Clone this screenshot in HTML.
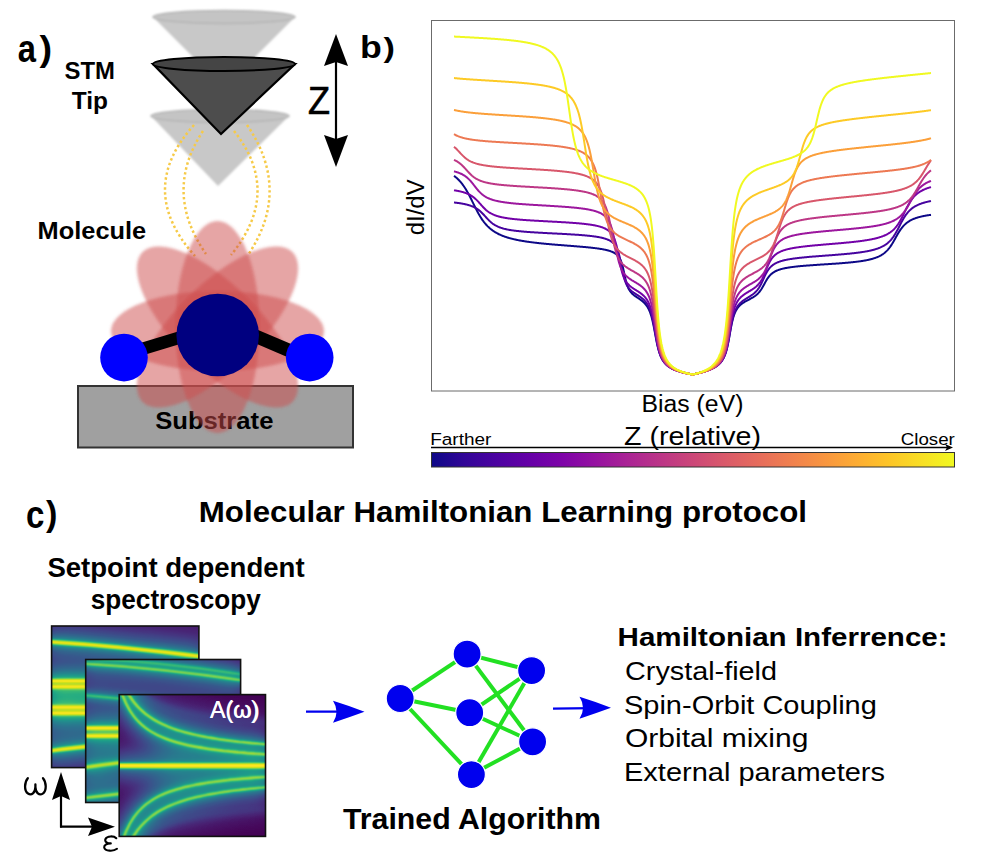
<!DOCTYPE html>
<html><head><meta charset="utf-8">
<style>
html,body{margin:0;padding:0;background:#fff;}
body{width:997px;height:856px;overflow:hidden;}
svg{display:block;}
text{font-family:"Liberation Sans",sans-serif;}
.b{font-weight:bold;}
</style></head><body>
<svg width="997" height="856" viewBox="0 0 997 856">
<defs>
<filter id="blur1" x="-20%" y="-20%" width="140%" height="140%"><feGaussianBlur stdDeviation="1.2"/></filter>
<filter id="blurOrb" x="-20%" y="-20%" width="140%" height="140%"><feGaussianBlur stdDeviation="1.5"/></filter>
<linearGradient id="plasmaG" x1="0" y1="0" x2="1" y2="0"><stop offset="0.000" stop-color="#0d0887"/><stop offset="0.062" stop-color="#310597"/><stop offset="0.125" stop-color="#4c02a1"/><stop offset="0.188" stop-color="#6600a7"/><stop offset="0.250" stop-color="#7e03a8"/><stop offset="0.312" stop-color="#9511a1"/><stop offset="0.375" stop-color="#aa2395"/><stop offset="0.438" stop-color="#bc3587"/><stop offset="0.500" stop-color="#cc4778"/><stop offset="0.562" stop-color="#da5a6a"/><stop offset="0.625" stop-color="#e66c5c"/><stop offset="0.688" stop-color="#f0804e"/><stop offset="0.750" stop-color="#f89540"/><stop offset="0.812" stop-color="#fdac33"/><stop offset="0.875" stop-color="#fdc527"/><stop offset="0.938" stop-color="#f8df25"/><stop offset="1.000" stop-color="#f0f921"/></linearGradient>
</defs>
<rect width="997" height="856" fill="#fff"/>
<g filter="url(#blur1)" opacity="1">
<path d="M153 17 L295 17 L224 88 Z" fill="#c8c8c8"/>
<ellipse cx="224" cy="17" rx="71" ry="6.5" fill="#c4c4c4" stroke="#b4b4b4" stroke-width="1.5"/>
<path d="M151 116 L289 116 L218 186 Z" fill="#c8c8c8"/>
<ellipse cx="220" cy="116" rx="69" ry="6.5" fill="#c4c4c4" stroke="#b4b4b4" stroke-width="1.5"/>
</g>
<path d="M153 64 L295 64 L221 134 Z" fill="#4d4d4d" stroke="#000" stroke-width="2.2" stroke-linejoin="miter"/>
<ellipse cx="224" cy="64" rx="71" ry="7" fill="#454545" stroke="#000" stroke-width="2"/>
<g fill="none" stroke="#f6ca48" stroke-width="2.5" stroke-dasharray="2.4 2.6">
<path d="M194 125 Q135.5 190 195 256"/>
<path d="M203 131 Q162.7 192 206 254"/>
<path d="M234 131 Q282.5 192 231 255"/>
<path d="M247 125 Q291.7 190 248 255"/>
</g>
<line x1="336" y1="58" x2="336" y2="143" stroke="#000" stroke-width="2.2"/>
<path d="M336 34 L348 66 L336 62 L324 66 Z" fill="#000"/>
<path d="M336 167 L348 135 L336 139 L324 135 Z" fill="#000"/>
<rect x="78" y="386" width="275" height="61.5" fill="#a0a0a0" stroke="#333" stroke-width="2"/>
<text x="155.20" y="429.30" font-size="24.60" font-weight="bold" fill="#000" textLength="118.20" lengthAdjust="spacingAndGlyphs">Substrate</text>
<g filter="url(#blurOrb)">
<ellipse cx="217.5" cy="331" rx="106.5" ry="40" fill="rgb(205,75,75)" fill-opacity="0.5"/>
<ellipse cx="217.5" cy="327" rx="106" ry="42" fill="rgb(205,75,75)" fill-opacity="0.5" transform="rotate(45 217.5 327)"/>
<ellipse cx="217.5" cy="327" rx="106" ry="42" fill="rgb(205,75,75)" fill-opacity="0.5" transform="rotate(90 217.5 327)"/>
<ellipse cx="217.5" cy="327" rx="106" ry="42" fill="rgb(205,75,75)" fill-opacity="0.5" transform="rotate(135 217.5 327)"/>
</g>
<line x1="124" y1="354.4" x2="217.7" y2="326" stroke="#000" stroke-width="12.5"/>
<line x1="309.7" y1="359.3" x2="217.7" y2="320" stroke="#000" stroke-width="13.5"/>
<circle cx="217.7" cy="335" r="41.3" fill="#000080"/>
<circle cx="124" cy="357.6" r="23.8" fill="#0000ff"/>
<circle cx="309.7" cy="357.6" r="23.8" fill="#0000ff"/>
<rect x="431.5" y="20.5" width="523" height="370.5" fill="none" stroke="#6b6b6b" stroke-width="1"/>
<g fill="none" stroke-width="2" stroke-linejoin="round" stroke-linecap="butt">
<path d="M454.0 175.83 L454.5 176.20 L455.0 176.59 L455.5 176.99 L456.0 177.41 L456.5 177.84 L457.0 178.29 L457.5 178.75 L458.0 179.23 L458.5 179.72 L459.0 180.23 L459.5 180.76 L460.0 181.31 L460.5 181.88 L461.0 182.47 L461.5 183.08 L462.0 183.71 L462.5 184.36 L463.0 185.04 L463.5 185.73 L464.0 186.45 L464.5 187.20 L465.0 187.96 L465.5 188.75 L466.0 189.56 L466.5 190.40 L467.0 191.25 L467.5 192.13 L468.0 193.03 L468.5 193.95 L469.0 194.89 L469.5 195.85 L470.0 196.82 L470.5 197.81 L471.0 198.80 L471.5 199.81 L472.0 200.83 L472.5 201.85 L473.0 202.87 L473.5 203.89 L474.0 204.91 L474.5 205.93 L475.0 206.94 L475.5 207.94 L476.0 208.92 L476.5 209.90 L477.0 210.86 L477.5 211.80 L478.0 212.72 L478.5 213.62 L479.0 214.51 L479.5 215.37 L480.0 216.21 L480.5 217.02 L481.0 217.82 L481.5 218.59 L482.0 219.33 L482.5 220.06 L483.0 220.76 L483.5 221.43 L484.0 222.09 L484.5 222.72 L485.0 223.34 L485.5 223.93 L486.0 224.50 L486.5 225.06 L487.0 225.59 L487.5 226.11 L488.0 226.60 L488.5 227.08 L489.0 227.55 L489.5 228.00 L490.0 228.43 L490.5 228.85 L491.0 229.26 L491.5 229.65 L492.0 230.03 L492.5 230.40 L493.0 230.75 L493.5 231.09 L494.0 231.43 L494.5 231.75 L495.0 232.06 L495.5 232.36 L496.0 232.65 L496.5 232.94 L497.0 233.21 L497.5 233.48 L498.0 233.74 L498.5 233.99 L499.0 234.24 L499.5 234.47 L500.0 234.70 L500.5 234.93 L501.0 235.15 L501.5 235.36 L502.0 235.57 L502.5 235.77 L503.0 235.96 L503.5 236.15 L504.0 236.34 L504.5 236.52 L505.0 236.70 L505.5 236.87 L506.0 237.04 L506.5 237.20 L507.0 237.36 L507.5 237.52 L508.0 237.67 L508.5 237.82 L509.0 237.96 L509.5 238.10 L510.0 238.24 L510.5 238.38 L511.0 238.51 L511.5 238.64 L512.0 238.77 L512.5 238.89 L513.0 239.01 L513.5 239.13 L514.0 239.25 L514.5 239.37 L515.0 239.48 L515.5 239.59 L516.0 239.70 L516.5 239.80 L517.0 239.91 L517.5 240.01 L518.0 240.11 L518.5 240.21 L519.0 240.30 L519.5 240.40 L520.0 240.49 L520.5 240.58 L521.0 240.67 L521.5 240.76 L522.0 240.84 L522.5 240.93 L523.0 241.01 L523.5 241.10 L524.0 241.18 L524.5 241.26 L525.0 241.34 L525.5 241.41 L526.0 241.49 L526.5 241.56 L527.0 241.64 L527.5 241.71 L528.0 241.78 L528.5 241.85 L529.0 241.92 L529.5 241.99 L530.0 242.06 L530.5 242.12 L531.0 242.19 L531.5 242.26 L532.0 242.32 L532.5 242.38 L533.0 242.44 L533.5 242.51 L534.0 242.57 L534.5 242.63 L535.0 242.69 L535.5 242.75 L536.0 242.80 L536.5 242.86 L537.0 242.92 L537.5 242.97 L538.0 243.03 L538.5 243.08 L539.0 243.14 L539.5 243.19 L540.0 243.24 L540.5 243.30 L541.0 243.35 L541.5 243.40 L542.0 243.45 L542.5 243.50 L543.0 243.55 L543.5 243.60 L544.0 243.65 L544.5 243.70 L545.0 243.74 L545.5 243.79 L546.0 243.84 L546.5 243.89 L547.0 243.93 L547.5 243.98 L548.0 244.03 L548.5 244.07 L549.0 244.12 L549.5 244.16 L550.0 244.20 L550.5 244.25 L551.0 244.29 L551.5 244.34 L552.0 244.38 L552.5 244.42 L553.0 244.47 L553.5 244.51 L554.0 244.55 L554.5 244.59 L555.0 244.63 L555.5 244.67 L556.0 244.72 L556.5 244.76 L557.0 244.80 L557.5 244.84 L558.0 244.88 L558.5 244.92 L559.0 244.96 L559.5 245.00 L560.0 245.04 L560.5 245.08 L561.0 245.12 L561.5 245.16 L562.0 245.20 L562.5 245.24 L563.0 245.28 L563.5 245.32 L564.0 245.36 L564.5 245.40 L565.0 245.43 L565.5 245.47 L566.0 245.51 L566.5 245.55 L567.0 245.59 L567.5 245.63 L568.0 245.67 L568.5 245.71 L569.0 245.75 L569.5 245.79 L570.0 245.82 L570.5 245.86 L571.0 245.90 L571.5 245.94 L572.0 245.98 L572.5 246.02 L573.0 246.06 L573.5 246.10 L574.0 246.14 L574.5 246.18 L575.0 246.22 L575.5 246.26 L576.0 246.30 L576.5 246.34 L577.0 246.38 L577.5 246.42 L578.0 246.46 L578.5 246.50 L579.0 246.55 L579.5 246.59 L580.0 246.63 L580.5 246.67 L581.0 246.72 L581.5 246.76 L582.0 246.80 L582.5 246.85 L583.0 246.89 L583.5 246.93 L584.0 246.98 L584.5 247.02 L585.0 247.07 L585.5 247.12 L586.0 247.16 L586.5 247.21 L587.0 247.26 L587.5 247.31 L588.0 247.35 L588.5 247.40 L589.0 247.45 L589.5 247.51 L590.0 247.56 L590.5 247.61 L591.0 247.66 L591.5 247.72 L592.0 247.77 L592.5 247.83 L593.0 247.88 L593.5 247.94 L594.0 248.00 L594.5 248.06 L595.0 248.12 L595.5 248.18 L596.0 248.25 L596.5 248.31 L597.0 248.38 L597.5 248.45 L598.0 248.51 L598.5 248.59 L599.0 248.66 L599.5 248.73 L600.0 248.81 L600.5 248.89 L601.0 248.97 L601.5 249.05 L602.0 249.14 L602.5 249.23 L603.0 249.32 L603.5 249.41 L604.0 249.51 L604.5 249.61 L605.0 249.71 L605.5 249.82 L606.0 249.93 L606.5 250.05 L607.0 250.17 L607.5 250.30 L608.0 250.44 L608.5 250.57 L609.0 250.72 L609.5 250.87 L610.0 251.04 L610.5 251.21 L611.0 251.39 L611.5 251.58 L612.0 251.78 L612.5 252.00 L613.0 252.23 L613.5 252.48 L614.0 252.75 L614.5 253.03 L615.0 253.34 L615.5 253.68 L616.0 254.05 L616.5 254.46 L617.0 254.91 L617.5 255.40 L618.0 255.95 L618.5 256.57 L619.0 257.26 L619.5 258.05 L620.0 258.95 L620.5 259.98 L621.0 261.16 L621.5 262.51 L622.0 264.07 L622.5 265.84 L623.0 267.83 L623.5 270.01 L624.0 272.33 L624.5 274.72 L625.0 277.06 L625.5 279.28 L626.0 281.32 L626.5 283.15 L627.0 284.76 L627.5 286.18 L628.0 287.42 L628.5 288.50 L629.0 289.46 L629.5 290.30 L630.0 291.06 L630.5 291.74 L631.0 292.36 L631.5 292.92 L632.0 293.44 L632.5 293.92 L633.0 294.37 L633.5 294.80 L634.0 295.20 L634.5 295.59 L635.0 295.96 L635.5 296.32 L636.0 296.67 L636.5 297.01 L637.0 297.35 L637.5 297.69 L638.0 298.02 L638.5 298.36 L639.0 298.70 L639.5 299.04 L640.0 299.39 L640.5 299.75 L641.0 300.12 L641.5 300.50 L642.0 300.89 L642.5 301.30 L643.0 301.73 L643.5 302.18 L644.0 302.66 L644.5 303.17 L645.0 303.71 L645.5 304.28 L646.0 304.90 L646.5 305.56 L647.0 306.28 L647.5 307.06 L648.0 307.91 L648.5 308.85 L649.0 309.87 L649.5 310.99 L650.0 312.24 L650.5 313.61 L651.0 315.13 L651.5 316.81 L652.0 318.66 L652.5 320.70 L653.0 322.91 L653.5 325.30 L654.0 327.84 L654.5 330.48 L655.0 333.19 L655.5 335.90 L656.0 338.56 L656.5 341.12 L657.0 343.53 L657.5 345.78 L658.0 347.84 L658.5 349.73 L659.0 351.44 L659.5 352.99 L660.0 354.40 L660.5 355.67 L661.0 356.82 L661.5 357.86 L662.0 358.81 L662.5 359.68 L663.0 360.48 L663.5 361.21 L664.0 361.89 L664.5 362.51 L665.0 363.09 L665.5 363.63 L666.0 364.13 L666.5 364.60 L667.0 365.04 L667.5 365.46 L668.0 365.85 L668.5 366.22 L669.0 366.56 L669.5 366.90 L670.0 367.21 L670.5 367.51 L671.0 367.80 L671.5 368.07 L672.0 368.33 L672.5 368.59 L673.0 368.83 L673.5 369.06 L674.0 369.28 L674.5 369.50 L675.0 369.71 L675.5 369.91 L676.0 370.10 L676.5 370.29 L677.0 370.47 L677.5 370.65 L678.0 370.82 L678.5 370.99 L679.0 371.16 L679.5 371.31 L680.0 371.47 L680.5 371.62 L681.0 371.77 L681.5 371.91 L682.0 372.06 L682.5 372.19 L683.0 372.33 L683.5 372.46 L684.0 372.59 L684.5 372.72 L685.0 372.84 L685.5 372.97 L686.0 373.09 L686.5 373.21 L687.0 373.32 L687.5 373.44 L688.0 373.55 L688.5 373.66 L689.0 373.77 L689.5 373.88 L690.0 373.99 L690.5 374.09 L691.0 374.20 L691.5 374.30 L692.0 374.40 L692.5 374.50 L693.0 374.39 L693.5 374.27 L694.0 374.15 L694.5 374.04 L695.0 373.92 L695.5 373.80 L696.0 373.68 L696.5 373.55 L697.0 373.43 L697.5 373.30 L698.0 373.18 L698.5 373.05 L699.0 372.92 L699.5 372.78 L700.0 372.65 L700.5 372.51 L701.0 372.38 L701.5 372.24 L702.0 372.09 L702.5 371.95 L703.0 371.80 L703.5 371.65 L704.0 371.50 L704.5 371.34 L705.0 371.18 L705.5 371.02 L706.0 370.85 L706.5 370.68 L707.0 370.51 L707.5 370.33 L708.0 370.15 L708.5 369.97 L709.0 369.78 L709.5 369.58 L710.0 369.38 L710.5 369.17 L711.0 368.95 L711.5 368.73 L712.0 368.50 L712.5 368.26 L713.0 368.02 L713.5 367.76 L714.0 367.49 L714.5 367.22 L715.0 366.93 L715.5 366.62 L716.0 366.31 L716.5 365.97 L717.0 365.62 L717.5 365.25 L718.0 364.86 L718.5 364.44 L719.0 364.00 L719.5 363.52 L720.0 363.02 L720.5 362.47 L721.0 361.88 L721.5 361.25 L722.0 360.56 L722.5 359.81 L723.0 358.98 L723.5 358.07 L724.0 357.07 L724.5 355.96 L725.0 354.73 L725.5 353.36 L726.0 351.82 L726.5 350.10 L727.0 348.19 L727.5 346.08 L728.0 343.75 L728.5 341.23 L729.0 338.54 L729.5 335.75 L730.0 332.91 L730.5 330.11 L731.0 327.42 L731.5 324.88 L732.0 322.54 L732.5 320.41 L733.0 318.50 L733.5 316.78 L734.0 315.25 L734.5 313.88 L735.0 312.66 L735.5 311.56 L736.0 310.58 L736.5 309.69 L737.0 308.89 L737.5 308.16 L738.0 307.49 L738.5 306.88 L739.0 306.31 L739.5 305.79 L740.0 305.30 L740.5 304.85 L741.0 304.42 L741.5 304.02 L742.0 303.64 L742.5 303.28 L743.0 302.94 L743.5 302.61 L744.0 302.30 L744.5 301.99 L745.0 301.70 L745.5 301.41 L746.0 301.13 L746.5 300.86 L747.0 300.59 L747.5 300.32 L748.0 300.06 L748.5 299.79 L749.0 299.53 L749.5 299.27 L750.0 299.00 L750.5 298.73 L751.0 298.46 L751.5 298.18 L752.0 297.90 L752.5 297.61 L753.0 297.31 L753.5 297.00 L754.0 296.67 L754.5 296.34 L755.0 295.99 L755.5 295.62 L756.0 295.23 L756.5 294.82 L757.0 294.38 L757.5 293.92 L758.0 293.43 L758.5 292.91 L759.0 292.35 L759.5 291.76 L760.0 291.12 L760.5 290.45 L761.0 289.73 L761.5 288.97 L762.0 288.17 L762.5 287.33 L763.0 286.46 L763.5 285.56 L764.0 284.65 L764.5 283.72 L765.0 282.80 L765.5 281.89 L766.0 281.01 L766.5 280.15 L767.0 279.34 L767.5 278.56 L768.0 277.82 L768.5 277.14 L769.0 276.49 L769.5 275.89 L770.0 275.33 L770.5 274.81 L771.0 274.33 L771.5 273.88 L772.0 273.46 L772.5 273.08 L773.0 272.71 L773.5 272.38 L774.0 272.06 L774.5 271.77 L775.0 271.49 L775.5 271.23 L776.0 270.98 L776.5 270.75 L777.0 270.54 L777.5 270.33 L778.0 270.14 L778.5 269.95 L779.0 269.78 L779.5 269.61 L780.0 269.45 L780.5 269.30 L781.0 269.16 L781.5 269.02 L782.0 268.89 L782.5 268.76 L783.0 268.64 L783.5 268.52 L784.0 268.41 L784.5 268.31 L785.0 268.20 L785.5 268.10 L786.0 268.01 L786.5 267.91 L787.0 267.82 L787.5 267.73 L788.0 267.65 L788.5 267.57 L789.0 267.49 L789.5 267.41 L790.0 267.34 L790.5 267.26 L791.0 267.19 L791.5 267.12 L792.0 267.06 L792.5 266.99 L793.0 266.93 L793.5 266.87 L794.0 266.80 L794.5 266.75 L795.0 266.69 L795.5 266.63 L796.0 266.57 L796.5 266.52 L797.0 266.47 L797.5 266.41 L798.0 266.36 L798.5 266.31 L799.0 266.26 L799.5 266.21 L800.0 266.17 L800.5 266.12 L801.0 266.07 L801.5 266.03 L802.0 265.98 L802.5 265.94 L803.0 265.90 L803.5 265.85 L804.0 265.81 L804.5 265.77 L805.0 265.73 L805.5 265.69 L806.0 265.65 L806.5 265.61 L807.0 265.57 L807.5 265.53 L808.0 265.49 L808.5 265.45 L809.0 265.42 L809.5 265.38 L810.0 265.34 L810.5 265.31 L811.0 265.27 L811.5 265.23 L812.0 265.20 L812.5 265.16 L813.0 265.13 L813.5 265.09 L814.0 265.06 L814.5 265.02 L815.0 264.99 L815.5 264.96 L816.0 264.92 L816.5 264.89 L817.0 264.85 L817.5 264.82 L818.0 264.79 L818.5 264.76 L819.0 264.72 L819.5 264.69 L820.0 264.66 L820.5 264.62 L821.0 264.59 L821.5 264.56 L822.0 264.53 L822.5 264.49 L823.0 264.46 L823.5 264.43 L824.0 264.40 L824.5 264.36 L825.0 264.33 L825.5 264.30 L826.0 264.27 L826.5 264.23 L827.0 264.20 L827.5 264.17 L828.0 264.14 L828.5 264.10 L829.0 264.07 L829.5 264.04 L830.0 264.01 L830.5 263.97 L831.0 263.94 L831.5 263.91 L832.0 263.87 L832.5 263.84 L833.0 263.80 L833.5 263.77 L834.0 263.74 L834.5 263.70 L835.0 263.67 L835.5 263.63 L836.0 263.60 L836.5 263.56 L837.0 263.53 L837.5 263.49 L838.0 263.45 L838.5 263.42 L839.0 263.38 L839.5 263.34 L840.0 263.31 L840.5 263.27 L841.0 263.23 L841.5 263.19 L842.0 263.15 L842.5 263.11 L843.0 263.07 L843.5 263.03 L844.0 262.99 L844.5 262.95 L845.0 262.91 L845.5 262.87 L846.0 262.82 L846.5 262.78 L847.0 262.74 L847.5 262.69 L848.0 262.65 L848.5 262.60 L849.0 262.55 L849.5 262.51 L850.0 262.46 L850.5 262.41 L851.0 262.36 L851.5 262.31 L852.0 262.26 L852.5 262.21 L853.0 262.15 L853.5 262.10 L854.0 262.04 L854.5 261.99 L855.0 261.93 L855.5 261.87 L856.0 261.81 L856.5 261.75 L857.0 261.69 L857.5 261.63 L858.0 261.57 L858.5 261.50 L859.0 261.43 L859.5 261.37 L860.0 261.30 L860.5 261.22 L861.0 261.15 L861.5 261.08 L862.0 261.00 L862.5 260.92 L863.0 260.84 L863.5 260.76 L864.0 260.67 L864.5 260.58 L865.0 260.50 L865.5 260.40 L866.0 260.31 L866.5 260.21 L867.0 260.11 L867.5 260.01 L868.0 259.90 L868.5 259.79 L869.0 259.68 L869.5 259.56 L870.0 259.44 L870.5 259.32 L871.0 259.19 L871.5 259.06 L872.0 258.92 L872.5 258.78 L873.0 258.64 L873.5 258.48 L874.0 258.33 L874.5 258.16 L875.0 257.99 L875.5 257.82 L876.0 257.63 L876.5 257.44 L877.0 257.25 L877.5 257.04 L878.0 256.82 L878.5 256.60 L879.0 256.36 L879.5 256.12 L880.0 255.86 L880.5 255.59 L881.0 255.31 L881.5 255.02 L882.0 254.71 L882.5 254.39 L883.0 254.05 L883.5 253.69 L884.0 253.32 L884.5 252.93 L885.0 252.51 L885.5 252.08 L886.0 251.62 L886.5 251.14 L887.0 250.64 L887.5 250.11 L888.0 249.55 L888.5 248.96 L889.0 248.35 L889.5 247.71 L890.0 247.04 L890.5 246.33 L891.0 245.60 L891.5 244.84 L892.0 244.06 L892.5 243.24 L893.0 242.41 L893.5 241.55 L894.0 240.68 L894.5 239.79 L895.0 238.89 L895.5 237.99 L896.0 237.09 L896.5 236.20 L897.0 235.31 L897.5 234.44 L898.0 233.58 L898.5 232.75 L899.0 231.94 L899.5 231.15 L900.0 230.39 L900.5 229.66 L901.0 228.96 L901.5 228.29 L902.0 227.64 L902.5 227.03 L903.0 226.45 L903.5 225.89 L904.0 225.36 L904.5 224.86 L905.0 224.38 L905.5 223.92 L906.0 223.49 L906.5 223.08 L907.0 222.68 L907.5 222.31 L908.0 221.96 L908.5 221.62 L909.0 221.30 L909.5 220.99 L910.0 220.70 L910.5 220.42 L911.0 220.15 L911.5 219.90 L912.0 219.66 L912.5 219.42 L913.0 219.20 L913.5 218.99 L914.0 218.78 L914.5 218.59 L915.0 218.40 L915.5 218.22 L916.0 218.04 L916.5 217.87 L917.0 217.71 L917.5 217.56 L918.0 217.41 L918.5 217.27 L919.0 217.13 L919.5 216.99 L920.0 216.86 L920.5 216.74 L921.0 216.62 L921.5 216.50 L922.0 216.39 L922.5 216.28 L923.0 216.17 L923.5 216.07 L924.0 215.97 L924.5 215.87 L925.0 215.78 L925.5 215.69 L926.0 215.60 L926.5 215.51 L927.0 215.43 L927.5 215.35 L928.0 215.27 L928.5 215.19 L929.0 215.12 L929.5 215.05 L930.0 214.98 L930.5 214.91 L931.0 214.84" stroke="#0d0887"/>
<path d="M454.0 202.49 L454.5 202.55 L455.0 202.60 L455.5 202.66 L456.0 202.72 L456.5 202.78 L457.0 202.84 L457.5 202.91 L458.0 202.97 L458.5 203.04 L459.0 203.11 L459.5 203.19 L460.0 203.26 L460.5 203.34 L461.0 203.42 L461.5 203.50 L462.0 203.59 L462.5 203.68 L463.0 203.77 L463.5 203.87 L464.0 203.97 L464.5 204.07 L465.0 204.18 L465.5 204.29 L466.0 204.40 L466.5 204.52 L467.0 204.65 L467.5 204.78 L468.0 204.92 L468.5 205.06 L469.0 205.21 L469.5 205.36 L470.0 205.53 L470.5 205.70 L471.0 205.87 L471.5 206.06 L472.0 206.25 L472.5 206.46 L473.0 206.67 L473.5 206.90 L474.0 207.13 L474.5 207.38 L475.0 207.64 L475.5 207.91 L476.0 208.20 L476.5 208.50 L477.0 208.82 L477.5 209.15 L478.0 209.50 L478.5 209.86 L479.0 210.25 L479.5 210.65 L480.0 211.07 L480.5 211.51 L481.0 211.96 L481.5 212.43 L482.0 212.92 L482.5 213.42 L483.0 213.94 L483.5 214.47 L484.0 215.01 L484.5 215.56 L485.0 216.11 L485.5 216.67 L486.0 217.23 L486.5 217.78 L487.0 218.33 L487.5 218.87 L488.0 219.40 L488.5 219.92 L489.0 220.42 L489.5 220.91 L490.0 221.38 L490.5 221.84 L491.0 222.27 L491.5 222.69 L492.0 223.09 L492.5 223.48 L493.0 223.85 L493.5 224.20 L494.0 224.53 L494.5 224.85 L495.0 225.15 L495.5 225.44 L496.0 225.71 L496.5 225.97 L497.0 226.22 L497.5 226.46 L498.0 226.68 L498.5 226.90 L499.0 227.10 L499.5 227.30 L500.0 227.49 L500.5 227.67 L501.0 227.84 L501.5 228.00 L502.0 228.16 L502.5 228.31 L503.0 228.45 L503.5 228.59 L504.0 228.73 L504.5 228.85 L505.0 228.98 L505.5 229.09 L506.0 229.21 L506.5 229.32 L507.0 229.42 L507.5 229.53 L508.0 229.62 L508.5 229.72 L509.0 229.81 L509.5 229.90 L510.0 229.99 L510.5 230.07 L511.0 230.15 L511.5 230.23 L512.0 230.30 L512.5 230.38 L513.0 230.45 L513.5 230.52 L514.0 230.59 L514.5 230.65 L515.0 230.72 L515.5 230.78 L516.0 230.84 L516.5 230.90 L517.0 230.96 L517.5 231.01 L518.0 231.07 L518.5 231.12 L519.0 231.18 L519.5 231.23 L520.0 231.28 L520.5 231.33 L521.0 231.37 L521.5 231.42 L522.0 231.47 L522.5 231.51 L523.0 231.56 L523.5 231.60 L524.0 231.64 L524.5 231.69 L525.0 231.73 L525.5 231.77 L526.0 231.81 L526.5 231.85 L527.0 231.88 L527.5 231.92 L528.0 231.96 L528.5 232.00 L529.0 232.03 L529.5 232.07 L530.0 232.10 L530.5 232.14 L531.0 232.17 L531.5 232.21 L532.0 232.24 L532.5 232.27 L533.0 232.30 L533.5 232.34 L534.0 232.37 L534.5 232.40 L535.0 232.43 L535.5 232.46 L536.0 232.49 L536.5 232.52 L537.0 232.55 L537.5 232.58 L538.0 232.61 L538.5 232.64 L539.0 232.67 L539.5 232.69 L540.0 232.72 L540.5 232.75 L541.0 232.78 L541.5 232.81 L542.0 232.83 L542.5 232.86 L543.0 232.89 L543.5 232.91 L544.0 232.94 L544.5 232.97 L545.0 232.99 L545.5 233.02 L546.0 233.05 L546.5 233.07 L547.0 233.10 L547.5 233.13 L548.0 233.15 L548.5 233.18 L549.0 233.20 L549.5 233.23 L550.0 233.25 L550.5 233.28 L551.0 233.30 L551.5 233.33 L552.0 233.36 L552.5 233.38 L553.0 233.41 L553.5 233.43 L554.0 233.46 L554.5 233.48 L555.0 233.51 L555.5 233.53 L556.0 233.56 L556.5 233.59 L557.0 233.61 L557.5 233.64 L558.0 233.66 L558.5 233.69 L559.0 233.71 L559.5 233.74 L560.0 233.77 L560.5 233.79 L561.0 233.82 L561.5 233.85 L562.0 233.87 L562.5 233.90 L563.0 233.93 L563.5 233.95 L564.0 233.98 L564.5 234.01 L565.0 234.03 L565.5 234.06 L566.0 234.09 L566.5 234.12 L567.0 234.15 L567.5 234.17 L568.0 234.20 L568.5 234.23 L569.0 234.26 L569.5 234.29 L570.0 234.32 L570.5 234.35 L571.0 234.38 L571.5 234.41 L572.0 234.44 L572.5 234.47 L573.0 234.50 L573.5 234.53 L574.0 234.57 L574.5 234.60 L575.0 234.63 L575.5 234.67 L576.0 234.70 L576.5 234.73 L577.0 234.77 L577.5 234.80 L578.0 234.84 L578.5 234.87 L579.0 234.91 L579.5 234.95 L580.0 234.99 L580.5 235.02 L581.0 235.06 L581.5 235.10 L582.0 235.14 L582.5 235.18 L583.0 235.22 L583.5 235.27 L584.0 235.31 L584.5 235.35 L585.0 235.40 L585.5 235.44 L586.0 235.49 L586.5 235.54 L587.0 235.59 L587.5 235.63 L588.0 235.68 L588.5 235.74 L589.0 235.79 L589.5 235.84 L590.0 235.90 L590.5 235.95 L591.0 236.01 L591.5 236.07 L592.0 236.13 L592.5 236.19 L593.0 236.26 L593.5 236.32 L594.0 236.39 L594.5 236.46 L595.0 236.53 L595.5 236.60 L596.0 236.68 L596.5 236.76 L597.0 236.84 L597.5 236.92 L598.0 237.01 L598.5 237.10 L599.0 237.19 L599.5 237.28 L600.0 237.38 L600.5 237.49 L601.0 237.59 L601.5 237.70 L602.0 237.82 L602.5 237.94 L603.0 238.07 L603.5 238.20 L604.0 238.34 L604.5 238.48 L605.0 238.63 L605.5 238.79 L606.0 238.96 L606.5 239.14 L607.0 239.33 L607.5 239.53 L608.0 239.74 L608.5 239.96 L609.0 240.20 L609.5 240.45 L610.0 240.73 L610.5 241.02 L611.0 241.34 L611.5 241.68 L612.0 242.05 L612.5 242.45 L613.0 242.89 L613.5 243.37 L614.0 243.91 L614.5 244.49 L615.0 245.15 L615.5 245.87 L616.0 246.69 L616.5 247.61 L617.0 248.64 L617.5 249.82 L618.0 251.16 L618.5 252.68 L619.0 254.40 L619.5 256.34 L620.0 258.50 L620.5 260.85 L621.0 263.36 L621.5 265.96 L622.0 268.56 L622.5 271.08 L623.0 273.44 L623.5 275.61 L624.0 277.56 L624.5 279.30 L625.0 280.84 L625.5 282.20 L626.0 283.41 L626.5 284.47 L627.0 285.43 L627.5 286.28 L628.0 287.05 L628.5 287.74 L629.0 288.38 L629.5 288.96 L630.0 289.50 L630.5 290.00 L631.0 290.47 L631.5 290.91 L632.0 291.33 L632.5 291.72 L633.0 292.10 L633.5 292.47 L634.0 292.82 L634.5 293.16 L635.0 293.50 L635.5 293.83 L636.0 294.15 L636.5 294.47 L637.0 294.79 L637.5 295.11 L638.0 295.44 L638.5 295.76 L639.0 296.09 L639.5 296.43 L640.0 296.77 L640.5 297.13 L641.0 297.49 L641.5 297.87 L642.0 298.26 L642.5 298.67 L643.0 299.11 L643.5 299.56 L644.0 300.04 L644.5 300.55 L645.0 301.09 L645.5 301.67 L646.0 302.29 L646.5 302.96 L647.0 303.69 L647.5 304.48 L648.0 305.35 L648.5 306.29 L649.0 307.33 L649.5 308.48 L650.0 309.75 L650.5 311.16 L651.0 312.72 L651.5 314.45 L652.0 316.36 L652.5 318.48 L653.0 320.79 L653.5 323.29 L654.0 325.96 L654.5 328.77 L655.0 331.65 L655.5 334.54 L656.0 337.39 L656.5 340.12 L657.0 342.70 L657.5 345.09 L658.0 347.29 L658.5 349.29 L659.0 351.11 L659.5 352.74 L660.0 354.22 L660.5 355.55 L661.0 356.75 L661.5 357.84 L662.0 358.83 L662.5 359.73 L663.0 360.55 L663.5 361.30 L664.0 361.99 L664.5 362.63 L665.0 363.23 L665.5 363.78 L666.0 364.29 L666.5 364.77 L667.0 365.21 L667.5 365.63 L668.0 366.03 L668.5 366.40 L669.0 366.75 L669.5 367.08 L670.0 367.40 L670.5 367.70 L671.0 367.99 L671.5 368.26 L672.0 368.52 L672.5 368.77 L673.0 369.01 L673.5 369.24 L674.0 369.46 L674.5 369.68 L675.0 369.88 L675.5 370.08 L676.0 370.27 L676.5 370.46 L677.0 370.64 L677.5 370.81 L678.0 370.98 L678.5 371.14 L679.0 371.30 L679.5 371.45 L680.0 371.61 L680.5 371.75 L681.0 371.90 L681.5 372.04 L682.0 372.17 L682.5 372.31 L683.0 372.44 L683.5 372.56 L684.0 372.69 L684.5 372.81 L685.0 372.93 L685.5 373.05 L686.0 373.16 L686.5 373.28 L687.0 373.39 L687.5 373.50 L688.0 373.60 L688.5 373.71 L689.0 373.81 L689.5 373.92 L690.0 374.02 L690.5 374.12 L691.0 374.21 L691.5 374.31 L692.0 374.41 L692.5 374.50 L693.0 374.39 L693.5 374.28 L694.0 374.17 L694.5 374.06 L695.0 373.94 L695.5 373.83 L696.0 373.71 L696.5 373.59 L697.0 373.47 L697.5 373.35 L698.0 373.23 L698.5 373.10 L699.0 372.98 L699.5 372.85 L700.0 372.72 L700.5 372.59 L701.0 372.45 L701.5 372.32 L702.0 372.18 L702.5 372.04 L703.0 371.89 L703.5 371.75 L704.0 371.60 L704.5 371.44 L705.0 371.29 L705.5 371.13 L706.0 370.97 L706.5 370.80 L707.0 370.63 L707.5 370.45 L708.0 370.27 L708.5 370.09 L709.0 369.90 L709.5 369.70 L710.0 369.50 L710.5 369.30 L711.0 369.08 L711.5 368.86 L712.0 368.63 L712.5 368.39 L713.0 368.15 L713.5 367.89 L714.0 367.62 L714.5 367.35 L715.0 367.05 L715.5 366.75 L716.0 366.43 L716.5 366.09 L717.0 365.74 L717.5 365.36 L718.0 364.96 L718.5 364.54 L719.0 364.09 L719.5 363.61 L720.0 363.10 L720.5 362.54 L721.0 361.94 L721.5 361.30 L722.0 360.59 L722.5 359.82 L723.0 358.98 L723.5 358.05 L724.0 357.03 L724.5 355.89 L725.0 354.63 L725.5 353.22 L726.0 351.65 L726.5 349.89 L727.0 347.93 L727.5 345.75 L728.0 343.36 L728.5 340.76 L729.0 337.99 L729.5 335.10 L730.0 332.17 L730.5 329.27 L731.0 326.47 L731.5 323.83 L732.0 321.40 L732.5 319.18 L733.0 317.18 L733.5 315.39 L734.0 313.79 L734.5 312.36 L735.0 311.08 L735.5 309.94 L736.0 308.90 L736.5 307.97 L737.0 307.13 L737.5 306.36 L738.0 305.65 L738.5 305.00 L739.0 304.40 L739.5 303.84 L740.0 303.32 L740.5 302.84 L741.0 302.38 L741.5 301.94 L742.0 301.53 L742.5 301.14 L743.0 300.76 L743.5 300.40 L744.0 300.05 L744.5 299.72 L745.0 299.39 L745.5 299.06 L746.0 298.75 L746.5 298.43 L747.0 298.12 L747.5 297.82 L748.0 297.51 L748.5 297.20 L749.0 296.89 L749.5 296.58 L750.0 296.26 L750.5 295.94 L751.0 295.61 L751.5 295.27 L752.0 294.92 L752.5 294.56 L753.0 294.18 L753.5 293.79 L754.0 293.38 L754.5 292.95 L755.0 292.49 L755.5 292.01 L756.0 291.51 L756.5 290.97 L757.0 290.39 L757.5 289.78 L758.0 289.13 L758.5 288.43 L759.0 287.69 L759.5 286.89 L760.0 286.04 L760.5 285.15 L761.0 284.20 L761.5 283.20 L762.0 282.16 L762.5 281.09 L763.0 280.00 L763.5 278.90 L764.0 277.79 L764.5 276.70 L765.0 275.64 L765.5 274.61 L766.0 273.63 L766.5 272.69 L767.0 271.81 L767.5 270.99 L768.0 270.21 L768.5 269.49 L769.0 268.82 L769.5 268.20 L770.0 267.62 L770.5 267.09 L771.0 266.59 L771.5 266.12 L772.0 265.69 L772.5 265.29 L773.0 264.91 L773.5 264.56 L774.0 264.23 L774.5 263.92 L775.0 263.63 L775.5 263.36 L776.0 263.10 L776.5 262.85 L777.0 262.62 L777.5 262.40 L778.0 262.20 L778.5 262.00 L779.0 261.81 L779.5 261.63 L780.0 261.46 L780.5 261.30 L781.0 261.14 L781.5 260.99 L782.0 260.85 L782.5 260.71 L783.0 260.58 L783.5 260.45 L784.0 260.33 L784.5 260.21 L785.0 260.09 L785.5 259.98 L786.0 259.87 L786.5 259.77 L787.0 259.67 L787.5 259.57 L788.0 259.48 L788.5 259.39 L789.0 259.30 L789.5 259.21 L790.0 259.13 L790.5 259.04 L791.0 258.96 L791.5 258.89 L792.0 258.81 L792.5 258.74 L793.0 258.66 L793.5 258.59 L794.0 258.52 L794.5 258.46 L795.0 258.39 L795.5 258.32 L796.0 258.26 L796.5 258.20 L797.0 258.14 L797.5 258.08 L798.0 258.02 L798.5 257.96 L799.0 257.90 L799.5 257.85 L800.0 257.79 L800.5 257.74 L801.0 257.68 L801.5 257.63 L802.0 257.58 L802.5 257.53 L803.0 257.48 L803.5 257.43 L804.0 257.38 L804.5 257.33 L805.0 257.28 L805.5 257.23 L806.0 257.19 L806.5 257.14 L807.0 257.10 L807.5 257.05 L808.0 257.01 L808.5 256.96 L809.0 256.92 L809.5 256.87 L810.0 256.83 L810.5 256.79 L811.0 256.75 L811.5 256.70 L812.0 256.66 L812.5 256.62 L813.0 256.58 L813.5 256.54 L814.0 256.50 L814.5 256.46 L815.0 256.42 L815.5 256.38 L816.0 256.34 L816.5 256.30 L817.0 256.26 L817.5 256.22 L818.0 256.18 L818.5 256.15 L819.0 256.11 L819.5 256.07 L820.0 256.03 L820.5 255.99 L821.0 255.96 L821.5 255.92 L822.0 255.88 L822.5 255.84 L823.0 255.80 L823.5 255.77 L824.0 255.73 L824.5 255.69 L825.0 255.65 L825.5 255.62 L826.0 255.58 L826.5 255.54 L827.0 255.50 L827.5 255.47 L828.0 255.43 L828.5 255.39 L829.0 255.35 L829.5 255.32 L830.0 255.28 L830.5 255.24 L831.0 255.20 L831.5 255.16 L832.0 255.13 L832.5 255.09 L833.0 255.05 L833.5 255.01 L834.0 254.97 L834.5 254.93 L835.0 254.89 L835.5 254.85 L836.0 254.81 L836.5 254.78 L837.0 254.74 L837.5 254.70 L838.0 254.65 L838.5 254.61 L839.0 254.57 L839.5 254.53 L840.0 254.49 L840.5 254.45 L841.0 254.41 L841.5 254.36 L842.0 254.32 L842.5 254.28 L843.0 254.23 L843.5 254.19 L844.0 254.15 L844.5 254.10 L845.0 254.06 L845.5 254.01 L846.0 253.97 L846.5 253.92 L847.0 253.87 L847.5 253.82 L848.0 253.78 L848.5 253.73 L849.0 253.68 L849.5 253.63 L850.0 253.58 L850.5 253.53 L851.0 253.47 L851.5 253.42 L852.0 253.37 L852.5 253.32 L853.0 253.26 L853.5 253.21 L854.0 253.15 L854.5 253.09 L855.0 253.03 L855.5 252.97 L856.0 252.91 L856.5 252.85 L857.0 252.79 L857.5 252.73 L858.0 252.66 L858.5 252.60 L859.0 252.53 L859.5 252.47 L860.0 252.40 L860.5 252.33 L861.0 252.25 L861.5 252.18 L862.0 252.11 L862.5 252.03 L863.0 251.95 L863.5 251.87 L864.0 251.79 L864.5 251.71 L865.0 251.63 L865.5 251.54 L866.0 251.45 L866.5 251.36 L867.0 251.27 L867.5 251.17 L868.0 251.07 L868.5 250.97 L869.0 250.87 L869.5 250.76 L870.0 250.66 L870.5 250.54 L871.0 250.43 L871.5 250.31 L872.0 250.19 L872.5 250.07 L873.0 249.94 L873.5 249.81 L874.0 249.67 L874.5 249.53 L875.0 249.38 L875.5 249.23 L876.0 249.08 L876.5 248.91 L877.0 248.75 L877.5 248.58 L878.0 248.40 L878.5 248.21 L879.0 248.02 L879.5 247.82 L880.0 247.61 L880.5 247.40 L881.0 247.17 L881.5 246.94 L882.0 246.70 L882.5 246.45 L883.0 246.18 L883.5 245.91 L884.0 245.62 L884.5 245.32 L885.0 245.00 L885.5 244.68 L886.0 244.33 L886.5 243.97 L887.0 243.59 L887.5 243.20 L888.0 242.78 L888.5 242.34 L889.0 241.88 L889.5 241.40 L890.0 240.90 L890.5 240.36 L891.0 239.81 L891.5 239.22 L892.0 238.61 L892.5 237.96 L893.0 237.29 L893.5 236.58 L894.0 235.84 L894.5 235.07 L895.0 234.27 L895.5 233.44 L896.0 232.58 L896.5 231.70 L897.0 230.79 L897.5 229.86 L898.0 228.91 L898.5 227.94 L899.0 226.97 L899.5 225.99 L900.0 225.01 L900.5 224.04 L901.0 223.08 L901.5 222.13 L902.0 221.20 L902.5 220.29 L903.0 219.40 L903.5 218.54 L904.0 217.71 L904.5 216.91 L905.0 216.14 L905.5 215.41 L906.0 214.70 L906.5 214.03 L907.0 213.38 L907.5 212.77 L908.0 212.18 L908.5 211.63 L909.0 211.10 L909.5 210.59 L910.0 210.11 L910.5 209.65 L911.0 209.22 L911.5 208.80 L912.0 208.41 L912.5 208.03 L913.0 207.67 L913.5 207.33 L914.0 207.00 L914.5 206.69 L915.0 206.39 L915.5 206.10 L916.0 205.83 L916.5 205.57 L917.0 205.32 L917.5 205.08 L918.0 204.85 L918.5 204.62 L919.0 204.41 L919.5 204.21 L920.0 204.01 L920.5 203.82 L921.0 203.64 L921.5 203.46 L922.0 203.29 L922.5 203.13 L923.0 202.97 L923.5 202.82 L924.0 202.67 L924.5 202.53 L925.0 202.39 L925.5 202.25 L926.0 202.12 L926.5 202.00 L927.0 201.88 L927.5 201.76 L928.0 201.64 L928.5 201.53 L929.0 201.43 L929.5 201.32 L930.0 201.22 L930.5 201.12 L931.0 201.02" stroke="#46039f"/>
<path d="M454.0 190.29 L454.5 190.37 L455.0 190.45 L455.5 190.53 L456.0 190.61 L456.5 190.70 L457.0 190.78 L457.5 190.88 L458.0 190.97 L458.5 191.07 L459.0 191.17 L459.5 191.28 L460.0 191.39 L460.5 191.50 L461.0 191.62 L461.5 191.74 L462.0 191.87 L462.5 192.01 L463.0 192.15 L463.5 192.29 L464.0 192.45 L464.5 192.61 L465.0 192.77 L465.5 192.95 L466.0 193.13 L466.5 193.32 L467.0 193.52 L467.5 193.73 L468.0 193.95 L468.5 194.18 L469.0 194.42 L469.5 194.67 L470.0 194.94 L470.5 195.22 L471.0 195.51 L471.5 195.82 L472.0 196.15 L472.5 196.49 L473.0 196.84 L473.5 197.22 L474.0 197.61 L474.5 198.02 L475.0 198.45 L475.5 198.90 L476.0 199.37 L476.5 199.85 L477.0 200.35 L477.5 200.87 L478.0 201.40 L478.5 201.94 L479.0 202.49 L479.5 203.06 L480.0 203.62 L480.5 204.19 L481.0 204.76 L481.5 205.33 L482.0 205.89 L482.5 206.45 L483.0 206.99 L483.5 207.52 L484.0 208.04 L484.5 208.54 L485.0 209.02 L485.5 209.49 L486.0 209.94 L486.5 210.37 L487.0 210.78 L487.5 211.17 L488.0 211.55 L488.5 211.91 L489.0 212.25 L489.5 212.57 L490.0 212.88 L490.5 213.18 L491.0 213.46 L491.5 213.73 L492.0 213.98 L492.5 214.23 L493.0 214.46 L493.5 214.68 L494.0 214.89 L494.5 215.09 L495.0 215.28 L495.5 215.47 L496.0 215.64 L496.5 215.81 L497.0 215.97 L497.5 216.13 L498.0 216.27 L498.5 216.42 L499.0 216.55 L499.5 216.68 L500.0 216.81 L500.5 216.93 L501.0 217.05 L501.5 217.16 L502.0 217.27 L502.5 217.37 L503.0 217.48 L503.5 217.57 L504.0 217.67 L504.5 217.76 L505.0 217.85 L505.5 217.93 L506.0 218.02 L506.5 218.10 L507.0 218.18 L507.5 218.25 L508.0 218.32 L508.5 218.40 L509.0 218.47 L509.5 218.53 L510.0 218.60 L510.5 218.66 L511.0 218.73 L511.5 218.79 L512.0 218.85 L512.5 218.91 L513.0 218.96 L513.5 219.02 L514.0 219.07 L514.5 219.13 L515.0 219.18 L515.5 219.23 L516.0 219.28 L516.5 219.33 L517.0 219.37 L517.5 219.42 L518.0 219.47 L518.5 219.51 L519.0 219.56 L519.5 219.60 L520.0 219.64 L520.5 219.68 L521.0 219.72 L521.5 219.76 L522.0 219.80 L522.5 219.84 L523.0 219.88 L523.5 219.92 L524.0 219.96 L524.5 219.99 L525.0 220.03 L525.5 220.07 L526.0 220.10 L526.5 220.14 L527.0 220.17 L527.5 220.20 L528.0 220.24 L528.5 220.27 L529.0 220.30 L529.5 220.34 L530.0 220.37 L530.5 220.40 L531.0 220.43 L531.5 220.46 L532.0 220.49 L532.5 220.52 L533.0 220.55 L533.5 220.58 L534.0 220.61 L534.5 220.64 L535.0 220.67 L535.5 220.70 L536.0 220.73 L536.5 220.76 L537.0 220.79 L537.5 220.82 L538.0 220.84 L538.5 220.87 L539.0 220.90 L539.5 220.93 L540.0 220.96 L540.5 220.98 L541.0 221.01 L541.5 221.04 L542.0 221.06 L542.5 221.09 L543.0 221.12 L543.5 221.15 L544.0 221.17 L544.5 221.20 L545.0 221.23 L545.5 221.25 L546.0 221.28 L546.5 221.31 L547.0 221.33 L547.5 221.36 L548.0 221.39 L548.5 221.41 L549.0 221.44 L549.5 221.47 L550.0 221.49 L550.5 221.52 L551.0 221.55 L551.5 221.57 L552.0 221.60 L552.5 221.63 L553.0 221.65 L553.5 221.68 L554.0 221.71 L554.5 221.73 L555.0 221.76 L555.5 221.79 L556.0 221.82 L556.5 221.84 L557.0 221.87 L557.5 221.90 L558.0 221.93 L558.5 221.96 L559.0 221.98 L559.5 222.01 L560.0 222.04 L560.5 222.07 L561.0 222.10 L561.5 222.13 L562.0 222.16 L562.5 222.19 L563.0 222.22 L563.5 222.25 L564.0 222.28 L564.5 222.31 L565.0 222.34 L565.5 222.37 L566.0 222.40 L566.5 222.43 L567.0 222.46 L567.5 222.50 L568.0 222.53 L568.5 222.56 L569.0 222.60 L569.5 222.63 L570.0 222.66 L570.5 222.70 L571.0 222.73 L571.5 222.77 L572.0 222.81 L572.5 222.84 L573.0 222.88 L573.5 222.92 L574.0 222.95 L574.5 222.99 L575.0 223.03 L575.5 223.07 L576.0 223.11 L576.5 223.15 L577.0 223.19 L577.5 223.24 L578.0 223.28 L578.5 223.32 L579.0 223.37 L579.5 223.41 L580.0 223.46 L580.5 223.50 L581.0 223.55 L581.5 223.60 L582.0 223.65 L582.5 223.70 L583.0 223.75 L583.5 223.80 L584.0 223.86 L584.5 223.91 L585.0 223.97 L585.5 224.03 L586.0 224.08 L586.5 224.14 L587.0 224.20 L587.5 224.27 L588.0 224.33 L588.5 224.40 L589.0 224.47 L589.5 224.54 L590.0 224.61 L590.5 224.68 L591.0 224.76 L591.5 224.83 L592.0 224.91 L592.5 225.00 L593.0 225.08 L593.5 225.17 L594.0 225.26 L594.5 225.35 L595.0 225.45 L595.5 225.55 L596.0 225.65 L596.5 225.76 L597.0 225.87 L597.5 225.99 L598.0 226.11 L598.5 226.23 L599.0 226.36 L599.5 226.50 L600.0 226.64 L600.5 226.79 L601.0 226.94 L601.5 227.10 L602.0 227.27 L602.5 227.45 L603.0 227.64 L603.5 227.84 L604.0 228.05 L604.5 228.27 L605.0 228.51 L605.5 228.76 L606.0 229.02 L606.5 229.30 L607.0 229.61 L607.5 229.93 L608.0 230.28 L608.5 230.65 L609.0 231.06 L609.5 231.50 L610.0 231.97 L610.5 232.49 L611.0 233.06 L611.5 233.69 L612.0 234.38 L612.5 235.14 L613.0 235.99 L613.5 236.94 L614.0 238.00 L614.5 239.19 L615.0 240.52 L615.5 242.02 L616.0 243.71 L616.5 245.60 L617.0 247.70 L617.5 250.00 L618.0 252.48 L618.5 255.10 L619.0 257.80 L619.5 260.49 L620.0 263.12 L620.5 265.61 L621.0 267.92 L621.5 270.03 L622.0 271.93 L622.5 273.63 L623.0 275.15 L623.5 276.51 L624.0 277.73 L624.5 278.81 L625.0 279.79 L625.5 280.67 L626.0 281.47 L626.5 282.20 L627.0 282.87 L627.5 283.48 L628.0 284.05 L628.5 284.58 L629.0 285.08 L629.5 285.55 L630.0 285.99 L630.5 286.40 L631.0 286.80 L631.5 287.18 L632.0 287.55 L632.5 287.90 L633.0 288.24 L633.5 288.58 L634.0 288.90 L634.5 289.22 L635.0 289.54 L635.5 289.86 L636.0 290.17 L636.5 290.48 L637.0 290.79 L637.5 291.11 L638.0 291.43 L638.5 291.75 L639.0 292.08 L639.5 292.42 L640.0 292.76 L640.5 293.12 L641.0 293.49 L641.5 293.87 L642.0 294.27 L642.5 294.69 L643.0 295.13 L643.5 295.59 L644.0 296.08 L644.5 296.60 L645.0 297.16 L645.5 297.75 L646.0 298.39 L646.5 299.08 L647.0 299.82 L647.5 300.64 L648.0 301.53 L648.5 302.50 L649.0 303.57 L649.5 304.76 L650.0 306.07 L650.5 307.53 L651.0 309.15 L651.5 310.96 L652.0 312.96 L652.5 315.18 L653.0 317.62 L653.5 320.28 L654.0 323.14 L654.5 326.14 L655.0 329.25 L655.5 332.38 L656.0 335.46 L656.5 338.42 L657.0 341.22 L657.5 343.81 L658.0 346.19 L658.5 348.34 L659.0 350.29 L659.5 352.04 L660.0 353.61 L660.5 355.03 L661.0 356.30 L661.5 357.45 L662.0 358.49 L662.5 359.44 L663.0 360.30 L663.5 361.09 L664.0 361.81 L664.5 362.48 L665.0 363.09 L665.5 363.66 L666.0 364.19 L666.5 364.69 L667.0 365.15 L667.5 365.58 L668.0 365.99 L668.5 366.37 L669.0 366.73 L669.5 367.07 L670.0 367.40 L670.5 367.71 L671.0 368.00 L671.5 368.28 L672.0 368.54 L672.5 368.80 L673.0 369.04 L673.5 369.27 L674.0 369.50 L674.5 369.71 L675.0 369.92 L675.5 370.12 L676.0 370.31 L676.5 370.50 L677.0 370.68 L677.5 370.85 L678.0 371.02 L678.5 371.19 L679.0 371.35 L679.5 371.50 L680.0 371.65 L680.5 371.80 L681.0 371.94 L681.5 372.08 L682.0 372.21 L682.5 372.35 L683.0 372.48 L683.5 372.60 L684.0 372.72 L684.5 372.85 L685.0 372.96 L685.5 373.08 L686.0 373.19 L686.5 373.30 L687.0 373.41 L687.5 373.52 L688.0 373.63 L688.5 373.73 L689.0 373.83 L689.5 373.93 L690.0 374.03 L690.5 374.13 L691.0 374.22 L691.5 374.32 L692.0 374.41 L692.5 374.50 L693.0 374.39 L693.5 374.29 L694.0 374.18 L694.5 374.07 L695.0 373.96 L695.5 373.85 L696.0 373.74 L696.5 373.62 L697.0 373.51 L697.5 373.39 L698.0 373.27 L698.5 373.15 L699.0 373.02 L699.5 372.90 L700.0 372.77 L700.5 372.64 L701.0 372.51 L701.5 372.37 L702.0 372.24 L702.5 372.10 L703.0 371.96 L703.5 371.81 L704.0 371.66 L704.5 371.51 L705.0 371.35 L705.5 371.20 L706.0 371.03 L706.5 370.87 L707.0 370.69 L707.5 370.52 L708.0 370.34 L708.5 370.15 L709.0 369.96 L709.5 369.76 L710.0 369.56 L710.5 369.35 L711.0 369.13 L711.5 368.90 L712.0 368.67 L712.5 368.42 L713.0 368.17 L713.5 367.91 L714.0 367.63 L714.5 367.34 L715.0 367.04 L715.5 366.72 L716.0 366.39 L716.5 366.04 L717.0 365.67 L717.5 365.28 L718.0 364.86 L718.5 364.41 L719.0 363.94 L719.5 363.43 L720.0 362.89 L720.5 362.30 L721.0 361.67 L721.5 360.98 L722.0 360.23 L722.5 359.41 L723.0 358.51 L723.5 357.52 L724.0 356.42 L724.5 355.20 L725.0 353.85 L725.5 352.33 L726.0 350.64 L726.5 348.74 L727.0 346.63 L727.5 344.27 L728.0 341.68 L728.5 338.87 L729.0 335.86 L729.5 332.73 L730.0 329.53 L730.5 326.37 L731.0 323.31 L731.5 320.43 L732.0 317.77 L732.5 315.35 L733.0 313.16 L733.5 311.20 L734.0 309.45 L734.5 307.89 L735.0 306.49 L735.5 305.24 L736.0 304.12 L736.5 303.10 L737.0 302.18 L737.5 301.35 L738.0 300.58 L738.5 299.88 L739.0 299.23 L739.5 298.63 L740.0 298.07 L740.5 297.55 L741.0 297.06 L741.5 296.60 L742.0 296.16 L742.5 295.75 L743.0 295.35 L743.5 294.97 L744.0 294.61 L744.5 294.26 L745.0 293.92 L745.5 293.59 L746.0 293.27 L746.5 292.95 L747.0 292.64 L747.5 292.34 L748.0 292.03 L748.5 291.73 L749.0 291.43 L749.5 291.13 L750.0 290.83 L750.5 290.53 L751.0 290.22 L751.5 289.91 L752.0 289.59 L752.5 289.27 L753.0 288.93 L753.5 288.59 L754.0 288.23 L754.5 287.87 L755.0 287.48 L755.5 287.09 L756.0 286.67 L756.5 286.23 L757.0 285.76 L757.5 285.27 L758.0 284.76 L758.5 284.20 L759.0 283.62 L759.5 282.99 L760.0 282.32 L760.5 281.60 L761.0 280.83 L761.5 280.00 L762.0 279.12 L762.5 278.18 L763.0 277.18 L763.5 276.13 L764.0 275.01 L764.5 273.86 L765.0 272.66 L765.5 271.43 L766.0 270.19 L766.5 268.96 L767.0 267.74 L767.5 266.54 L768.0 265.39 L768.5 264.29 L769.0 263.24 L769.5 262.26 L770.0 261.34 L770.5 260.47 L771.0 259.67 L771.5 258.93 L772.0 258.24 L772.5 257.59 L773.0 257.00 L773.5 256.45 L774.0 255.93 L774.5 255.45 L775.0 255.01 L775.5 254.59 L776.0 254.20 L776.5 253.84 L777.0 253.50 L777.5 253.17 L778.0 252.87 L778.5 252.59 L779.0 252.32 L779.5 252.06 L780.0 251.82 L780.5 251.59 L781.0 251.37 L781.5 251.17 L782.0 250.97 L782.5 250.78 L783.0 250.60 L783.5 250.42 L784.0 250.26 L784.5 250.10 L785.0 249.95 L785.5 249.80 L786.0 249.66 L786.5 249.52 L787.0 249.39 L787.5 249.26 L788.0 249.14 L788.5 249.02 L789.0 248.91 L789.5 248.79 L790.0 248.69 L790.5 248.58 L791.0 248.48 L791.5 248.38 L792.0 248.28 L792.5 248.19 L793.0 248.10 L793.5 248.01 L794.0 247.92 L794.5 247.84 L795.0 247.75 L795.5 247.67 L796.0 247.59 L796.5 247.52 L797.0 247.44 L797.5 247.37 L798.0 247.29 L798.5 247.22 L799.0 247.15 L799.5 247.08 L800.0 247.01 L800.5 246.95 L801.0 246.88 L801.5 246.82 L802.0 246.76 L802.5 246.69 L803.0 246.63 L803.5 246.57 L804.0 246.51 L804.5 246.45 L805.0 246.40 L805.5 246.34 L806.0 246.28 L806.5 246.23 L807.0 246.17 L807.5 246.12 L808.0 246.07 L808.5 246.01 L809.0 245.96 L809.5 245.91 L810.0 245.86 L810.5 245.81 L811.0 245.76 L811.5 245.71 L812.0 245.66 L812.5 245.61 L813.0 245.56 L813.5 245.52 L814.0 245.47 L814.5 245.42 L815.0 245.37 L815.5 245.33 L816.0 245.28 L816.5 245.24 L817.0 245.19 L817.5 245.15 L818.0 245.10 L818.5 245.06 L819.0 245.01 L819.5 244.97 L820.0 244.92 L820.5 244.88 L821.0 244.84 L821.5 244.79 L822.0 244.75 L822.5 244.71 L823.0 244.66 L823.5 244.62 L824.0 244.58 L824.5 244.54 L825.0 244.49 L825.5 244.45 L826.0 244.41 L826.5 244.37 L827.0 244.32 L827.5 244.28 L828.0 244.24 L828.5 244.20 L829.0 244.16 L829.5 244.11 L830.0 244.07 L830.5 244.03 L831.0 243.99 L831.5 243.95 L832.0 243.90 L832.5 243.86 L833.0 243.82 L833.5 243.78 L834.0 243.73 L834.5 243.69 L835.0 243.65 L835.5 243.61 L836.0 243.56 L836.5 243.52 L837.0 243.48 L837.5 243.44 L838.0 243.39 L838.5 243.35 L839.0 243.31 L839.5 243.26 L840.0 243.22 L840.5 243.17 L841.0 243.13 L841.5 243.08 L842.0 243.04 L842.5 242.99 L843.0 242.95 L843.5 242.90 L844.0 242.86 L844.5 242.81 L845.0 242.76 L845.5 242.72 L846.0 242.67 L846.5 242.62 L847.0 242.58 L847.5 242.53 L848.0 242.48 L848.5 242.43 L849.0 242.38 L849.5 242.33 L850.0 242.28 L850.5 242.23 L851.0 242.18 L851.5 242.12 L852.0 242.07 L852.5 242.02 L853.0 241.96 L853.5 241.91 L854.0 241.86 L854.5 241.80 L855.0 241.74 L855.5 241.69 L856.0 241.63 L856.5 241.57 L857.0 241.51 L857.5 241.45 L858.0 241.39 L858.5 241.33 L859.0 241.27 L859.5 241.20 L860.0 241.14 L860.5 241.08 L861.0 241.01 L861.5 240.94 L862.0 240.87 L862.5 240.80 L863.0 240.73 L863.5 240.66 L864.0 240.59 L864.5 240.51 L865.0 240.44 L865.5 240.36 L866.0 240.28 L866.5 240.20 L867.0 240.12 L867.5 240.04 L868.0 239.95 L868.5 239.87 L869.0 239.78 L869.5 239.69 L870.0 239.60 L870.5 239.50 L871.0 239.40 L871.5 239.31 L872.0 239.20 L872.5 239.10 L873.0 239.00 L873.5 238.89 L874.0 238.78 L874.5 238.66 L875.0 238.54 L875.5 238.42 L876.0 238.30 L876.5 238.17 L877.0 238.04 L877.5 237.91 L878.0 237.77 L878.5 237.63 L879.0 237.48 L879.5 237.33 L880.0 237.17 L880.5 237.01 L881.0 236.84 L881.5 236.67 L882.0 236.49 L882.5 236.31 L883.0 236.11 L883.5 235.92 L884.0 235.71 L884.5 235.50 L885.0 235.28 L885.5 235.05 L886.0 234.81 L886.5 234.56 L887.0 234.30 L887.5 234.03 L888.0 233.75 L888.5 233.46 L889.0 233.15 L889.5 232.83 L890.0 232.50 L890.5 232.15 L891.0 231.78 L891.5 231.40 L892.0 231.00 L892.5 230.58 L893.0 230.14 L893.5 229.67 L894.0 229.19 L894.5 228.68 L895.0 228.14 L895.5 227.58 L896.0 226.99 L896.5 226.37 L897.0 225.72 L897.5 225.03 L898.0 224.32 L898.5 223.57 L899.0 222.79 L899.5 221.98 L900.0 221.13 L900.5 220.26 L901.0 219.35 L901.5 218.41 L902.0 217.45 L902.5 216.47 L903.0 215.46 L903.5 214.45 L904.0 213.42 L904.5 212.39 L905.0 211.35 L905.5 210.33 L906.0 209.31 L906.5 208.31 L907.0 207.32 L907.5 206.36 L908.0 205.43 L908.5 204.52 L909.0 203.64 L909.5 202.80 L910.0 201.98 L910.5 201.21 L911.0 200.46 L911.5 199.75 L912.0 199.06 L912.5 198.42 L913.0 197.80 L913.5 197.21 L914.0 196.64 L914.5 196.11 L915.0 195.60 L915.5 195.12 L916.0 194.65 L916.5 194.21 L917.0 193.79 L917.5 193.39 L918.0 193.01 L918.5 192.65 L919.0 192.30 L919.5 191.97 L920.0 191.65 L920.5 191.35 L921.0 191.05 L921.5 190.78 L922.0 190.51 L922.5 190.25 L923.0 190.00 L923.5 189.77 L924.0 189.54 L924.5 189.32 L925.0 189.11 L925.5 188.91 L926.0 188.71 L926.5 188.52 L927.0 188.34 L927.5 188.17 L928.0 188.00 L928.5 187.83 L929.0 187.67 L929.5 187.52 L930.0 187.37 L930.5 187.23 L931.0 187.09" stroke="#7201a8"/>
<path d="M454.0 171.32 L454.5 171.45 L455.0 171.59 L455.5 171.73 L456.0 171.88 L456.5 172.03 L457.0 172.19 L457.5 172.35 L458.0 172.53 L458.5 172.71 L459.0 172.90 L459.5 173.09 L460.0 173.30 L460.5 173.52 L461.0 173.74 L461.5 173.98 L462.0 174.23 L462.5 174.49 L463.0 174.77 L463.5 175.06 L464.0 175.36 L464.5 175.68 L465.0 176.01 L465.5 176.36 L466.0 176.73 L466.5 177.12 L467.0 177.53 L467.5 177.95 L468.0 178.40 L468.5 178.87 L469.0 179.36 L469.5 179.87 L470.0 180.40 L470.5 180.95 L471.0 181.52 L471.5 182.10 L472.0 182.71 L472.5 183.33 L473.0 183.96 L473.5 184.59 L474.0 185.24 L474.5 185.89 L475.0 186.54 L475.5 187.18 L476.0 187.82 L476.5 188.45 L477.0 189.07 L477.5 189.67 L478.0 190.26 L478.5 190.83 L479.0 191.38 L479.5 191.91 L480.0 192.42 L480.5 192.91 L481.0 193.38 L481.5 193.83 L482.0 194.25 L482.5 194.66 L483.0 195.05 L483.5 195.42 L484.0 195.77 L484.5 196.11 L485.0 196.43 L485.5 196.73 L486.0 197.02 L486.5 197.30 L487.0 197.56 L487.5 197.81 L488.0 198.05 L488.5 198.28 L489.0 198.50 L489.5 198.71 L490.0 198.91 L490.5 199.10 L491.0 199.28 L491.5 199.46 L492.0 199.63 L492.5 199.79 L493.0 199.94 L493.5 200.09 L494.0 200.23 L494.5 200.37 L495.0 200.51 L495.5 200.63 L496.0 200.76 L496.5 200.88 L497.0 200.99 L497.5 201.10 L498.0 201.21 L498.5 201.31 L499.0 201.41 L499.5 201.51 L500.0 201.60 L500.5 201.70 L501.0 201.78 L501.5 201.87 L502.0 201.95 L502.5 202.03 L503.0 202.11 L503.5 202.19 L504.0 202.27 L504.5 202.34 L505.0 202.41 L505.5 202.48 L506.0 202.55 L506.5 202.61 L507.0 202.68 L507.5 202.74 L508.0 202.80 L508.5 202.86 L509.0 202.92 L509.5 202.98 L510.0 203.03 L510.5 203.09 L511.0 203.14 L511.5 203.19 L512.0 203.24 L512.5 203.30 L513.0 203.34 L513.5 203.39 L514.0 203.44 L514.5 203.49 L515.0 203.54 L515.5 203.58 L516.0 203.63 L516.5 203.67 L517.0 203.71 L517.5 203.76 L518.0 203.80 L518.5 203.84 L519.0 203.88 L519.5 203.92 L520.0 203.96 L520.5 204.00 L521.0 204.04 L521.5 204.08 L522.0 204.11 L522.5 204.15 L523.0 204.19 L523.5 204.22 L524.0 204.26 L524.5 204.29 L525.0 204.33 L525.5 204.36 L526.0 204.40 L526.5 204.43 L527.0 204.47 L527.5 204.50 L528.0 204.53 L528.5 204.57 L529.0 204.60 L529.5 204.63 L530.0 204.66 L530.5 204.70 L531.0 204.73 L531.5 204.76 L532.0 204.79 L532.5 204.82 L533.0 204.85 L533.5 204.88 L534.0 204.91 L534.5 204.94 L535.0 204.97 L535.5 205.00 L536.0 205.03 L536.5 205.06 L537.0 205.09 L537.5 205.12 L538.0 205.15 L538.5 205.18 L539.0 205.21 L539.5 205.24 L540.0 205.27 L540.5 205.30 L541.0 205.33 L541.5 205.36 L542.0 205.39 L542.5 205.42 L543.0 205.45 L543.5 205.48 L544.0 205.51 L544.5 205.54 L545.0 205.56 L545.5 205.59 L546.0 205.62 L546.5 205.65 L547.0 205.68 L547.5 205.71 L548.0 205.74 L548.5 205.77 L549.0 205.80 L549.5 205.83 L550.0 205.86 L550.5 205.89 L551.0 205.92 L551.5 205.95 L552.0 205.98 L552.5 206.01 L553.0 206.04 L553.5 206.07 L554.0 206.10 L554.5 206.14 L555.0 206.17 L555.5 206.20 L556.0 206.23 L556.5 206.26 L557.0 206.29 L557.5 206.33 L558.0 206.36 L558.5 206.39 L559.0 206.43 L559.5 206.46 L560.0 206.49 L560.5 206.53 L561.0 206.56 L561.5 206.60 L562.0 206.63 L562.5 206.67 L563.0 206.70 L563.5 206.74 L564.0 206.77 L564.5 206.81 L565.0 206.85 L565.5 206.89 L566.0 206.92 L566.5 206.96 L567.0 207.00 L567.5 207.04 L568.0 207.08 L568.5 207.12 L569.0 207.16 L569.5 207.20 L570.0 207.25 L570.5 207.29 L571.0 207.33 L571.5 207.38 L572.0 207.42 L572.5 207.47 L573.0 207.51 L573.5 207.56 L574.0 207.61 L574.5 207.66 L575.0 207.71 L575.5 207.76 L576.0 207.81 L576.5 207.86 L577.0 207.92 L577.5 207.97 L578.0 208.02 L578.5 208.08 L579.0 208.14 L579.5 208.20 L580.0 208.26 L580.5 208.32 L581.0 208.38 L581.5 208.45 L582.0 208.51 L582.5 208.58 L583.0 208.65 L583.5 208.72 L584.0 208.79 L584.5 208.86 L585.0 208.94 L585.5 209.02 L586.0 209.10 L586.5 209.18 L587.0 209.27 L587.5 209.35 L588.0 209.44 L588.5 209.53 L589.0 209.63 L589.5 209.73 L590.0 209.83 L590.5 209.93 L591.0 210.04 L591.5 210.15 L592.0 210.27 L592.5 210.39 L593.0 210.51 L593.5 210.64 L594.0 210.78 L594.5 210.92 L595.0 211.06 L595.5 211.21 L596.0 211.37 L596.5 211.54 L597.0 211.71 L597.5 211.89 L598.0 212.08 L598.5 212.28 L599.0 212.49 L599.5 212.71 L600.0 212.94 L600.5 213.18 L601.0 213.44 L601.5 213.72 L602.0 214.01 L602.5 214.32 L603.0 214.65 L603.5 215.00 L604.0 215.38 L604.5 215.79 L605.0 216.23 L605.5 216.70 L606.0 217.21 L606.5 217.76 L607.0 218.37 L607.5 219.03 L608.0 219.75 L608.5 220.55 L609.0 221.42 L609.5 222.39 L610.0 223.47 L610.5 224.66 L611.0 225.99 L611.5 227.48 L612.0 229.13 L612.5 230.97 L613.0 233.01 L613.5 235.24 L614.0 237.66 L614.5 240.24 L615.0 242.95 L615.5 245.73 L616.0 248.50 L616.5 251.21 L617.0 253.80 L617.5 256.23 L618.0 258.47 L618.5 260.52 L619.0 262.37 L619.5 264.04 L620.0 265.54 L620.5 266.89 L621.0 268.11 L621.5 269.21 L622.0 270.21 L622.5 271.11 L623.0 271.94 L623.5 272.69 L624.0 273.39 L624.5 274.03 L625.0 274.63 L625.5 275.19 L626.0 275.71 L626.5 276.19 L627.0 276.65 L627.5 277.09 L628.0 277.50 L628.5 277.90 L629.0 278.28 L629.5 278.64 L630.0 278.99 L630.5 279.33 L631.0 279.66 L631.5 279.98 L632.0 280.30 L632.5 280.60 L633.0 280.91 L633.5 281.21 L634.0 281.51 L634.5 281.80 L635.0 282.10 L635.5 282.40 L636.0 282.70 L636.5 283.00 L637.0 283.30 L637.5 283.61 L638.0 283.93 L638.5 284.25 L639.0 284.58 L639.5 284.92 L640.0 285.27 L640.5 285.64 L641.0 286.01 L641.5 286.41 L642.0 286.82 L642.5 287.26 L643.0 287.71 L643.5 288.20 L644.0 288.71 L644.5 289.25 L645.0 289.84 L645.5 290.46 L646.0 291.14 L646.5 291.87 L647.0 292.66 L647.5 293.52 L648.0 294.47 L648.5 295.51 L649.0 296.65 L649.5 297.92 L650.0 299.33 L650.5 300.90 L651.0 302.65 L651.5 304.60 L652.0 306.78 L652.5 309.21 L653.0 311.89 L653.5 314.82 L654.0 317.99 L654.5 321.35 L655.0 324.83 L655.5 328.36 L656.0 331.84 L656.5 335.19 L657.0 338.35 L657.5 341.27 L658.0 343.95 L658.5 346.36 L659.0 348.54 L659.5 350.49 L660.0 352.23 L660.5 353.79 L661.0 355.20 L661.5 356.46 L662.0 357.60 L662.5 358.63 L663.0 359.57 L663.5 360.43 L664.0 361.22 L664.5 361.94 L665.0 362.60 L665.5 363.21 L666.0 363.78 L666.5 364.31 L667.0 364.81 L667.5 365.27 L668.0 365.70 L668.5 366.11 L669.0 366.49 L669.5 366.85 L670.0 367.20 L670.5 367.52 L671.0 367.83 L671.5 368.12 L672.0 368.40 L672.5 368.67 L673.0 368.92 L673.5 369.17 L674.0 369.40 L674.5 369.63 L675.0 369.84 L675.5 370.05 L676.0 370.25 L676.5 370.44 L677.0 370.63 L677.5 370.81 L678.0 370.98 L678.5 371.15 L679.0 371.32 L679.5 371.47 L680.0 371.63 L680.5 371.78 L681.0 371.92 L681.5 372.07 L682.0 372.20 L682.5 372.34 L683.0 372.47 L683.5 372.60 L684.0 372.72 L684.5 372.84 L685.0 372.96 L685.5 373.08 L686.0 373.20 L686.5 373.31 L687.0 373.42 L687.5 373.52 L688.0 373.63 L688.5 373.73 L689.0 373.84 L689.5 373.94 L690.0 374.03 L690.5 374.13 L691.0 374.22 L691.5 374.32 L692.0 374.41 L692.5 374.50 L693.0 374.40 L693.5 374.30 L694.0 374.19 L694.5 374.09 L695.0 373.98 L695.5 373.87 L696.0 373.76 L696.5 373.65 L697.0 373.54 L697.5 373.42 L698.0 373.31 L698.5 373.19 L699.0 373.07 L699.5 372.94 L700.0 372.82 L700.5 372.69 L701.0 372.56 L701.5 372.43 L702.0 372.29 L702.5 372.15 L703.0 372.01 L703.5 371.87 L704.0 371.72 L704.5 371.57 L705.0 371.41 L705.5 371.25 L706.0 371.09 L706.5 370.92 L707.0 370.75 L707.5 370.57 L708.0 370.39 L708.5 370.20 L709.0 370.00 L709.5 369.80 L710.0 369.59 L710.5 369.38 L711.0 369.15 L711.5 368.92 L712.0 368.68 L712.5 368.43 L713.0 368.17 L713.5 367.89 L714.0 367.61 L714.5 367.31 L715.0 366.99 L715.5 366.66 L716.0 366.31 L716.5 365.94 L717.0 365.55 L717.5 365.14 L718.0 364.70 L718.5 364.23 L719.0 363.72 L719.5 363.19 L720.0 362.61 L720.5 361.98 L721.0 361.30 L721.5 360.57 L722.0 359.76 L722.5 358.88 L723.0 357.91 L723.5 356.85 L724.0 355.67 L724.5 354.35 L725.0 352.88 L725.5 351.24 L726.0 349.41 L726.5 347.35 L727.0 345.05 L727.5 342.49 L728.0 339.67 L728.5 336.60 L729.0 333.32 L729.5 329.89 L730.0 326.39 L730.5 322.91 L731.0 319.56 L731.5 316.39 L732.0 313.46 L732.5 310.79 L733.0 308.38 L733.5 306.23 L734.0 304.30 L734.5 302.59 L735.0 301.05 L735.5 299.68 L736.0 298.45 L736.5 297.34 L737.0 296.33 L737.5 295.42 L738.0 294.59 L738.5 293.82 L739.0 293.12 L739.5 292.47 L740.0 291.87 L740.5 291.30 L741.0 290.78 L741.5 290.29 L742.0 289.82 L742.5 289.38 L743.0 288.96 L743.5 288.57 L744.0 288.18 L744.5 287.82 L745.0 287.47 L745.5 287.13 L746.0 286.80 L746.5 286.48 L747.0 286.17 L747.5 285.87 L748.0 285.57 L748.5 285.28 L749.0 284.99 L749.5 284.70 L750.0 284.41 L750.5 284.13 L751.0 283.85 L751.5 283.56 L752.0 283.27 L752.5 282.99 L753.0 282.69 L753.5 282.40 L754.0 282.10 L754.5 281.79 L755.0 281.47 L755.5 281.15 L756.0 280.81 L756.5 280.47 L757.0 280.11 L757.5 279.74 L758.0 279.35 L758.5 278.94 L759.0 278.51 L759.5 278.06 L760.0 277.59 L760.5 277.09 L761.0 276.55 L761.5 275.98 L762.0 275.38 L762.5 274.73 L763.0 274.04 L763.5 273.29 L764.0 272.49 L764.5 271.63 L765.0 270.71 L765.5 269.72 L766.0 268.67 L766.5 267.54 L767.0 266.35 L767.5 265.09 L768.0 263.78 L768.5 262.42 L769.0 261.03 L769.5 259.63 L770.0 258.22 L770.5 256.83 L771.0 255.48 L771.5 254.18 L772.0 252.93 L772.5 251.74 L773.0 250.63 L773.5 249.59 L774.0 248.62 L774.5 247.71 L775.0 246.88 L775.5 246.10 L776.0 245.38 L776.5 244.71 L777.0 244.09 L777.5 243.52 L778.0 242.98 L778.5 242.49 L779.0 242.02 L779.5 241.59 L780.0 241.18 L780.5 240.80 L781.0 240.44 L781.5 240.11 L782.0 239.79 L782.5 239.49 L783.0 239.21 L783.5 238.94 L784.0 238.68 L784.5 238.44 L785.0 238.21 L785.5 237.99 L786.0 237.78 L786.5 237.58 L787.0 237.39 L787.5 237.21 L788.0 237.03 L788.5 236.86 L789.0 236.70 L789.5 236.54 L790.0 236.39 L790.5 236.25 L791.0 236.11 L791.5 235.97 L792.0 235.84 L792.5 235.71 L793.0 235.59 L793.5 235.47 L794.0 235.36 L794.5 235.24 L795.0 235.13 L795.5 235.03 L796.0 234.92 L796.5 234.82 L797.0 234.72 L797.5 234.63 L798.0 234.53 L798.5 234.44 L799.0 234.35 L799.5 234.27 L800.0 234.18 L800.5 234.10 L801.0 234.02 L801.5 233.94 L802.0 233.86 L802.5 233.78 L803.0 233.70 L803.5 233.63 L804.0 233.56 L804.5 233.49 L805.0 233.42 L805.5 233.35 L806.0 233.28 L806.5 233.21 L807.0 233.15 L807.5 233.08 L808.0 233.02 L808.5 232.95 L809.0 232.89 L809.5 232.83 L810.0 232.77 L810.5 232.71 L811.0 232.65 L811.5 232.59 L812.0 232.54 L812.5 232.48 L813.0 232.42 L813.5 232.37 L814.0 232.31 L814.5 232.26 L815.0 232.20 L815.5 232.15 L816.0 232.10 L816.5 232.05 L817.0 231.99 L817.5 231.94 L818.0 231.89 L818.5 231.84 L819.0 231.79 L819.5 231.74 L820.0 231.69 L820.5 231.64 L821.0 231.59 L821.5 231.55 L822.0 231.50 L822.5 231.45 L823.0 231.40 L823.5 231.36 L824.0 231.31 L824.5 231.26 L825.0 231.22 L825.5 231.17 L826.0 231.12 L826.5 231.08 L827.0 231.03 L827.5 230.99 L828.0 230.94 L828.5 230.90 L829.0 230.85 L829.5 230.81 L830.0 230.76 L830.5 230.72 L831.0 230.68 L831.5 230.63 L832.0 230.59 L832.5 230.54 L833.0 230.50 L833.5 230.46 L834.0 230.41 L834.5 230.37 L835.0 230.33 L835.5 230.28 L836.0 230.24 L836.5 230.19 L837.0 230.15 L837.5 230.11 L838.0 230.06 L838.5 230.02 L839.0 229.98 L839.5 229.93 L840.0 229.89 L840.5 229.85 L841.0 229.80 L841.5 229.76 L842.0 229.71 L842.5 229.67 L843.0 229.63 L843.5 229.58 L844.0 229.54 L844.5 229.49 L845.0 229.45 L845.5 229.40 L846.0 229.36 L846.5 229.31 L847.0 229.27 L847.5 229.22 L848.0 229.18 L848.5 229.13 L849.0 229.09 L849.5 229.04 L850.0 228.99 L850.5 228.95 L851.0 228.90 L851.5 228.85 L852.0 228.80 L852.5 228.76 L853.0 228.71 L853.5 228.66 L854.0 228.61 L854.5 228.56 L855.0 228.51 L855.5 228.46 L856.0 228.41 L856.5 228.36 L857.0 228.31 L857.5 228.26 L858.0 228.21 L858.5 228.15 L859.0 228.10 L859.5 228.05 L860.0 227.99 L860.5 227.94 L861.0 227.88 L861.5 227.83 L862.0 227.77 L862.5 227.72 L863.0 227.66 L863.5 227.60 L864.0 227.54 L864.5 227.48 L865.0 227.42 L865.5 227.36 L866.0 227.30 L866.5 227.23 L867.0 227.17 L867.5 227.11 L868.0 227.04 L868.5 226.97 L869.0 226.91 L869.5 226.84 L870.0 226.77 L870.5 226.70 L871.0 226.62 L871.5 226.55 L872.0 226.48 L872.5 226.40 L873.0 226.32 L873.5 226.24 L874.0 226.16 L874.5 226.08 L875.0 226.00 L875.5 225.91 L876.0 225.83 L876.5 225.74 L877.0 225.65 L877.5 225.56 L878.0 225.46 L878.5 225.37 L879.0 225.27 L879.5 225.17 L880.0 225.06 L880.5 224.96 L881.0 224.85 L881.5 224.74 L882.0 224.62 L882.5 224.51 L883.0 224.39 L883.5 224.26 L884.0 224.13 L884.5 224.00 L885.0 223.87 L885.5 223.73 L886.0 223.59 L886.5 223.44 L887.0 223.29 L887.5 223.13 L888.0 222.97 L888.5 222.80 L889.0 222.63 L889.5 222.45 L890.0 222.26 L890.5 222.07 L891.0 221.87 L891.5 221.66 L892.0 221.45 L892.5 221.23 L893.0 220.99 L893.5 220.75 L894.0 220.50 L894.5 220.24 L895.0 219.96 L895.5 219.68 L896.0 219.38 L896.5 219.06 L897.0 218.74 L897.5 218.40 L898.0 218.04 L898.5 217.66 L899.0 217.27 L899.5 216.86 L900.0 216.43 L900.5 215.97 L901.0 215.50 L901.5 215.00 L902.0 214.47 L902.5 213.92 L903.0 213.35 L903.5 212.74 L904.0 212.11 L904.5 211.45 L905.0 210.76 L905.5 210.04 L906.0 209.29 L906.5 208.51 L907.0 207.71 L907.5 206.88 L908.0 206.03 L908.5 205.16 L909.0 204.28 L909.5 203.38 L910.0 202.47 L910.5 201.56 L911.0 200.64 L911.5 199.74 L912.0 198.84 L912.5 197.95 L913.0 197.08 L913.5 196.23 L914.0 195.41 L914.5 194.60 L915.0 193.83 L915.5 193.08 L916.0 192.36 L916.5 191.67 L917.0 191.01 L917.5 190.38 L918.0 189.78 L918.5 189.20 L919.0 188.65 L919.5 188.13 L920.0 187.63 L920.5 187.15 L921.0 186.70 L921.5 186.27 L922.0 185.86 L922.5 185.47 L923.0 185.09 L923.5 184.74 L924.0 184.40 L924.5 184.07 L925.0 183.76 L925.5 183.47 L926.0 183.18 L926.5 182.91 L927.0 182.65 L927.5 182.40 L928.0 182.16 L928.5 181.93 L929.0 181.71 L929.5 181.49 L930.0 181.29 L930.5 181.09 L931.0 180.90" stroke="#9c179e"/>
<path d="M454.0 159.87 L454.5 160.09 L455.0 160.33 L455.5 160.59 L456.0 160.85 L456.5 161.13 L457.0 161.42 L457.5 161.72 L458.0 162.04 L458.5 162.38 L459.0 162.73 L459.5 163.11 L460.0 163.49 L460.5 163.90 L461.0 164.33 L461.5 164.77 L462.0 165.23 L462.5 165.71 L463.0 166.20 L463.5 166.71 L464.0 167.24 L464.5 167.77 L465.0 168.32 L465.5 168.87 L466.0 169.44 L466.5 170.00 L467.0 170.56 L467.5 171.12 L468.0 171.68 L468.5 172.23 L469.0 172.76 L469.5 173.29 L470.0 173.80 L470.5 174.29 L471.0 174.77 L471.5 175.23 L472.0 175.68 L472.5 176.10 L473.0 176.51 L473.5 176.90 L474.0 177.27 L474.5 177.62 L475.0 177.96 L475.5 178.29 L476.0 178.59 L476.5 178.88 L477.0 179.16 L477.5 179.43 L478.0 179.68 L478.5 179.92 L479.0 180.15 L479.5 180.37 L480.0 180.58 L480.5 180.78 L481.0 180.97 L481.5 181.15 L482.0 181.33 L482.5 181.49 L483.0 181.65 L483.5 181.81 L484.0 181.95 L484.5 182.09 L485.0 182.23 L485.5 182.36 L486.0 182.49 L486.5 182.61 L487.0 182.72 L487.5 182.83 L488.0 182.94 L488.5 183.05 L489.0 183.15 L489.5 183.25 L490.0 183.34 L490.5 183.43 L491.0 183.52 L491.5 183.61 L492.0 183.69 L492.5 183.77 L493.0 183.85 L493.5 183.92 L494.0 184.00 L494.5 184.07 L495.0 184.14 L495.5 184.21 L496.0 184.27 L496.5 184.34 L497.0 184.40 L497.5 184.46 L498.0 184.52 L498.5 184.58 L499.0 184.64 L499.5 184.69 L500.0 184.75 L500.5 184.80 L501.0 184.85 L501.5 184.90 L502.0 184.95 L502.5 185.00 L503.0 185.05 L503.5 185.10 L504.0 185.15 L504.5 185.19 L505.0 185.24 L505.5 185.28 L506.0 185.32 L506.5 185.37 L507.0 185.41 L507.5 185.45 L508.0 185.49 L508.5 185.53 L509.0 185.57 L509.5 185.61 L510.0 185.64 L510.5 185.68 L511.0 185.72 L511.5 185.76 L512.0 185.79 L512.5 185.83 L513.0 185.86 L513.5 185.90 L514.0 185.93 L514.5 185.97 L515.0 186.00 L515.5 186.03 L516.0 186.07 L516.5 186.10 L517.0 186.13 L517.5 186.16 L518.0 186.20 L518.5 186.23 L519.0 186.26 L519.5 186.29 L520.0 186.32 L520.5 186.35 L521.0 186.38 L521.5 186.41 L522.0 186.44 L522.5 186.47 L523.0 186.50 L523.5 186.53 L524.0 186.56 L524.5 186.59 L525.0 186.62 L525.5 186.65 L526.0 186.68 L526.5 186.70 L527.0 186.73 L527.5 186.76 L528.0 186.79 L528.5 186.82 L529.0 186.85 L529.5 186.87 L530.0 186.90 L530.5 186.93 L531.0 186.96 L531.5 186.99 L532.0 187.01 L532.5 187.04 L533.0 187.07 L533.5 187.10 L534.0 187.13 L534.5 187.15 L535.0 187.18 L535.5 187.21 L536.0 187.24 L536.5 187.27 L537.0 187.29 L537.5 187.32 L538.0 187.35 L538.5 187.38 L539.0 187.41 L539.5 187.43 L540.0 187.46 L540.5 187.49 L541.0 187.52 L541.5 187.55 L542.0 187.58 L542.5 187.61 L543.0 187.64 L543.5 187.66 L544.0 187.69 L544.5 187.72 L545.0 187.75 L545.5 187.78 L546.0 187.81 L546.5 187.84 L547.0 187.87 L547.5 187.90 L548.0 187.93 L548.5 187.97 L549.0 188.00 L549.5 188.03 L550.0 188.06 L550.5 188.09 L551.0 188.12 L551.5 188.16 L552.0 188.19 L552.5 188.22 L553.0 188.26 L553.5 188.29 L554.0 188.32 L554.5 188.36 L555.0 188.39 L555.5 188.43 L556.0 188.46 L556.5 188.50 L557.0 188.53 L557.5 188.57 L558.0 188.61 L558.5 188.65 L559.0 188.68 L559.5 188.72 L560.0 188.76 L560.5 188.80 L561.0 188.84 L561.5 188.88 L562.0 188.92 L562.5 188.96 L563.0 189.00 L563.5 189.05 L564.0 189.09 L564.5 189.13 L565.0 189.18 L565.5 189.22 L566.0 189.27 L566.5 189.31 L567.0 189.36 L567.5 189.41 L568.0 189.46 L568.5 189.51 L569.0 189.56 L569.5 189.61 L570.0 189.66 L570.5 189.72 L571.0 189.77 L571.5 189.83 L572.0 189.88 L572.5 189.94 L573.0 190.00 L573.5 190.06 L574.0 190.12 L574.5 190.18 L575.0 190.25 L575.5 190.31 L576.0 190.38 L576.5 190.45 L577.0 190.52 L577.5 190.59 L578.0 190.66 L578.5 190.74 L579.0 190.82 L579.5 190.89 L580.0 190.98 L580.5 191.06 L581.0 191.14 L581.5 191.23 L582.0 191.32 L582.5 191.41 L583.0 191.51 L583.5 191.61 L584.0 191.71 L584.5 191.81 L585.0 191.92 L585.5 192.03 L586.0 192.15 L586.5 192.27 L587.0 192.39 L587.5 192.52 L588.0 192.65 L588.5 192.79 L589.0 192.93 L589.5 193.08 L590.0 193.23 L590.5 193.39 L591.0 193.56 L591.5 193.73 L592.0 193.91 L592.5 194.10 L593.0 194.30 L593.5 194.51 L594.0 194.72 L594.5 194.95 L595.0 195.19 L595.5 195.45 L596.0 195.71 L596.5 195.99 L597.0 196.29 L597.5 196.61 L598.0 196.94 L598.5 197.30 L599.0 197.68 L599.5 198.09 L600.0 198.52 L600.5 198.99 L601.0 199.49 L601.5 200.03 L602.0 200.62 L602.5 201.25 L603.0 201.94 L603.5 202.69 L604.0 203.52 L604.5 204.41 L605.0 205.40 L605.5 206.49 L606.0 207.69 L606.5 209.02 L607.0 210.48 L607.5 212.11 L608.0 213.90 L608.5 215.87 L609.0 218.04 L609.5 220.39 L610.0 222.91 L610.5 225.58 L611.0 228.36 L611.5 231.20 L612.0 234.04 L612.5 236.83 L613.0 239.50 L613.5 242.03 L614.0 244.39 L614.5 246.56 L615.0 248.54 L615.5 250.35 L616.0 251.99 L616.5 253.47 L617.0 254.82 L617.5 256.04 L618.0 257.14 L618.5 258.16 L619.0 259.08 L619.5 259.93 L620.0 260.71 L620.5 261.43 L621.0 262.10 L621.5 262.72 L622.0 263.30 L622.5 263.84 L623.0 264.35 L623.5 264.83 L624.0 265.29 L624.5 265.72 L625.0 266.13 L625.5 266.52 L626.0 266.89 L626.5 267.25 L627.0 267.60 L627.5 267.94 L628.0 268.26 L628.5 268.58 L629.0 268.89 L629.5 269.19 L630.0 269.48 L630.5 269.77 L631.0 270.06 L631.5 270.35 L632.0 270.63 L632.5 270.91 L633.0 271.19 L633.5 271.46 L634.0 271.74 L634.5 272.03 L635.0 272.31 L635.5 272.60 L636.0 272.89 L636.5 273.19 L637.0 273.49 L637.5 273.80 L638.0 274.11 L638.5 274.44 L639.0 274.78 L639.5 275.13 L640.0 275.49 L640.5 275.87 L641.0 276.26 L641.5 276.67 L642.0 277.10 L642.5 277.56 L643.0 278.04 L643.5 278.55 L644.0 279.10 L644.5 279.68 L645.0 280.30 L645.5 280.97 L646.0 281.69 L646.5 282.47 L647.0 283.32 L647.5 284.25 L648.0 285.27 L648.5 286.39 L649.0 287.63 L649.5 289.01 L650.0 290.54 L650.5 292.25 L651.0 294.17 L651.5 296.32 L652.0 298.73 L652.5 301.41 L653.0 304.40 L653.5 307.69 L654.0 311.26 L654.5 315.07 L655.0 319.05 L655.5 323.09 L656.0 327.08 L656.5 330.94 L657.0 334.57 L657.5 337.93 L658.0 340.99 L658.5 343.75 L659.0 346.22 L659.5 348.43 L660.0 350.40 L660.5 352.15 L661.0 353.73 L661.5 355.14 L662.0 356.41 L662.5 357.55 L663.0 358.59 L663.5 359.54 L664.0 360.40 L664.5 361.19 L665.0 361.92 L665.5 362.59 L666.0 363.21 L666.5 363.79 L667.0 364.32 L667.5 364.82 L668.0 365.29 L668.5 365.73 L669.0 366.14 L669.5 366.53 L670.0 366.90 L670.5 367.25 L671.0 367.58 L671.5 367.89 L672.0 368.19 L672.5 368.47 L673.0 368.74 L673.5 369.00 L674.0 369.25 L674.5 369.49 L675.0 369.71 L675.5 369.93 L676.0 370.14 L676.5 370.34 L677.0 370.54 L677.5 370.73 L678.0 370.91 L678.5 371.09 L679.0 371.26 L679.5 371.42 L680.0 371.58 L680.5 371.73 L681.0 371.89 L681.5 372.03 L682.0 372.17 L682.5 372.31 L683.0 372.45 L683.5 372.58 L684.0 372.71 L684.5 372.83 L685.0 372.95 L685.5 373.07 L686.0 373.19 L686.5 373.30 L687.0 373.41 L687.5 373.52 L688.0 373.63 L688.5 373.73 L689.0 373.83 L689.5 373.94 L690.0 374.03 L690.5 374.13 L691.0 374.23 L691.5 374.32 L692.0 374.41 L692.5 374.50 L693.0 374.40 L693.5 374.30 L694.0 374.20 L694.5 374.10 L695.0 373.99 L695.5 373.89 L696.0 373.78 L696.5 373.67 L697.0 373.56 L697.5 373.45 L698.0 373.33 L698.5 373.21 L699.0 373.09 L699.5 372.97 L700.0 372.84 L700.5 372.72 L701.0 372.59 L701.5 372.45 L702.0 372.32 L702.5 372.18 L703.0 372.03 L703.5 371.89 L704.0 371.74 L704.5 371.58 L705.0 371.42 L705.5 371.26 L706.0 371.09 L706.5 370.92 L707.0 370.74 L707.5 370.56 L708.0 370.37 L708.5 370.18 L709.0 369.97 L709.5 369.76 L710.0 369.55 L710.5 369.32 L711.0 369.09 L711.5 368.84 L712.0 368.59 L712.5 368.32 L713.0 368.05 L713.5 367.76 L714.0 367.45 L714.5 367.13 L715.0 366.80 L715.5 366.44 L716.0 366.07 L716.5 365.67 L717.0 365.25 L717.5 364.80 L718.0 364.33 L718.5 363.82 L719.0 363.27 L719.5 362.69 L720.0 362.05 L720.5 361.37 L721.0 360.63 L721.5 359.82 L722.0 358.94 L722.5 357.97 L723.0 356.91 L723.5 355.73 L724.0 354.42 L724.5 352.97 L725.0 351.34 L725.5 349.53 L726.0 347.49 L726.5 345.20 L727.0 342.64 L727.5 339.79 L728.0 336.64 L728.5 333.21 L729.0 329.54 L729.5 325.69 L730.0 321.76 L730.5 317.86 L731.0 314.08 L731.5 310.51 L732.0 307.21 L732.5 304.20 L733.0 301.48 L733.5 299.05 L734.0 296.88 L734.5 294.95 L735.0 293.23 L735.5 291.68 L736.0 290.30 L736.5 289.06 L737.0 287.93 L737.5 286.92 L738.0 285.99 L738.5 285.14 L739.0 284.36 L739.5 283.64 L740.0 282.97 L740.5 282.36 L741.0 281.78 L741.5 281.24 L742.0 280.73 L742.5 280.26 L743.0 279.81 L743.5 279.38 L744.0 278.97 L744.5 278.59 L745.0 278.21 L745.5 277.86 L746.0 277.52 L746.5 277.19 L747.0 276.87 L747.5 276.56 L748.0 276.26 L748.5 275.96 L749.0 275.67 L749.5 275.39 L750.0 275.11 L750.5 274.84 L751.0 274.57 L751.5 274.30 L752.0 274.04 L752.5 273.77 L753.0 273.51 L753.5 273.25 L754.0 272.98 L754.5 272.72 L755.0 272.45 L755.5 272.17 L756.0 271.90 L756.5 271.62 L757.0 271.33 L757.5 271.04 L758.0 270.74 L758.5 270.43 L759.0 270.12 L759.5 269.79 L760.0 269.45 L760.5 269.10 L761.0 268.73 L761.5 268.35 L762.0 267.95 L762.5 267.53 L763.0 267.08 L763.5 266.61 L764.0 266.12 L764.5 265.59 L765.0 265.03 L765.5 264.43 L766.0 263.79 L766.5 263.11 L767.0 262.37 L767.5 261.58 L768.0 260.73 L768.5 259.81 L769.0 258.83 L769.5 257.77 L770.0 256.64 L770.5 255.43 L771.0 254.15 L771.5 252.79 L772.0 251.38 L772.5 249.91 L773.0 248.41 L773.5 246.89 L774.0 245.37 L774.5 243.87 L775.0 242.41 L775.5 241.00 L776.0 239.65 L776.5 238.37 L777.0 237.18 L777.5 236.05 L778.0 235.01 L778.5 234.04 L779.0 233.14 L779.5 232.31 L780.0 231.54 L780.5 230.83 L781.0 230.17 L781.5 229.55 L782.0 228.98 L782.5 228.45 L783.0 227.96 L783.5 227.49 L784.0 227.06 L784.5 226.66 L785.0 226.28 L785.5 225.92 L786.0 225.58 L786.5 225.26 L787.0 224.96 L787.5 224.68 L788.0 224.40 L788.5 224.15 L789.0 223.90 L789.5 223.67 L790.0 223.45 L790.5 223.23 L791.0 223.03 L791.5 222.83 L792.0 222.65 L792.5 222.47 L793.0 222.29 L793.5 222.12 L794.0 221.96 L794.5 221.81 L795.0 221.66 L795.5 221.51 L796.0 221.37 L796.5 221.24 L797.0 221.11 L797.5 220.98 L798.0 220.86 L798.5 220.74 L799.0 220.62 L799.5 220.50 L800.0 220.39 L800.5 220.29 L801.0 220.18 L801.5 220.08 L802.0 219.98 L802.5 219.88 L803.0 219.78 L803.5 219.69 L804.0 219.60 L804.5 219.51 L805.0 219.42 L805.5 219.33 L806.0 219.25 L806.5 219.17 L807.0 219.09 L807.5 219.01 L808.0 218.93 L808.5 218.85 L809.0 218.78 L809.5 218.70 L810.0 218.63 L810.5 218.56 L811.0 218.48 L811.5 218.41 L812.0 218.35 L812.5 218.28 L813.0 218.21 L813.5 218.14 L814.0 218.08 L814.5 218.02 L815.0 217.95 L815.5 217.89 L816.0 217.83 L816.5 217.77 L817.0 217.71 L817.5 217.65 L818.0 217.59 L818.5 217.53 L819.0 217.47 L819.5 217.41 L820.0 217.35 L820.5 217.30 L821.0 217.24 L821.5 217.19 L822.0 217.13 L822.5 217.08 L823.0 217.02 L823.5 216.97 L824.0 216.92 L824.5 216.87 L825.0 216.81 L825.5 216.76 L826.0 216.71 L826.5 216.66 L827.0 216.61 L827.5 216.56 L828.0 216.51 L828.5 216.46 L829.0 216.41 L829.5 216.36 L830.0 216.31 L830.5 216.26 L831.0 216.21 L831.5 216.16 L832.0 216.11 L832.5 216.07 L833.0 216.02 L833.5 215.97 L834.0 215.92 L834.5 215.88 L835.0 215.83 L835.5 215.78 L836.0 215.73 L836.5 215.69 L837.0 215.64 L837.5 215.59 L838.0 215.55 L838.5 215.50 L839.0 215.46 L839.5 215.41 L840.0 215.36 L840.5 215.32 L841.0 215.27 L841.5 215.23 L842.0 215.18 L842.5 215.13 L843.0 215.09 L843.5 215.04 L844.0 215.00 L844.5 214.95 L845.0 214.91 L845.5 214.86 L846.0 214.81 L846.5 214.77 L847.0 214.72 L847.5 214.68 L848.0 214.63 L848.5 214.58 L849.0 214.54 L849.5 214.49 L850.0 214.44 L850.5 214.40 L851.0 214.35 L851.5 214.31 L852.0 214.26 L852.5 214.21 L853.0 214.16 L853.5 214.12 L854.0 214.07 L854.5 214.02 L855.0 213.97 L855.5 213.93 L856.0 213.88 L856.5 213.83 L857.0 213.78 L857.5 213.73 L858.0 213.68 L858.5 213.64 L859.0 213.59 L859.5 213.54 L860.0 213.49 L860.5 213.44 L861.0 213.38 L861.5 213.33 L862.0 213.28 L862.5 213.23 L863.0 213.18 L863.5 213.13 L864.0 213.07 L864.5 213.02 L865.0 212.97 L865.5 212.91 L866.0 212.86 L866.5 212.80 L867.0 212.75 L867.5 212.69 L868.0 212.64 L868.5 212.58 L869.0 212.52 L869.5 212.46 L870.0 212.40 L870.5 212.35 L871.0 212.29 L871.5 212.22 L872.0 212.16 L872.5 212.10 L873.0 212.04 L873.5 211.98 L874.0 211.91 L874.5 211.85 L875.0 211.78 L875.5 211.71 L876.0 211.64 L876.5 211.58 L877.0 211.51 L877.5 211.44 L878.0 211.36 L878.5 211.29 L879.0 211.22 L879.5 211.14 L880.0 211.07 L880.5 210.99 L881.0 210.91 L881.5 210.83 L882.0 210.75 L882.5 210.66 L883.0 210.58 L883.5 210.49 L884.0 210.40 L884.5 210.31 L885.0 210.22 L885.5 210.13 L886.0 210.03 L886.5 209.93 L887.0 209.83 L887.5 209.73 L888.0 209.63 L888.5 209.52 L889.0 209.41 L889.5 209.30 L890.0 209.18 L890.5 209.07 L891.0 208.94 L891.5 208.82 L892.0 208.69 L892.5 208.56 L893.0 208.43 L893.5 208.29 L894.0 208.14 L894.5 208.00 L895.0 207.85 L895.5 207.69 L896.0 207.53 L896.5 207.36 L897.0 207.19 L897.5 207.01 L898.0 206.82 L898.5 206.63 L899.0 206.43 L899.5 206.23 L900.0 206.02 L900.5 205.79 L901.0 205.56 L901.5 205.32 L902.0 205.07 L902.5 204.81 L903.0 204.54 L903.5 204.26 L904.0 203.97 L904.5 203.66 L905.0 203.34 L905.5 203.00 L906.0 202.65 L906.5 202.28 L907.0 201.89 L907.5 201.49 L908.0 201.06 L908.5 200.62 L909.0 200.15 L909.5 199.66 L910.0 199.14 L910.5 198.61 L911.0 198.04 L911.5 197.45 L912.0 196.83 L912.5 196.18 L913.0 195.51 L913.5 194.80 L914.0 194.07 L914.5 193.31 L915.0 192.52 L915.5 191.72 L916.0 190.88 L916.5 190.03 L917.0 189.17 L917.5 188.29 L918.0 187.40 L918.5 186.51 L919.0 185.61 L919.5 184.73 L920.0 183.85 L920.5 182.98 L921.0 182.13 L921.5 181.30 L922.0 180.49 L922.5 179.71 L923.0 178.95 L923.5 178.22 L924.0 177.51 L924.5 176.84 L925.0 176.19 L925.5 175.57 L926.0 174.98 L926.5 174.42 L927.0 173.88 L927.5 173.36 L928.0 172.87 L928.5 172.41 L929.0 171.96 L929.5 171.54 L930.0 171.14 L930.5 170.75 L931.0 170.38" stroke="#bd3786"/>
<path d="M454.0 146.76 L454.5 147.19 L455.0 147.64 L455.5 148.10 L456.0 148.57 L456.5 149.07 L457.0 149.57 L457.5 150.09 L458.0 150.62 L458.5 151.15 L459.0 151.69 L459.5 152.24 L460.0 152.78 L460.5 153.32 L461.0 153.86 L461.5 154.38 L462.0 154.90 L462.5 155.41 L463.0 155.90 L463.5 156.38 L464.0 156.84 L464.5 157.29 L465.0 157.71 L465.5 158.12 L466.0 158.52 L466.5 158.89 L467.0 159.25 L467.5 159.59 L468.0 159.92 L468.5 160.23 L469.0 160.53 L469.5 160.81 L470.0 161.08 L470.5 161.33 L471.0 161.58 L471.5 161.81 L472.0 162.03 L472.5 162.24 L473.0 162.45 L473.5 162.64 L474.0 162.82 L474.5 163.00 L475.0 163.17 L475.5 163.33 L476.0 163.49 L476.5 163.63 L477.0 163.78 L477.5 163.91 L478.0 164.04 L478.5 164.17 L479.0 164.29 L479.5 164.41 L480.0 164.52 L480.5 164.63 L481.0 164.74 L481.5 164.84 L482.0 164.93 L482.5 165.03 L483.0 165.12 L483.5 165.21 L484.0 165.30 L484.5 165.38 L485.0 165.46 L485.5 165.54 L486.0 165.61 L486.5 165.69 L487.0 165.76 L487.5 165.83 L488.0 165.90 L488.5 165.96 L489.0 166.03 L489.5 166.09 L490.0 166.15 L490.5 166.21 L491.0 166.27 L491.5 166.33 L492.0 166.39 L492.5 166.44 L493.0 166.49 L493.5 166.55 L494.0 166.60 L494.5 166.65 L495.0 166.70 L495.5 166.75 L496.0 166.79 L496.5 166.84 L497.0 166.88 L497.5 166.93 L498.0 166.97 L498.5 167.02 L499.0 167.06 L499.5 167.10 L500.0 167.14 L500.5 167.18 L501.0 167.22 L501.5 167.26 L502.0 167.30 L502.5 167.34 L503.0 167.38 L503.5 167.41 L504.0 167.45 L504.5 167.49 L505.0 167.52 L505.5 167.56 L506.0 167.59 L506.5 167.63 L507.0 167.66 L507.5 167.70 L508.0 167.73 L508.5 167.76 L509.0 167.80 L509.5 167.83 L510.0 167.86 L510.5 167.89 L511.0 167.92 L511.5 167.96 L512.0 167.99 L512.5 168.02 L513.0 168.05 L513.5 168.08 L514.0 168.11 L514.5 168.14 L515.0 168.17 L515.5 168.20 L516.0 168.23 L516.5 168.26 L517.0 168.29 L517.5 168.32 L518.0 168.35 L518.5 168.38 L519.0 168.41 L519.5 168.43 L520.0 168.46 L520.5 168.49 L521.0 168.52 L521.5 168.55 L522.0 168.58 L522.5 168.61 L523.0 168.63 L523.5 168.66 L524.0 168.69 L524.5 168.72 L525.0 168.75 L525.5 168.78 L526.0 168.80 L526.5 168.83 L527.0 168.86 L527.5 168.89 L528.0 168.92 L528.5 168.95 L529.0 168.97 L529.5 169.00 L530.0 169.03 L530.5 169.06 L531.0 169.09 L531.5 169.12 L532.0 169.15 L532.5 169.18 L533.0 169.20 L533.5 169.23 L534.0 169.26 L534.5 169.29 L535.0 169.32 L535.5 169.35 L536.0 169.38 L536.5 169.41 L537.0 169.44 L537.5 169.47 L538.0 169.50 L538.5 169.53 L539.0 169.56 L539.5 169.59 L540.0 169.62 L540.5 169.65 L541.0 169.69 L541.5 169.72 L542.0 169.75 L542.5 169.78 L543.0 169.81 L543.5 169.85 L544.0 169.88 L544.5 169.91 L545.0 169.95 L545.5 169.98 L546.0 170.01 L546.5 170.05 L547.0 170.08 L547.5 170.12 L548.0 170.15 L548.5 170.19 L549.0 170.23 L549.5 170.26 L550.0 170.30 L550.5 170.34 L551.0 170.37 L551.5 170.41 L552.0 170.45 L552.5 170.49 L553.0 170.53 L553.5 170.57 L554.0 170.61 L554.5 170.65 L555.0 170.69 L555.5 170.74 L556.0 170.78 L556.5 170.82 L557.0 170.87 L557.5 170.91 L558.0 170.96 L558.5 171.00 L559.0 171.05 L559.5 171.10 L560.0 171.14 L560.5 171.19 L561.0 171.24 L561.5 171.29 L562.0 171.35 L562.5 171.40 L563.0 171.45 L563.5 171.50 L564.0 171.56 L564.5 171.62 L565.0 171.67 L565.5 171.73 L566.0 171.79 L566.5 171.85 L567.0 171.91 L567.5 171.98 L568.0 172.04 L568.5 172.11 L569.0 172.17 L569.5 172.24 L570.0 172.31 L570.5 172.38 L571.0 172.46 L571.5 172.53 L572.0 172.61 L572.5 172.69 L573.0 172.77 L573.5 172.85 L574.0 172.94 L574.5 173.02 L575.0 173.11 L575.5 173.20 L576.0 173.30 L576.5 173.40 L577.0 173.49 L577.5 173.60 L578.0 173.70 L578.5 173.81 L579.0 173.92 L579.5 174.04 L580.0 174.16 L580.5 174.28 L581.0 174.41 L581.5 174.54 L582.0 174.68 L582.5 174.82 L583.0 174.97 L583.5 175.12 L584.0 175.28 L584.5 175.44 L585.0 175.61 L585.5 175.79 L586.0 175.97 L586.5 176.16 L587.0 176.37 L587.5 176.58 L588.0 176.80 L588.5 177.03 L589.0 177.27 L589.5 177.52 L590.0 177.79 L590.5 178.07 L591.0 178.37 L591.5 178.68 L592.0 179.01 L592.5 179.37 L593.0 179.74 L593.5 180.14 L594.0 180.56 L594.5 181.01 L595.0 181.49 L595.5 182.01 L596.0 182.56 L596.5 183.16 L597.0 183.81 L597.5 184.50 L598.0 185.26 L598.5 186.08 L599.0 186.98 L599.5 187.96 L600.0 189.03 L600.5 190.20 L601.0 191.49 L601.5 192.90 L602.0 194.45 L602.5 196.16 L603.0 198.03 L603.5 200.07 L604.0 202.29 L604.5 204.67 L605.0 207.22 L605.5 209.89 L606.0 212.66 L606.5 215.48 L607.0 218.30 L607.5 221.08 L608.0 223.75 L608.5 226.30 L609.0 228.69 L609.5 230.91 L610.0 232.96 L610.5 234.84 L611.0 236.56 L611.5 238.13 L612.0 239.56 L612.5 240.86 L613.0 242.05 L613.5 243.14 L614.0 244.14 L614.5 245.05 L615.0 245.90 L615.5 246.68 L616.0 247.40 L616.5 248.07 L617.0 248.70 L617.5 249.29 L618.0 249.84 L618.5 250.36 L619.0 250.84 L619.5 251.30 L620.0 251.74 L620.5 252.16 L621.0 252.55 L621.5 252.93 L622.0 253.29 L622.5 253.64 L623.0 253.98 L623.5 254.30 L624.0 254.62 L624.5 254.92 L625.0 255.21 L625.5 255.50 L626.0 255.78 L626.5 256.06 L627.0 256.33 L627.5 256.59 L628.0 256.86 L628.5 257.12 L629.0 257.37 L629.5 257.63 L630.0 257.88 L630.5 258.13 L631.0 258.39 L631.5 258.64 L632.0 258.89 L632.5 259.15 L633.0 259.41 L633.5 259.67 L634.0 259.93 L634.5 260.20 L635.0 260.47 L635.5 260.75 L636.0 261.04 L636.5 261.33 L637.0 261.63 L637.5 261.94 L638.0 262.26 L638.5 262.60 L639.0 262.94 L639.5 263.30 L640.0 263.67 L640.5 264.06 L641.0 264.47 L641.5 264.90 L642.0 265.36 L642.5 265.84 L643.0 266.35 L643.5 266.89 L644.0 267.47 L644.5 268.09 L645.0 268.76 L645.5 269.48 L646.0 270.25 L646.5 271.10 L647.0 272.02 L647.5 273.02 L648.0 274.13 L648.5 275.35 L649.0 276.70 L649.5 278.20 L650.0 279.88 L650.5 281.76 L651.0 283.87 L651.5 286.25 L652.0 288.92 L652.5 291.92 L653.0 295.27 L653.5 298.99 L654.0 303.04 L654.5 307.40 L655.0 311.97 L655.5 316.64 L656.0 321.28 L656.5 325.76 L657.0 329.97 L657.5 333.87 L658.0 337.40 L658.5 340.58 L659.0 343.42 L659.5 345.94 L660.0 348.18 L660.5 350.17 L661.0 351.95 L661.5 353.54 L662.0 354.96 L662.5 356.25 L663.0 357.41 L663.5 358.46 L664.0 359.42 L664.5 360.29 L665.0 361.09 L665.5 361.83 L666.0 362.52 L666.5 363.15 L667.0 363.73 L667.5 364.28 L668.0 364.79 L668.5 365.27 L669.0 365.72 L669.5 366.14 L670.0 366.54 L670.5 366.91 L671.0 367.27 L671.5 367.60 L672.0 367.92 L672.5 368.23 L673.0 368.52 L673.5 368.79 L674.0 369.06 L674.5 369.31 L675.0 369.55 L675.5 369.78 L676.0 370.00 L676.5 370.22 L677.0 370.42 L677.5 370.62 L678.0 370.81 L678.5 371.00 L679.0 371.17 L679.5 371.35 L680.0 371.51 L680.5 371.67 L681.0 371.83 L681.5 371.98 L682.0 372.13 L682.5 372.27 L683.0 372.41 L683.5 372.55 L684.0 372.68 L684.5 372.81 L685.0 372.93 L685.5 373.05 L686.0 373.17 L686.5 373.29 L687.0 373.40 L687.5 373.51 L688.0 373.62 L688.5 373.73 L689.0 373.83 L689.5 373.93 L690.0 374.03 L690.5 374.13 L691.0 374.22 L691.5 374.32 L692.0 374.41 L692.5 374.50 L693.0 374.40 L693.5 374.30 L694.0 374.20 L694.5 374.10 L695.0 374.00 L695.5 373.89 L696.0 373.79 L696.5 373.68 L697.0 373.56 L697.5 373.45 L698.0 373.33 L698.5 373.22 L699.0 373.09 L699.5 372.97 L700.0 372.84 L700.5 372.71 L701.0 372.58 L701.5 372.44 L702.0 372.30 L702.5 372.16 L703.0 372.01 L703.5 371.86 L704.0 371.71 L704.5 371.55 L705.0 371.38 L705.5 371.21 L706.0 371.04 L706.5 370.86 L707.0 370.67 L707.5 370.48 L708.0 370.28 L708.5 370.07 L709.0 369.86 L709.5 369.63 L710.0 369.40 L710.5 369.16 L711.0 368.91 L711.5 368.65 L712.0 368.38 L712.5 368.09 L713.0 367.79 L713.5 367.48 L714.0 367.15 L714.5 366.80 L715.0 366.44 L715.5 366.05 L716.0 365.64 L716.5 365.21 L717.0 364.75 L717.5 364.25 L718.0 363.73 L718.5 363.17 L719.0 362.56 L719.5 361.91 L720.0 361.21 L720.5 360.45 L721.0 359.62 L721.5 358.72 L722.0 357.73 L722.5 356.65 L723.0 355.46 L723.5 354.13 L724.0 352.66 L724.5 351.03 L725.0 349.19 L725.5 347.14 L726.0 344.84 L726.5 342.25 L727.0 339.35 L727.5 336.12 L728.0 332.55 L728.5 328.65 L729.0 324.47 L729.5 320.08 L730.0 315.59 L730.5 311.12 L731.0 306.80 L731.5 302.71 L732.0 298.92 L732.5 295.46 L733.0 292.35 L733.5 289.56 L734.0 287.08 L734.5 284.86 L735.0 282.89 L735.5 281.13 L736.0 279.55 L736.5 278.13 L737.0 276.85 L737.5 275.69 L738.0 274.64 L738.5 273.68 L739.0 272.80 L739.5 271.99 L740.0 271.24 L740.5 270.54 L741.0 269.90 L741.5 269.30 L742.0 268.74 L742.5 268.21 L743.0 267.71 L743.5 267.24 L744.0 266.79 L744.5 266.37 L745.0 265.97 L745.5 265.59 L746.0 265.22 L746.5 264.87 L747.0 264.53 L747.5 264.20 L748.0 263.89 L748.5 263.58 L749.0 263.29 L749.5 263.00 L750.0 262.72 L750.5 262.45 L751.0 262.18 L751.5 261.92 L752.0 261.66 L752.5 261.40 L753.0 261.15 L753.5 260.91 L754.0 260.66 L754.5 260.42 L755.0 260.18 L755.5 259.93 L756.0 259.69 L756.5 259.45 L757.0 259.21 L757.5 258.97 L758.0 258.72 L758.5 258.47 L759.0 258.22 L759.5 257.97 L760.0 257.71 L760.5 257.45 L761.0 257.18 L761.5 256.90 L762.0 256.62 L762.5 256.33 L763.0 256.03 L763.5 255.73 L764.0 255.41 L764.5 255.08 L765.0 254.73 L765.5 254.37 L766.0 254.00 L766.5 253.61 L767.0 253.19 L767.5 252.76 L768.0 252.30 L768.5 251.81 L769.0 251.30 L769.5 250.75 L770.0 250.16 L770.5 249.53 L771.0 248.86 L771.5 248.14 L772.0 247.37 L772.5 246.53 L773.0 245.63 L773.5 244.66 L774.0 243.62 L774.5 242.49 L775.0 241.29 L775.5 240.00 L776.0 238.63 L776.5 237.18 L777.0 235.66 L777.5 234.09 L778.0 232.48 L778.5 230.84 L779.0 229.21 L779.5 227.60 L780.0 226.03 L780.5 224.52 L781.0 223.08 L781.5 221.71 L782.0 220.43 L782.5 219.24 L783.0 218.12 L783.5 217.09 L784.0 216.14 L784.5 215.25 L785.0 214.43 L785.5 213.68 L786.0 212.98 L786.5 212.33 L787.0 211.72 L787.5 211.16 L788.0 210.64 L788.5 210.15 L789.0 209.69 L789.5 209.26 L790.0 208.86 L790.5 208.48 L791.0 208.13 L791.5 207.79 L792.0 207.47 L792.5 207.17 L793.0 206.88 L793.5 206.61 L794.0 206.35 L794.5 206.11 L795.0 205.87 L795.5 205.65 L796.0 205.43 L796.5 205.22 L797.0 205.03 L797.5 204.83 L798.0 204.65 L798.5 204.47 L799.0 204.30 L799.5 204.14 L800.0 203.98 L800.5 203.83 L801.0 203.68 L801.5 203.54 L802.0 203.40 L802.5 203.26 L803.0 203.13 L803.5 203.00 L804.0 202.88 L804.5 202.76 L805.0 202.64 L805.5 202.52 L806.0 202.41 L806.5 202.30 L807.0 202.20 L807.5 202.09 L808.0 201.99 L808.5 201.89 L809.0 201.79 L809.5 201.70 L810.0 201.60 L810.5 201.51 L811.0 201.42 L811.5 201.33 L812.0 201.25 L812.5 201.16 L813.0 201.08 L813.5 200.99 L814.0 200.91 L814.5 200.83 L815.0 200.76 L815.5 200.68 L816.0 200.60 L816.5 200.53 L817.0 200.45 L817.5 200.38 L818.0 200.31 L818.5 200.24 L819.0 200.17 L819.5 200.10 L820.0 200.03 L820.5 199.96 L821.0 199.90 L821.5 199.83 L822.0 199.77 L822.5 199.70 L823.0 199.64 L823.5 199.57 L824.0 199.51 L824.5 199.45 L825.0 199.39 L825.5 199.33 L826.0 199.27 L826.5 199.21 L827.0 199.15 L827.5 199.09 L828.0 199.03 L828.5 198.98 L829.0 198.92 L829.5 198.86 L830.0 198.81 L830.5 198.75 L831.0 198.69 L831.5 198.64 L832.0 198.58 L832.5 198.53 L833.0 198.48 L833.5 198.42 L834.0 198.37 L834.5 198.32 L835.0 198.26 L835.5 198.21 L836.0 198.16 L836.5 198.11 L837.0 198.05 L837.5 198.00 L838.0 197.95 L838.5 197.90 L839.0 197.85 L839.5 197.80 L840.0 197.75 L840.5 197.70 L841.0 197.65 L841.5 197.60 L842.0 197.55 L842.5 197.50 L843.0 197.45 L843.5 197.40 L844.0 197.35 L844.5 197.30 L845.0 197.25 L845.5 197.20 L846.0 197.15 L846.5 197.11 L847.0 197.06 L847.5 197.01 L848.0 196.96 L848.5 196.91 L849.0 196.86 L849.5 196.81 L850.0 196.76 L850.5 196.72 L851.0 196.67 L851.5 196.62 L852.0 196.57 L852.5 196.52 L853.0 196.47 L853.5 196.42 L854.0 196.38 L854.5 196.33 L855.0 196.28 L855.5 196.23 L856.0 196.18 L856.5 196.13 L857.0 196.08 L857.5 196.03 L858.0 195.99 L858.5 195.94 L859.0 195.89 L859.5 195.84 L860.0 195.79 L860.5 195.74 L861.0 195.69 L861.5 195.64 L862.0 195.59 L862.5 195.54 L863.0 195.49 L863.5 195.44 L864.0 195.38 L864.5 195.33 L865.0 195.28 L865.5 195.23 L866.0 195.18 L866.5 195.13 L867.0 195.07 L867.5 195.02 L868.0 194.97 L868.5 194.91 L869.0 194.86 L869.5 194.81 L870.0 194.75 L870.5 194.70 L871.0 194.64 L871.5 194.59 L872.0 194.53 L872.5 194.48 L873.0 194.42 L873.5 194.36 L874.0 194.30 L874.5 194.25 L875.0 194.19 L875.5 194.13 L876.0 194.07 L876.5 194.01 L877.0 193.95 L877.5 193.89 L878.0 193.83 L878.5 193.76 L879.0 193.70 L879.5 193.64 L880.0 193.57 L880.5 193.51 L881.0 193.44 L881.5 193.37 L882.0 193.31 L882.5 193.24 L883.0 193.17 L883.5 193.10 L884.0 193.03 L884.5 192.96 L885.0 192.88 L885.5 192.81 L886.0 192.73 L886.5 192.66 L887.0 192.58 L887.5 192.50 L888.0 192.42 L888.5 192.34 L889.0 192.26 L889.5 192.17 L890.0 192.09 L890.5 192.00 L891.0 191.91 L891.5 191.82 L892.0 191.73 L892.5 191.64 L893.0 191.54 L893.5 191.44 L894.0 191.34 L894.5 191.24 L895.0 191.14 L895.5 191.03 L896.0 190.92 L896.5 190.81 L897.0 190.70 L897.5 190.58 L898.0 190.46 L898.5 190.34 L899.0 190.21 L899.5 190.08 L900.0 189.95 L900.5 189.81 L901.0 189.67 L901.5 189.52 L902.0 189.38 L902.5 189.22 L903.0 189.06 L903.5 188.90 L904.0 188.73 L904.5 188.56 L905.0 188.38 L905.5 188.19 L906.0 188.00 L906.5 187.80 L907.0 187.59 L907.5 187.37 L908.0 187.15 L908.5 186.92 L909.0 186.68 L909.5 186.42 L910.0 186.16 L910.5 185.89 L911.0 185.60 L911.5 185.31 L912.0 185.00 L912.5 184.67 L913.0 184.33 L913.5 183.98 L914.0 183.60 L914.5 183.21 L915.0 182.81 L915.5 182.38 L916.0 181.93 L916.5 181.46 L917.0 180.96 L917.5 180.45 L918.0 179.90 L918.5 179.34 L919.0 178.74 L919.5 178.12 L920.0 177.47 L920.5 176.80 L921.0 176.10 L921.5 175.37 L922.0 174.62 L922.5 173.85 L923.0 173.05 L923.5 172.24 L924.0 171.41 L924.5 170.57 L925.0 169.72 L925.5 168.87 L926.0 168.01 L926.5 167.17 L927.0 166.32 L927.5 165.50 L928.0 164.68 L928.5 163.89 L929.0 163.11 L929.5 162.36 L930.0 161.64 L930.5 160.94 L931.0 160.26" stroke="#d8576b"/>
<path d="M454.0 134.14 L454.5 134.44 L455.0 134.73 L455.5 135.00 L456.0 135.25 L456.5 135.50 L457.0 135.73 L457.5 135.95 L458.0 136.17 L458.5 136.37 L459.0 136.56 L459.5 136.75 L460.0 136.93 L460.5 137.10 L461.0 137.26 L461.5 137.42 L462.0 137.57 L462.5 137.71 L463.0 137.85 L463.5 137.98 L464.0 138.11 L464.5 138.23 L465.0 138.35 L465.5 138.47 L466.0 138.58 L466.5 138.68 L467.0 138.79 L467.5 138.89 L468.0 138.98 L468.5 139.08 L469.0 139.17 L469.5 139.25 L470.0 139.34 L470.5 139.42 L471.0 139.50 L471.5 139.58 L472.0 139.65 L472.5 139.73 L473.0 139.80 L473.5 139.87 L474.0 139.94 L474.5 140.00 L475.0 140.07 L475.5 140.13 L476.0 140.19 L476.5 140.25 L477.0 140.31 L477.5 140.36 L478.0 140.42 L478.5 140.48 L479.0 140.53 L479.5 140.58 L480.0 140.63 L480.5 140.68 L481.0 140.73 L481.5 140.78 L482.0 140.83 L482.5 140.87 L483.0 140.92 L483.5 140.96 L484.0 141.01 L484.5 141.05 L485.0 141.09 L485.5 141.14 L486.0 141.18 L486.5 141.22 L487.0 141.26 L487.5 141.30 L488.0 141.34 L488.5 141.38 L489.0 141.41 L489.5 141.45 L490.0 141.49 L490.5 141.52 L491.0 141.56 L491.5 141.60 L492.0 141.63 L492.5 141.67 L493.0 141.70 L493.5 141.73 L494.0 141.77 L494.5 141.80 L495.0 141.83 L495.5 141.87 L496.0 141.90 L496.5 141.93 L497.0 141.96 L497.5 141.99 L498.0 142.03 L498.5 142.06 L499.0 142.09 L499.5 142.12 L500.0 142.15 L500.5 142.18 L501.0 142.21 L501.5 142.24 L502.0 142.27 L502.5 142.30 L503.0 142.33 L503.5 142.36 L504.0 142.39 L504.5 142.41 L505.0 142.44 L505.5 142.47 L506.0 142.50 L506.5 142.53 L507.0 142.56 L507.5 142.58 L508.0 142.61 L508.5 142.64 L509.0 142.67 L509.5 142.70 L510.0 142.73 L510.5 142.75 L511.0 142.78 L511.5 142.81 L512.0 142.84 L512.5 142.86 L513.0 142.89 L513.5 142.92 L514.0 142.95 L514.5 142.98 L515.0 143.00 L515.5 143.03 L516.0 143.06 L516.5 143.09 L517.0 143.11 L517.5 143.14 L518.0 143.17 L518.5 143.20 L519.0 143.23 L519.5 143.25 L520.0 143.28 L520.5 143.31 L521.0 143.34 L521.5 143.37 L522.0 143.40 L522.5 143.42 L523.0 143.45 L523.5 143.48 L524.0 143.51 L524.5 143.54 L525.0 143.57 L525.5 143.60 L526.0 143.63 L526.5 143.66 L527.0 143.69 L527.5 143.72 L528.0 143.75 L528.5 143.78 L529.0 143.81 L529.5 143.84 L530.0 143.87 L530.5 143.90 L531.0 143.93 L531.5 143.96 L532.0 144.00 L532.5 144.03 L533.0 144.06 L533.5 144.09 L534.0 144.13 L534.5 144.16 L535.0 144.19 L535.5 144.23 L536.0 144.26 L536.5 144.29 L537.0 144.33 L537.5 144.36 L538.0 144.40 L538.5 144.43 L539.0 144.47 L539.5 144.51 L540.0 144.54 L540.5 144.58 L541.0 144.62 L541.5 144.65 L542.0 144.69 L542.5 144.73 L543.0 144.77 L543.5 144.81 L544.0 144.85 L544.5 144.89 L545.0 144.93 L545.5 144.97 L546.0 145.01 L546.5 145.06 L547.0 145.10 L547.5 145.14 L548.0 145.19 L548.5 145.23 L549.0 145.28 L549.5 145.32 L550.0 145.37 L550.5 145.42 L551.0 145.47 L551.5 145.52 L552.0 145.57 L552.5 145.62 L553.0 145.67 L553.5 145.72 L554.0 145.77 L554.5 145.83 L555.0 145.88 L555.5 145.94 L556.0 146.00 L556.5 146.05 L557.0 146.11 L557.5 146.17 L558.0 146.23 L558.5 146.30 L559.0 146.36 L559.5 146.43 L560.0 146.49 L560.5 146.56 L561.0 146.63 L561.5 146.70 L562.0 146.77 L562.5 146.84 L563.0 146.92 L563.5 147.00 L564.0 147.07 L564.5 147.15 L565.0 147.24 L565.5 147.32 L566.0 147.41 L566.5 147.49 L567.0 147.59 L567.5 147.68 L568.0 147.77 L568.5 147.87 L569.0 147.97 L569.5 148.07 L570.0 148.18 L570.5 148.29 L571.0 148.40 L571.5 148.52 L572.0 148.64 L572.5 148.76 L573.0 148.89 L573.5 149.02 L574.0 149.15 L574.5 149.29 L575.0 149.44 L575.5 149.59 L576.0 149.74 L576.5 149.90 L577.0 150.07 L577.5 150.24 L578.0 150.42 L578.5 150.60 L579.0 150.80 L579.5 151.00 L580.0 151.21 L580.5 151.43 L581.0 151.65 L581.5 151.89 L582.0 152.14 L582.5 152.41 L583.0 152.68 L583.5 152.97 L584.0 153.27 L584.5 153.59 L585.0 153.93 L585.5 154.29 L586.0 154.66 L586.5 155.06 L587.0 155.48 L587.5 155.93 L588.0 156.41 L588.5 156.92 L589.0 157.47 L589.5 158.05 L590.0 158.68 L590.5 159.35 L591.0 160.07 L591.5 160.86 L592.0 161.70 L592.5 162.62 L593.0 163.62 L593.5 164.70 L594.0 165.88 L594.5 167.17 L595.0 168.58 L595.5 170.12 L596.0 171.79 L596.5 173.63 L597.0 175.62 L597.5 177.78 L598.0 180.10 L598.5 182.59 L599.0 185.22 L599.5 187.97 L600.0 190.81 L600.5 193.69 L601.0 196.58 L601.5 199.41 L602.0 202.17 L602.5 204.80 L603.0 207.29 L603.5 209.62 L604.0 211.79 L604.5 213.79 L605.0 215.63 L605.5 217.32 L606.0 218.87 L606.5 220.29 L607.0 221.59 L607.5 222.79 L608.0 223.89 L608.5 224.90 L609.0 225.83 L609.5 226.70 L610.0 227.50 L610.5 228.25 L611.0 228.94 L611.5 229.59 L612.0 230.20 L612.5 230.77 L613.0 231.31 L613.5 231.82 L614.0 232.30 L614.5 232.76 L615.0 233.19 L615.5 233.60 L616.0 233.99 L616.5 234.37 L617.0 234.73 L617.5 235.08 L618.0 235.41 L618.5 235.73 L619.0 236.04 L619.5 236.34 L620.0 236.63 L620.5 236.91 L621.0 237.19 L621.5 237.46 L622.0 237.72 L622.5 237.98 L623.0 238.23 L623.5 238.48 L624.0 238.72 L624.5 238.96 L625.0 239.20 L625.5 239.43 L626.0 239.67 L626.5 239.90 L627.0 240.13 L627.5 240.36 L628.0 240.59 L628.5 240.82 L629.0 241.05 L629.5 241.28 L630.0 241.52 L630.5 241.75 L631.0 241.99 L631.5 242.23 L632.0 242.47 L632.5 242.72 L633.0 242.98 L633.5 243.23 L634.0 243.50 L634.5 243.76 L635.0 244.04 L635.5 244.32 L636.0 244.62 L636.5 244.92 L637.0 245.23 L637.5 245.55 L638.0 245.89 L638.5 246.24 L639.0 246.60 L639.5 246.98 L640.0 247.38 L640.5 247.80 L641.0 248.24 L641.5 248.70 L642.0 249.20 L642.5 249.72 L643.0 250.27 L643.5 250.86 L644.0 251.50 L644.5 252.18 L645.0 252.91 L645.5 253.70 L646.0 254.55 L646.5 255.48 L647.0 256.50 L647.5 257.62 L648.0 258.84 L648.5 260.20 L649.0 261.71 L649.5 263.39 L650.0 265.26 L650.5 267.37 L651.0 269.75 L651.5 272.43 L652.0 275.47 L652.5 278.89 L653.0 282.73 L653.5 287.01 L654.0 291.73 L654.5 296.82 L655.0 302.20 L655.5 307.73 L656.0 313.23 L656.5 318.56 L657.0 323.58 L657.5 328.20 L658.0 332.39 L658.5 336.14 L659.0 339.47 L659.5 342.43 L660.0 345.04 L660.5 347.35 L661.0 349.41 L661.5 351.24 L662.0 352.88 L662.5 354.35 L663.0 355.67 L663.5 356.87 L664.0 357.96 L664.5 358.95 L665.0 359.86 L665.5 360.69 L666.0 361.46 L666.5 362.17 L667.0 362.83 L667.5 363.44 L668.0 364.01 L668.5 364.54 L669.0 365.04 L669.5 365.51 L670.0 365.95 L670.5 366.36 L671.0 366.75 L671.5 367.12 L672.0 367.47 L672.5 367.81 L673.0 368.13 L673.5 368.43 L674.0 368.71 L674.5 368.99 L675.0 369.25 L675.5 369.50 L676.0 369.74 L676.5 369.98 L677.0 370.20 L677.5 370.41 L678.0 370.62 L678.5 370.82 L679.0 371.01 L679.5 371.19 L680.0 371.37 L680.5 371.54 L681.0 371.71 L681.5 371.87 L682.0 372.03 L682.5 372.18 L683.0 372.32 L683.5 372.47 L684.0 372.61 L684.5 372.74 L685.0 372.87 L685.5 373.00 L686.0 373.13 L686.5 373.25 L687.0 373.37 L687.5 373.48 L688.0 373.59 L688.5 373.70 L689.0 373.81 L689.5 373.92 L690.0 374.02 L690.5 374.12 L691.0 374.22 L691.5 374.31 L692.0 374.41 L692.5 374.50 L693.0 374.40 L693.5 374.30 L694.0 374.20 L694.5 374.10 L695.0 373.99 L695.5 373.88 L696.0 373.77 L696.5 373.66 L697.0 373.54 L697.5 373.42 L698.0 373.30 L698.5 373.18 L699.0 373.05 L699.5 372.92 L700.0 372.79 L700.5 372.65 L701.0 372.51 L701.5 372.37 L702.0 372.22 L702.5 372.07 L703.0 371.91 L703.5 371.75 L704.0 371.58 L704.5 371.41 L705.0 371.23 L705.5 371.05 L706.0 370.86 L706.5 370.66 L707.0 370.46 L707.5 370.25 L708.0 370.03 L708.5 369.81 L709.0 369.57 L709.5 369.33 L710.0 369.07 L710.5 368.81 L711.0 368.53 L711.5 368.24 L712.0 367.93 L712.5 367.61 L713.0 367.28 L713.5 366.93 L714.0 366.56 L714.5 366.16 L715.0 365.75 L715.5 365.31 L716.0 364.85 L716.5 364.35 L717.0 363.83 L717.5 363.27 L718.0 362.67 L718.5 362.02 L719.0 361.33 L719.5 360.58 L720.0 359.77 L720.5 358.89 L721.0 357.94 L721.5 356.89 L722.0 355.75 L722.5 354.49 L723.0 353.10 L723.5 351.56 L724.0 349.85 L724.5 347.94 L725.0 345.80 L725.5 343.40 L726.0 340.70 L726.5 337.67 L727.0 334.27 L727.5 330.47 L728.0 326.27 L728.5 321.68 L729.0 316.75 L729.5 311.56 L730.0 306.25 L730.5 300.96 L731.0 295.83 L731.5 290.97 L732.0 286.47 L732.5 282.37 L733.0 278.67 L733.5 275.36 L734.0 272.41 L734.5 269.78 L735.0 267.44 L735.5 265.36 L736.0 263.49 L736.5 261.81 L737.0 260.30 L737.5 258.94 L738.0 257.70 L738.5 256.57 L739.0 255.54 L739.5 254.59 L740.0 253.72 L740.5 252.91 L741.0 252.16 L741.5 251.46 L742.0 250.81 L742.5 250.20 L743.0 249.63 L743.5 249.09 L744.0 248.59 L744.5 248.11 L745.0 247.65 L745.5 247.22 L746.0 246.81 L746.5 246.42 L747.0 246.04 L747.5 245.68 L748.0 245.34 L748.5 245.01 L749.0 244.69 L749.5 244.38 L750.0 244.08 L750.5 243.79 L751.0 243.51 L751.5 243.24 L752.0 242.97 L752.5 242.71 L753.0 242.46 L753.5 242.21 L754.0 241.96 L754.5 241.72 L755.0 241.49 L755.5 241.26 L756.0 241.03 L756.5 240.80 L757.0 240.58 L757.5 240.36 L758.0 240.14 L758.5 239.92 L759.0 239.70 L759.5 239.48 L760.0 239.26 L760.5 239.04 L761.0 238.82 L761.5 238.60 L762.0 238.38 L762.5 238.16 L763.0 237.93 L763.5 237.71 L764.0 237.47 L764.5 237.24 L765.0 237.00 L765.5 236.76 L766.0 236.51 L766.5 236.25 L767.0 235.99 L767.5 235.73 L768.0 235.45 L768.5 235.17 L769.0 234.87 L769.5 234.57 L770.0 234.25 L770.5 233.92 L771.0 233.58 L771.5 233.22 L772.0 232.84 L772.5 232.45 L773.0 232.03 L773.5 231.59 L774.0 231.13 L774.5 230.64 L775.0 230.11 L775.5 229.56 L776.0 228.96 L776.5 228.32 L777.0 227.64 L777.5 226.90 L778.0 226.11 L778.5 225.26 L779.0 224.33 L779.5 223.34 L780.0 222.26 L780.5 221.11 L781.0 219.86 L781.5 218.53 L782.0 217.11 L782.5 215.61 L783.0 214.04 L783.5 212.41 L784.0 210.73 L784.5 209.04 L785.0 207.34 L785.5 205.67 L786.0 204.04 L786.5 202.47 L787.0 200.98 L787.5 199.57 L788.0 198.24 L788.5 197.01 L789.0 195.86 L789.5 194.80 L790.0 193.81 L790.5 192.90 L791.0 192.06 L791.5 191.29 L792.0 190.57 L792.5 189.90 L793.0 189.28 L793.5 188.71 L794.0 188.17 L794.5 187.67 L795.0 187.20 L795.5 186.76 L796.0 186.35 L796.5 185.96 L797.0 185.60 L797.5 185.25 L798.0 184.93 L798.5 184.62 L799.0 184.33 L799.5 184.05 L800.0 183.78 L800.5 183.53 L801.0 183.29 L801.5 183.06 L802.0 182.84 L802.5 182.63 L803.0 182.42 L803.5 182.23 L804.0 182.04 L804.5 181.86 L805.0 181.68 L805.5 181.52 L806.0 181.35 L806.5 181.19 L807.0 181.04 L807.5 180.89 L808.0 180.75 L808.5 180.61 L809.0 180.48 L809.5 180.35 L810.0 180.22 L810.5 180.09 L811.0 179.97 L811.5 179.85 L812.0 179.74 L812.5 179.63 L813.0 179.52 L813.5 179.41 L814.0 179.30 L814.5 179.20 L815.0 179.10 L815.5 179.00 L816.0 178.90 L816.5 178.81 L817.0 178.72 L817.5 178.62 L818.0 178.53 L818.5 178.45 L819.0 178.36 L819.5 178.28 L820.0 178.19 L820.5 178.11 L821.0 178.03 L821.5 177.95 L822.0 177.87 L822.5 177.79 L823.0 177.72 L823.5 177.64 L824.0 177.57 L824.5 177.49 L825.0 177.42 L825.5 177.35 L826.0 177.28 L826.5 177.21 L827.0 177.14 L827.5 177.07 L828.0 177.01 L828.5 176.94 L829.0 176.87 L829.5 176.81 L830.0 176.74 L830.5 176.68 L831.0 176.62 L831.5 176.55 L832.0 176.49 L832.5 176.43 L833.0 176.37 L833.5 176.31 L834.0 176.25 L834.5 176.19 L835.0 176.13 L835.5 176.07 L836.0 176.02 L836.5 175.96 L837.0 175.90 L837.5 175.85 L838.0 175.79 L838.5 175.73 L839.0 175.68 L839.5 175.62 L840.0 175.57 L840.5 175.52 L841.0 175.46 L841.5 175.41 L842.0 175.35 L842.5 175.30 L843.0 175.25 L843.5 175.20 L844.0 175.14 L844.5 175.09 L845.0 175.04 L845.5 174.99 L846.0 174.94 L846.5 174.89 L847.0 174.84 L847.5 174.79 L848.0 174.74 L848.5 174.69 L849.0 174.64 L849.5 174.59 L850.0 174.54 L850.5 174.49 L851.0 174.44 L851.5 174.39 L852.0 174.34 L852.5 174.29 L853.0 174.24 L853.5 174.20 L854.0 174.15 L854.5 174.10 L855.0 174.05 L855.5 174.00 L856.0 173.96 L856.5 173.91 L857.0 173.86 L857.5 173.81 L858.0 173.76 L858.5 173.72 L859.0 173.67 L859.5 173.62 L860.0 173.58 L860.5 173.53 L861.0 173.48 L861.5 173.43 L862.0 173.39 L862.5 173.34 L863.0 173.29 L863.5 173.25 L864.0 173.20 L864.5 173.15 L865.0 173.10 L865.5 173.06 L866.0 173.01 L866.5 172.96 L867.0 172.92 L867.5 172.87 L868.0 172.82 L868.5 172.78 L869.0 172.73 L869.5 172.68 L870.0 172.63 L870.5 172.59 L871.0 172.54 L871.5 172.49 L872.0 172.44 L872.5 172.40 L873.0 172.35 L873.5 172.30 L874.0 172.25 L874.5 172.20 L875.0 172.16 L875.5 172.11 L876.0 172.06 L876.5 172.01 L877.0 171.96 L877.5 171.91 L878.0 171.86 L878.5 171.82 L879.0 171.77 L879.5 171.72 L880.0 171.67 L880.5 171.62 L881.0 171.57 L881.5 171.52 L882.0 171.47 L882.5 171.41 L883.0 171.36 L883.5 171.31 L884.0 171.26 L884.5 171.21 L885.0 171.16 L885.5 171.10 L886.0 171.05 L886.5 171.00 L887.0 170.94 L887.5 170.89 L888.0 170.84 L888.5 170.78 L889.0 170.73 L889.5 170.67 L890.0 170.62 L890.5 170.56 L891.0 170.50 L891.5 170.45 L892.0 170.39 L892.5 170.33 L893.0 170.27 L893.5 170.21 L894.0 170.15 L894.5 170.09 L895.0 170.03 L895.5 169.97 L896.0 169.91 L896.5 169.85 L897.0 169.78 L897.5 169.72 L898.0 169.66 L898.5 169.59 L899.0 169.52 L899.5 169.46 L900.0 169.39 L900.5 169.32 L901.0 169.25 L901.5 169.18 L902.0 169.11 L902.5 169.04 L903.0 168.96 L903.5 168.89 L904.0 168.81 L904.5 168.74 L905.0 168.66 L905.5 168.58 L906.0 168.50 L906.5 168.42 L907.0 168.33 L907.5 168.25 L908.0 168.16 L908.5 168.07 L909.0 167.98 L909.5 167.89 L910.0 167.80 L910.5 167.70 L911.0 167.60 L911.5 167.50 L912.0 167.40 L912.5 167.30 L913.0 167.19 L913.5 167.08 L914.0 166.97 L914.5 166.86 L915.0 166.74 L915.5 166.62 L916.0 166.49 L916.5 166.37 L917.0 166.24 L917.5 166.10 L918.0 165.96 L918.5 165.82 L919.0 165.67 L919.5 165.52 L920.0 165.36 L920.5 165.20 L921.0 165.03 L921.5 164.86 L922.0 164.68 L922.5 164.49 L923.0 164.30 L923.5 164.10 L924.0 163.89 L924.5 163.68 L925.0 163.45 L925.5 163.22 L926.0 162.97 L926.5 162.72 L927.0 162.45 L927.5 162.18 L928.0 161.89 L928.5 161.58 L929.0 161.27 L929.5 160.94 L930.0 160.59 L930.5 160.23 L931.0 159.85" stroke="#ed7953"/>
<path d="M454.0 109.94 L454.5 110.06 L455.0 110.18 L455.5 110.29 L456.0 110.41 L456.5 110.51 L457.0 110.62 L457.5 110.72 L458.0 110.82 L458.5 110.92 L459.0 111.01 L459.5 111.10 L460.0 111.19 L460.5 111.27 L461.0 111.36 L461.5 111.44 L462.0 111.52 L462.5 111.60 L463.0 111.67 L463.5 111.75 L464.0 111.82 L464.5 111.89 L465.0 111.96 L465.5 112.03 L466.0 112.09 L466.5 112.16 L467.0 112.22 L467.5 112.28 L468.0 112.34 L468.5 112.40 L469.0 112.46 L469.5 112.52 L470.0 112.57 L470.5 112.63 L471.0 112.68 L471.5 112.74 L472.0 112.79 L472.5 112.84 L473.0 112.89 L473.5 112.94 L474.0 112.99 L474.5 113.04 L475.0 113.08 L475.5 113.13 L476.0 113.18 L476.5 113.22 L477.0 113.27 L477.5 113.31 L478.0 113.35 L478.5 113.40 L479.0 113.44 L479.5 113.48 L480.0 113.52 L480.5 113.56 L481.0 113.60 L481.5 113.64 L482.0 113.68 L482.5 113.72 L483.0 113.76 L483.5 113.80 L484.0 113.84 L484.5 113.88 L485.0 113.91 L485.5 113.95 L486.0 113.99 L486.5 114.02 L487.0 114.06 L487.5 114.09 L488.0 114.13 L488.5 114.16 L489.0 114.20 L489.5 114.23 L490.0 114.27 L490.5 114.30 L491.0 114.34 L491.5 114.37 L492.0 114.40 L492.5 114.44 L493.0 114.47 L493.5 114.50 L494.0 114.54 L494.5 114.57 L495.0 114.60 L495.5 114.63 L496.0 114.66 L496.5 114.70 L497.0 114.73 L497.5 114.76 L498.0 114.79 L498.5 114.82 L499.0 114.86 L499.5 114.89 L500.0 114.92 L500.5 114.95 L501.0 114.98 L501.5 115.01 L502.0 115.04 L502.5 115.07 L503.0 115.11 L503.5 115.14 L504.0 115.17 L504.5 115.20 L505.0 115.23 L505.5 115.26 L506.0 115.29 L506.5 115.32 L507.0 115.35 L507.5 115.39 L508.0 115.42 L508.5 115.45 L509.0 115.48 L509.5 115.51 L510.0 115.54 L510.5 115.57 L511.0 115.60 L511.5 115.64 L512.0 115.67 L512.5 115.70 L513.0 115.73 L513.5 115.76 L514.0 115.79 L514.5 115.83 L515.0 115.86 L515.5 115.89 L516.0 115.92 L516.5 115.96 L517.0 115.99 L517.5 116.02 L518.0 116.05 L518.5 116.09 L519.0 116.12 L519.5 116.15 L520.0 116.19 L520.5 116.22 L521.0 116.26 L521.5 116.29 L522.0 116.33 L522.5 116.36 L523.0 116.39 L523.5 116.43 L524.0 116.47 L524.5 116.50 L525.0 116.54 L525.5 116.57 L526.0 116.61 L526.5 116.65 L527.0 116.68 L527.5 116.72 L528.0 116.76 L528.5 116.80 L529.0 116.84 L529.5 116.87 L530.0 116.91 L530.5 116.95 L531.0 116.99 L531.5 117.03 L532.0 117.07 L532.5 117.12 L533.0 117.16 L533.5 117.20 L534.0 117.24 L534.5 117.28 L535.0 117.33 L535.5 117.37 L536.0 117.42 L536.5 117.46 L537.0 117.51 L537.5 117.55 L538.0 117.60 L538.5 117.65 L539.0 117.69 L539.5 117.74 L540.0 117.79 L540.5 117.84 L541.0 117.89 L541.5 117.94 L542.0 118.00 L542.5 118.05 L543.0 118.10 L543.5 118.16 L544.0 118.21 L544.5 118.27 L545.0 118.32 L545.5 118.38 L546.0 118.44 L546.5 118.50 L547.0 118.56 L547.5 118.62 L548.0 118.68 L548.5 118.75 L549.0 118.81 L549.5 118.88 L550.0 118.95 L550.5 119.01 L551.0 119.08 L551.5 119.16 L552.0 119.23 L552.5 119.30 L553.0 119.38 L553.5 119.45 L554.0 119.53 L554.5 119.61 L555.0 119.70 L555.5 119.78 L556.0 119.86 L556.5 119.95 L557.0 120.04 L557.5 120.13 L558.0 120.23 L558.5 120.32 L559.0 120.42 L559.5 120.52 L560.0 120.63 L560.5 120.73 L561.0 120.84 L561.5 120.95 L562.0 121.07 L562.5 121.19 L563.0 121.31 L563.5 121.43 L564.0 121.56 L564.5 121.69 L565.0 121.83 L565.5 121.97 L566.0 122.12 L566.5 122.27 L567.0 122.42 L567.5 122.58 L568.0 122.74 L568.5 122.92 L569.0 123.09 L569.5 123.28 L570.0 123.47 L570.5 123.66 L571.0 123.87 L571.5 124.08 L572.0 124.30 L572.5 124.53 L573.0 124.77 L573.5 125.03 L574.0 125.29 L574.5 125.56 L575.0 125.85 L575.5 126.15 L576.0 126.46 L576.5 126.79 L577.0 127.14 L577.5 127.51 L578.0 127.89 L578.5 128.30 L579.0 128.73 L579.5 129.19 L580.0 129.67 L580.5 130.18 L581.0 130.73 L581.5 131.31 L582.0 131.93 L582.5 132.59 L583.0 133.30 L583.5 134.07 L584.0 134.89 L584.5 135.77 L585.0 136.72 L585.5 137.75 L586.0 138.86 L586.5 140.07 L587.0 141.38 L587.5 142.81 L588.0 144.36 L588.5 146.04 L589.0 147.87 L589.5 149.85 L590.0 151.99 L590.5 154.29 L591.0 156.76 L591.5 159.38 L592.0 162.13 L592.5 165.00 L593.0 167.94 L593.5 170.93 L594.0 173.92 L594.5 176.87 L595.0 179.73 L595.5 182.49 L596.0 185.11 L596.5 187.58 L597.0 189.89 L597.5 192.04 L598.0 194.02 L598.5 195.86 L599.0 197.55 L599.5 199.11 L600.0 200.54 L600.5 201.86 L601.0 203.08 L601.5 204.21 L602.0 205.25 L602.5 206.22 L603.0 207.12 L603.5 207.95 L604.0 208.73 L604.5 209.46 L605.0 210.14 L605.5 210.78 L606.0 211.39 L606.5 211.95 L607.0 212.49 L607.5 213.00 L608.0 213.48 L608.5 213.93 L609.0 214.37 L609.5 214.78 L610.0 215.18 L610.5 215.56 L611.0 215.92 L611.5 216.27 L612.0 216.60 L612.5 216.92 L613.0 217.23 L613.5 217.53 L614.0 217.83 L614.5 218.11 L615.0 218.38 L615.5 218.65 L616.0 218.91 L616.5 219.16 L617.0 219.41 L617.5 219.65 L618.0 219.89 L618.5 220.12 L619.0 220.35 L619.5 220.57 L620.0 220.79 L620.5 221.01 L621.0 221.23 L621.5 221.44 L622.0 221.65 L622.5 221.86 L623.0 222.07 L623.5 222.28 L624.0 222.48 L624.5 222.69 L625.0 222.90 L625.5 223.10 L626.0 223.31 L626.5 223.52 L627.0 223.73 L627.5 223.94 L628.0 224.15 L628.5 224.37 L629.0 224.59 L629.5 224.81 L630.0 225.03 L630.5 225.26 L631.0 225.49 L631.5 225.72 L632.0 225.96 L632.5 226.21 L633.0 226.46 L633.5 226.72 L634.0 226.99 L634.5 227.26 L635.0 227.54 L635.5 227.83 L636.0 228.13 L636.5 228.45 L637.0 228.77 L637.5 229.11 L638.0 229.46 L638.5 229.82 L639.0 230.21 L639.5 230.61 L640.0 231.03 L640.5 231.48 L641.0 231.95 L641.5 232.44 L642.0 232.97 L642.5 233.53 L643.0 234.12 L643.5 234.76 L644.0 235.44 L644.5 236.18 L645.0 236.97 L645.5 237.82 L646.0 238.75 L646.5 239.76 L647.0 240.87 L647.5 242.08 L648.0 243.42 L648.5 244.90 L649.0 246.55 L649.5 248.39 L650.0 250.46 L650.5 252.78 L651.0 255.40 L651.5 258.37 L652.0 261.75 L652.5 265.57 L653.0 269.89 L653.5 274.74 L654.0 280.11 L654.5 285.95 L655.0 292.16 L655.5 298.58 L656.0 305.01 L656.5 311.24 L657.0 317.11 L657.5 322.51 L658.0 327.38 L658.5 331.73 L659.0 335.58 L659.5 338.98 L660.0 341.97 L660.5 344.61 L661.0 346.95 L661.5 349.02 L662.0 350.87 L662.5 352.53 L663.0 354.01 L663.5 355.36 L664.0 356.57 L664.5 357.68 L665.0 358.69 L665.5 359.61 L666.0 360.46 L666.5 361.25 L667.0 361.97 L667.5 362.65 L668.0 363.27 L668.5 363.86 L669.0 364.40 L669.5 364.92 L670.0 365.40 L670.5 365.85 L671.0 366.28 L671.5 366.68 L672.0 367.06 L672.5 367.42 L673.0 367.76 L673.5 368.09 L674.0 368.40 L674.5 368.70 L675.0 368.98 L675.5 369.25 L676.0 369.51 L676.5 369.76 L677.0 369.99 L677.5 370.22 L678.0 370.44 L678.5 370.65 L679.0 370.86 L679.5 371.05 L680.0 371.24 L680.5 371.42 L681.0 371.60 L681.5 371.77 L682.0 371.93 L682.5 372.09 L683.0 372.25 L683.5 372.40 L684.0 372.54 L684.5 372.68 L685.0 372.82 L685.5 372.95 L686.0 373.08 L686.5 373.21 L687.0 373.33 L687.5 373.45 L688.0 373.57 L688.5 373.68 L689.0 373.79 L689.5 373.90 L690.0 374.01 L690.5 374.11 L691.0 374.21 L691.5 374.31 L692.0 374.41 L692.5 374.50 L693.0 374.40 L693.5 374.30 L694.0 374.19 L694.5 374.08 L695.0 373.97 L695.5 373.86 L696.0 373.74 L696.5 373.63 L697.0 373.50 L697.5 373.38 L698.0 373.25 L698.5 373.12 L699.0 372.99 L699.5 372.85 L700.0 372.71 L700.5 372.56 L701.0 372.41 L701.5 372.26 L702.0 372.10 L702.5 371.94 L703.0 371.77 L703.5 371.59 L704.0 371.41 L704.5 371.23 L705.0 371.03 L705.5 370.83 L706.0 370.63 L706.5 370.41 L707.0 370.19 L707.5 369.96 L708.0 369.72 L708.5 369.47 L709.0 369.21 L709.5 368.94 L710.0 368.65 L710.5 368.36 L711.0 368.05 L711.5 367.73 L712.0 367.38 L712.5 367.03 L713.0 366.65 L713.5 366.26 L714.0 365.84 L714.5 365.40 L715.0 364.93 L715.5 364.43 L716.0 363.91 L716.5 363.35 L717.0 362.75 L717.5 362.11 L718.0 361.42 L718.5 360.68 L719.0 359.89 L719.5 359.03 L720.0 358.11 L720.5 357.10 L721.0 356.00 L721.5 354.80 L722.0 353.48 L722.5 352.03 L723.0 350.42 L723.5 348.64 L724.0 346.66 L724.5 344.45 L725.0 341.97 L725.5 339.19 L726.0 336.06 L726.5 332.54 L727.0 328.59 L727.5 324.18 L728.0 319.29 L728.5 313.94 L729.0 308.18 L729.5 302.12 L730.0 295.91 L730.5 289.70 L731.0 283.68 L731.5 277.97 L732.0 272.68 L732.5 267.85 L733.0 263.50 L733.5 259.60 L734.0 256.13 L734.5 253.05 L735.0 250.30 L735.5 247.85 L736.0 245.66 L736.5 243.70 L737.0 241.93 L737.5 240.33 L738.0 238.88 L738.5 237.57 L739.0 236.36 L739.5 235.26 L740.0 234.24 L740.5 233.31 L741.0 232.44 L741.5 231.63 L742.0 230.88 L742.5 230.18 L743.0 229.52 L743.5 228.90 L744.0 228.32 L744.5 227.78 L745.0 227.26 L745.5 226.77 L746.0 226.30 L746.5 225.86 L747.0 225.44 L747.5 225.03 L748.0 224.65 L748.5 224.28 L749.0 223.92 L749.5 223.58 L750.0 223.25 L750.5 222.93 L751.0 222.63 L751.5 222.33 L752.0 222.04 L752.5 221.77 L753.0 221.50 L753.5 221.23 L754.0 220.98 L754.5 220.73 L755.0 220.48 L755.5 220.24 L756.0 220.01 L756.5 219.78 L757.0 219.56 L757.5 219.33 L758.0 219.12 L758.5 218.90 L759.0 218.69 L759.5 218.48 L760.0 218.28 L760.5 218.07 L761.0 217.87 L761.5 217.67 L762.0 217.47 L762.5 217.27 L763.0 217.07 L763.5 216.87 L764.0 216.68 L764.5 216.48 L765.0 216.28 L765.5 216.08 L766.0 215.89 L766.5 215.69 L767.0 215.48 L767.5 215.28 L768.0 215.08 L768.5 214.87 L769.0 214.66 L769.5 214.45 L770.0 214.23 L770.5 214.01 L771.0 213.79 L771.5 213.56 L772.0 213.33 L772.5 213.09 L773.0 212.84 L773.5 212.59 L774.0 212.33 L774.5 212.07 L775.0 211.79 L775.5 211.51 L776.0 211.21 L776.5 210.90 L777.0 210.58 L777.5 210.25 L778.0 209.90 L778.5 209.54 L779.0 209.15 L779.5 208.75 L780.0 208.33 L780.5 207.88 L781.0 207.40 L781.5 206.89 L782.0 206.36 L782.5 205.78 L783.0 205.17 L783.5 204.51 L784.0 203.80 L784.5 203.03 L785.0 202.21 L785.5 201.32 L786.0 200.36 L786.5 199.32 L787.0 198.20 L787.5 196.99 L788.0 195.69 L788.5 194.29 L789.0 192.80 L789.5 191.22 L790.0 189.57 L790.5 187.85 L791.0 186.08 L791.5 184.29 L792.0 182.50 L792.5 180.74 L793.0 179.02 L793.5 177.36 L794.0 175.79 L794.5 174.30 L795.0 172.91 L795.5 171.62 L796.0 170.41 L796.5 169.30 L797.0 168.27 L797.5 167.32 L798.0 166.45 L798.5 165.63 L799.0 164.88 L799.5 164.19 L800.0 163.55 L800.5 162.95 L801.0 162.39 L801.5 161.87 L802.0 161.38 L802.5 160.93 L803.0 160.50 L803.5 160.10 L804.0 159.72 L804.5 159.36 L805.0 159.02 L805.5 158.70 L806.0 158.40 L806.5 158.11 L807.0 157.83 L807.5 157.57 L808.0 157.32 L808.5 157.08 L809.0 156.85 L809.5 156.63 L810.0 156.41 L810.5 156.21 L811.0 156.01 L811.5 155.82 L812.0 155.64 L812.5 155.47 L813.0 155.30 L813.5 155.13 L814.0 154.97 L814.5 154.82 L815.0 154.67 L815.5 154.52 L816.0 154.38 L816.5 154.24 L817.0 154.11 L817.5 153.98 L818.0 153.85 L818.5 153.72 L819.0 153.60 L819.5 153.48 L820.0 153.37 L820.5 153.26 L821.0 153.15 L821.5 153.04 L822.0 152.93 L822.5 152.83 L823.0 152.72 L823.5 152.62 L824.0 152.53 L824.5 152.43 L825.0 152.33 L825.5 152.24 L826.0 152.15 L826.5 152.06 L827.0 151.97 L827.5 151.88 L828.0 151.80 L828.5 151.71 L829.0 151.63 L829.5 151.55 L830.0 151.47 L830.5 151.39 L831.0 151.31 L831.5 151.23 L832.0 151.15 L832.5 151.08 L833.0 151.00 L833.5 150.93 L834.0 150.85 L834.5 150.78 L835.0 150.71 L835.5 150.64 L836.0 150.57 L836.5 150.50 L837.0 150.43 L837.5 150.36 L838.0 150.29 L838.5 150.23 L839.0 150.16 L839.5 150.09 L840.0 150.03 L840.5 149.96 L841.0 149.90 L841.5 149.84 L842.0 149.77 L842.5 149.71 L843.0 149.65 L843.5 149.59 L844.0 149.53 L844.5 149.47 L845.0 149.41 L845.5 149.35 L846.0 149.29 L846.5 149.23 L847.0 149.17 L847.5 149.11 L848.0 149.05 L848.5 148.99 L849.0 148.94 L849.5 148.88 L850.0 148.82 L850.5 148.77 L851.0 148.71 L851.5 148.65 L852.0 148.60 L852.5 148.54 L853.0 148.49 L853.5 148.43 L854.0 148.38 L854.5 148.32 L855.0 148.27 L855.5 148.22 L856.0 148.16 L856.5 148.11 L857.0 148.06 L857.5 148.00 L858.0 147.95 L858.5 147.90 L859.0 147.84 L859.5 147.79 L860.0 147.74 L860.5 147.69 L861.0 147.64 L861.5 147.58 L862.0 147.53 L862.5 147.48 L863.0 147.43 L863.5 147.38 L864.0 147.33 L864.5 147.28 L865.0 147.22 L865.5 147.17 L866.0 147.12 L866.5 147.07 L867.0 147.02 L867.5 146.97 L868.0 146.92 L868.5 146.87 L869.0 146.82 L869.5 146.77 L870.0 146.72 L870.5 146.67 L871.0 146.62 L871.5 146.57 L872.0 146.52 L872.5 146.47 L873.0 146.42 L873.5 146.37 L874.0 146.32 L874.5 146.27 L875.0 146.22 L875.5 146.17 L876.0 146.12 L876.5 146.07 L877.0 146.02 L877.5 145.97 L878.0 145.91 L878.5 145.86 L879.0 145.81 L879.5 145.76 L880.0 145.71 L880.5 145.66 L881.0 145.61 L881.5 145.56 L882.0 145.51 L882.5 145.46 L883.0 145.41 L883.5 145.36 L884.0 145.31 L884.5 145.26 L885.0 145.20 L885.5 145.15 L886.0 145.10 L886.5 145.05 L887.0 145.00 L887.5 144.95 L888.0 144.89 L888.5 144.84 L889.0 144.79 L889.5 144.74 L890.0 144.68 L890.5 144.63 L891.0 144.58 L891.5 144.53 L892.0 144.47 L892.5 144.42 L893.0 144.36 L893.5 144.31 L894.0 144.26 L894.5 144.20 L895.0 144.15 L895.5 144.09 L896.0 144.04 L896.5 143.98 L897.0 143.92 L897.5 143.87 L898.0 143.81 L898.5 143.75 L899.0 143.70 L899.5 143.64 L900.0 143.58 L900.5 143.52 L901.0 143.46 L901.5 143.41 L902.0 143.35 L902.5 143.29 L903.0 143.23 L903.5 143.16 L904.0 143.10 L904.5 143.04 L905.0 142.98 L905.5 142.92 L906.0 142.85 L906.5 142.79 L907.0 142.72 L907.5 142.66 L908.0 142.59 L908.5 142.53 L909.0 142.46 L909.5 142.39 L910.0 142.32 L910.5 142.25 L911.0 142.19 L911.5 142.11 L912.0 142.04 L912.5 141.97 L913.0 141.90 L913.5 141.82 L914.0 141.75 L914.5 141.67 L915.0 141.60 L915.5 141.52 L916.0 141.44 L916.5 141.36 L917.0 141.28 L917.5 141.19 L918.0 141.11 L918.5 141.02 L919.0 140.94 L919.5 140.85 L920.0 140.76 L920.5 140.67 L921.0 140.58 L921.5 140.48 L922.0 140.39 L922.5 140.29 L923.0 140.19 L923.5 140.09 L924.0 139.98 L924.5 139.88 L925.0 139.77 L925.5 139.66 L926.0 139.55 L926.5 139.43 L927.0 139.31 L927.5 139.19 L928.0 139.07 L928.5 138.94 L929.0 138.81 L929.5 138.68 L930.0 138.54 L930.5 138.40 L931.0 138.25" stroke="#fb9f3a"/>
<path d="M454.0 78.06 L454.5 78.11 L455.0 78.16 L455.5 78.21 L456.0 78.26 L456.5 78.31 L457.0 78.36 L457.5 78.40 L458.0 78.45 L458.5 78.50 L459.0 78.54 L459.5 78.58 L460.0 78.63 L460.5 78.67 L461.0 78.71 L461.5 78.76 L462.0 78.80 L462.5 78.84 L463.0 78.88 L463.5 78.92 L464.0 78.96 L464.5 79.00 L465.0 79.04 L465.5 79.07 L466.0 79.11 L466.5 79.15 L467.0 79.19 L467.5 79.22 L468.0 79.26 L468.5 79.30 L469.0 79.33 L469.5 79.37 L470.0 79.40 L470.5 79.44 L471.0 79.47 L471.5 79.51 L472.0 79.54 L472.5 79.57 L473.0 79.61 L473.5 79.64 L474.0 79.67 L474.5 79.71 L475.0 79.74 L475.5 79.77 L476.0 79.81 L476.5 79.84 L477.0 79.87 L477.5 79.90 L478.0 79.93 L478.5 79.97 L479.0 80.00 L479.5 80.03 L480.0 80.06 L480.5 80.09 L481.0 80.12 L481.5 80.15 L482.0 80.18 L482.5 80.22 L483.0 80.25 L483.5 80.28 L484.0 80.31 L484.5 80.34 L485.0 80.37 L485.5 80.40 L486.0 80.43 L486.5 80.46 L487.0 80.49 L487.5 80.52 L488.0 80.55 L488.5 80.58 L489.0 80.61 L489.5 80.64 L490.0 80.67 L490.5 80.70 L491.0 80.73 L491.5 80.76 L492.0 80.80 L492.5 80.83 L493.0 80.86 L493.5 80.89 L494.0 80.92 L494.5 80.95 L495.0 80.98 L495.5 81.01 L496.0 81.04 L496.5 81.07 L497.0 81.10 L497.5 81.13 L498.0 81.17 L498.5 81.20 L499.0 81.23 L499.5 81.26 L500.0 81.29 L500.5 81.32 L501.0 81.36 L501.5 81.39 L502.0 81.42 L502.5 81.45 L503.0 81.48 L503.5 81.52 L504.0 81.55 L504.5 81.58 L505.0 81.62 L505.5 81.65 L506.0 81.68 L506.5 81.72 L507.0 81.75 L507.5 81.78 L508.0 81.82 L508.5 81.85 L509.0 81.89 L509.5 81.92 L510.0 81.96 L510.5 81.99 L511.0 82.03 L511.5 82.07 L512.0 82.10 L512.5 82.14 L513.0 82.18 L513.5 82.21 L514.0 82.25 L514.5 82.29 L515.0 82.33 L515.5 82.37 L516.0 82.40 L516.5 82.44 L517.0 82.48 L517.5 82.52 L518.0 82.56 L518.5 82.60 L519.0 82.65 L519.5 82.69 L520.0 82.73 L520.5 82.77 L521.0 82.81 L521.5 82.86 L522.0 82.90 L522.5 82.95 L523.0 82.99 L523.5 83.04 L524.0 83.08 L524.5 83.13 L525.0 83.18 L525.5 83.22 L526.0 83.27 L526.5 83.32 L527.0 83.37 L527.5 83.42 L528.0 83.47 L528.5 83.52 L529.0 83.57 L529.5 83.63 L530.0 83.68 L530.5 83.73 L531.0 83.79 L531.5 83.85 L532.0 83.90 L532.5 83.96 L533.0 84.02 L533.5 84.08 L534.0 84.14 L534.5 84.20 L535.0 84.26 L535.5 84.32 L536.0 84.39 L536.5 84.45 L537.0 84.52 L537.5 84.59 L538.0 84.66 L538.5 84.73 L539.0 84.80 L539.5 84.87 L540.0 84.95 L540.5 85.02 L541.0 85.10 L541.5 85.18 L542.0 85.26 L542.5 85.34 L543.0 85.42 L543.5 85.51 L544.0 85.59 L544.5 85.68 L545.0 85.77 L545.5 85.86 L546.0 85.96 L546.5 86.06 L547.0 86.15 L547.5 86.26 L548.0 86.36 L548.5 86.47 L549.0 86.57 L549.5 86.68 L550.0 86.80 L550.5 86.92 L551.0 87.04 L551.5 87.16 L552.0 87.29 L552.5 87.42 L553.0 87.55 L553.5 87.69 L554.0 87.83 L554.5 87.97 L555.0 88.12 L555.5 88.28 L556.0 88.44 L556.5 88.60 L557.0 88.77 L557.5 88.95 L558.0 89.13 L558.5 89.31 L559.0 89.51 L559.5 89.71 L560.0 89.91 L560.5 90.13 L561.0 90.35 L561.5 90.58 L562.0 90.82 L562.5 91.07 L563.0 91.33 L563.5 91.61 L564.0 91.89 L564.5 92.18 L565.0 92.49 L565.5 92.81 L566.0 93.15 L566.5 93.50 L567.0 93.87 L567.5 94.26 L568.0 94.67 L568.5 95.10 L569.0 95.56 L569.5 96.03 L570.0 96.54 L570.5 97.07 L571.0 97.64 L571.5 98.24 L572.0 98.88 L572.5 99.56 L573.0 100.29 L573.5 101.06 L574.0 101.89 L574.5 102.78 L575.0 103.73 L575.5 104.75 L576.0 105.85 L576.5 107.04 L577.0 108.32 L577.5 109.71 L578.0 111.21 L578.5 112.83 L579.0 114.58 L579.5 116.48 L580.0 118.53 L580.5 120.73 L581.0 123.11 L581.5 125.64 L582.0 128.34 L582.5 131.19 L583.0 134.18 L583.5 137.27 L584.0 140.44 L584.5 143.65 L585.0 146.86 L585.5 150.03 L586.0 153.12 L586.5 156.11 L587.0 158.96 L587.5 161.66 L588.0 164.21 L588.5 166.58 L589.0 168.80 L589.5 170.85 L590.0 172.75 L590.5 174.51 L591.0 176.14 L591.5 177.65 L592.0 179.04 L592.5 180.33 L593.0 181.53 L593.5 182.64 L594.0 183.67 L594.5 184.64 L595.0 185.54 L595.5 186.38 L596.0 187.17 L596.5 187.91 L597.0 188.60 L597.5 189.26 L598.0 189.87 L598.5 190.46 L599.0 191.01 L599.5 191.53 L600.0 192.03 L600.5 192.50 L601.0 192.95 L601.5 193.38 L602.0 193.80 L602.5 194.19 L603.0 194.57 L603.5 194.93 L604.0 195.27 L604.5 195.61 L605.0 195.93 L605.5 196.24 L606.0 196.54 L606.5 196.83 L607.0 197.11 L607.5 197.39 L608.0 197.65 L608.5 197.91 L609.0 198.16 L609.5 198.40 L610.0 198.64 L610.5 198.87 L611.0 199.10 L611.5 199.32 L612.0 199.54 L612.5 199.76 L613.0 199.97 L613.5 200.17 L614.0 200.37 L614.5 200.57 L615.0 200.77 L615.5 200.97 L616.0 201.16 L616.5 201.35 L617.0 201.54 L617.5 201.72 L618.0 201.91 L618.5 202.10 L619.0 202.28 L619.5 202.46 L620.0 202.64 L620.5 202.83 L621.0 203.01 L621.5 203.19 L622.0 203.37 L622.5 203.56 L623.0 203.74 L623.5 203.93 L624.0 204.11 L624.5 204.30 L625.0 204.49 L625.5 204.68 L626.0 204.87 L626.5 205.07 L627.0 205.26 L627.5 205.46 L628.0 205.67 L628.5 205.88 L629.0 206.09 L629.5 206.30 L630.0 206.52 L630.5 206.75 L631.0 206.98 L631.5 207.21 L632.0 207.45 L632.5 207.70 L633.0 207.96 L633.5 208.22 L634.0 208.49 L634.5 208.77 L635.0 209.06 L635.5 209.37 L636.0 209.68 L636.5 210.00 L637.0 210.34 L637.5 210.70 L638.0 211.07 L638.5 211.45 L639.0 211.86 L639.5 212.28 L640.0 212.73 L640.5 213.21 L641.0 213.71 L641.5 214.24 L642.0 214.80 L642.5 215.40 L643.0 216.04 L643.5 216.73 L644.0 217.46 L644.5 218.25 L645.0 219.11 L645.5 220.03 L646.0 221.04 L646.5 222.13 L647.0 223.33 L647.5 224.65 L648.0 226.11 L648.5 227.72 L649.0 229.52 L649.5 231.53 L650.0 233.79 L650.5 236.34 L651.0 239.23 L651.5 242.51 L652.0 246.25 L652.5 250.50 L653.0 255.34 L653.5 260.80 L654.0 266.90 L654.5 273.58 L655.0 280.74 L655.5 288.19 L656.0 295.67 L656.5 302.95 L657.0 309.81 L657.5 316.11 L658.0 321.79 L658.5 326.83 L659.0 331.27 L659.5 335.17 L660.0 338.59 L660.5 341.60 L661.0 344.25 L661.5 346.60 L662.0 348.69 L662.5 350.54 L663.0 352.21 L663.5 353.71 L664.0 355.07 L664.5 356.30 L665.0 357.42 L665.5 358.45 L666.0 359.39 L666.5 360.25 L667.0 361.05 L667.5 361.79 L668.0 362.48 L668.5 363.12 L669.0 363.72 L669.5 364.28 L670.0 364.81 L670.5 365.30 L671.0 365.76 L671.5 366.20 L672.0 366.61 L672.5 367.01 L673.0 367.38 L673.5 367.73 L674.0 368.06 L674.5 368.38 L675.0 368.69 L675.5 368.98 L676.0 369.26 L676.5 369.52 L677.0 369.77 L677.5 370.02 L678.0 370.25 L678.5 370.48 L679.0 370.69 L679.5 370.90 L680.0 371.10 L680.5 371.29 L681.0 371.48 L681.5 371.66 L682.0 371.83 L682.5 372.00 L683.0 372.16 L683.5 372.32 L684.0 372.47 L684.5 372.62 L685.0 372.76 L685.5 372.90 L686.0 373.04 L686.5 373.17 L687.0 373.30 L687.5 373.42 L688.0 373.54 L688.5 373.66 L689.0 373.77 L689.5 373.89 L690.0 373.99 L690.5 374.10 L691.0 374.20 L691.5 374.31 L692.0 374.40 L692.5 374.50 L693.0 374.39 L693.5 374.29 L694.0 374.17 L694.5 374.06 L695.0 373.94 L695.5 373.82 L696.0 373.70 L696.5 373.58 L697.0 373.45 L697.5 373.31 L698.0 373.18 L698.5 373.04 L699.0 372.89 L699.5 372.74 L700.0 372.59 L700.5 372.43 L701.0 372.27 L701.5 372.10 L702.0 371.93 L702.5 371.75 L703.0 371.56 L703.5 371.37 L704.0 371.17 L704.5 370.97 L705.0 370.75 L705.5 370.53 L706.0 370.30 L706.5 370.07 L707.0 369.82 L707.5 369.56 L708.0 369.29 L708.5 369.01 L709.0 368.72 L709.5 368.42 L710.0 368.10 L710.5 367.77 L711.0 367.42 L711.5 367.05 L712.0 366.66 L712.5 366.26 L713.0 365.83 L713.5 365.38 L714.0 364.90 L714.5 364.40 L715.0 363.87 L715.5 363.30 L716.0 362.70 L716.5 362.05 L717.0 361.36 L717.5 360.63 L718.0 359.84 L718.5 358.99 L719.0 358.08 L719.5 357.09 L720.0 356.01 L720.5 354.84 L721.0 353.57 L721.5 352.18 L722.0 350.65 L722.5 348.96 L723.0 347.10 L723.5 345.03 L724.0 342.72 L724.5 340.15 L725.0 337.26 L725.5 334.02 L726.0 330.37 L726.5 326.26 L727.0 321.65 L727.5 316.49 L728.0 310.77 L728.5 304.50 L729.0 297.74 L729.5 290.63 L730.0 283.31 L730.5 276.00 L731.0 268.89 L731.5 262.15 L732.0 255.90 L732.5 250.19 L733.0 245.04 L733.5 240.43 L734.0 236.33 L734.5 232.68 L735.0 229.44 L735.5 226.55 L736.0 223.96 L736.5 221.65 L737.0 219.57 L737.5 217.69 L738.0 215.98 L738.5 214.44 L739.0 213.02 L739.5 211.73 L740.0 210.54 L740.5 209.44 L741.0 208.43 L741.5 207.49 L742.0 206.61 L742.5 205.80 L743.0 205.04 L743.5 204.32 L744.0 203.65 L744.5 203.01 L745.0 202.42 L745.5 201.85 L746.0 201.32 L746.5 200.81 L747.0 200.33 L747.5 199.87 L748.0 199.43 L748.5 199.01 L749.0 198.61 L749.5 198.22 L750.0 197.85 L750.5 197.50 L751.0 197.15 L751.5 196.82 L752.0 196.51 L752.5 196.20 L753.0 195.90 L753.5 195.61 L754.0 195.33 L754.5 195.06 L755.0 194.80 L755.5 194.54 L756.0 194.29 L756.5 194.05 L757.0 193.81 L757.5 193.58 L758.0 193.36 L758.5 193.13 L759.0 192.92 L759.5 192.70 L760.0 192.49 L760.5 192.29 L761.0 192.09 L761.5 191.89 L762.0 191.69 L762.5 191.50 L763.0 191.31 L763.5 191.12 L764.0 190.93 L764.5 190.75 L765.0 190.57 L765.5 190.39 L766.0 190.21 L766.5 190.03 L767.0 189.85 L767.5 189.68 L768.0 189.50 L768.5 189.33 L769.0 189.15 L769.5 188.98 L770.0 188.80 L770.5 188.63 L771.0 188.45 L771.5 188.28 L772.0 188.10 L772.5 187.93 L773.0 187.75 L773.5 187.57 L774.0 187.39 L774.5 187.21 L775.0 187.03 L775.5 186.84 L776.0 186.66 L776.5 186.47 L777.0 186.27 L777.5 186.08 L778.0 185.88 L778.5 185.68 L779.0 185.47 L779.5 185.26 L780.0 185.04 L780.5 184.82 L781.0 184.60 L781.5 184.36 L782.0 184.13 L782.5 183.88 L783.0 183.62 L783.5 183.36 L784.0 183.09 L784.5 182.81 L785.0 182.51 L785.5 182.21 L786.0 181.89 L786.5 181.56 L787.0 181.21 L787.5 180.84 L788.0 180.46 L788.5 180.05 L789.0 179.62 L789.5 179.17 L790.0 178.69 L790.5 178.17 L791.0 177.63 L791.5 177.04 L792.0 176.42 L792.5 175.75 L793.0 175.02 L793.5 174.24 L794.0 173.40 L794.5 172.49 L795.0 171.51 L795.5 170.45 L796.0 169.29 L796.5 168.05 L797.0 166.70 L797.5 165.26 L798.0 163.72 L798.5 162.09 L799.0 160.37 L799.5 158.59 L800.0 156.75 L800.5 154.89 L801.0 153.04 L801.5 151.20 L802.0 149.42 L802.5 147.71 L803.0 146.08 L803.5 144.54 L804.0 143.10 L804.5 141.76 L805.0 140.52 L805.5 139.38 L806.0 138.32 L806.5 137.34 L807.0 136.44 L807.5 135.61 L808.0 134.84 L808.5 134.13 L809.0 133.47 L809.5 132.86 L810.0 132.29 L810.5 131.76 L811.0 131.26 L811.5 130.79 L812.0 130.36 L812.5 129.95 L813.0 129.56 L813.5 129.19 L814.0 128.85 L814.5 128.52 L815.0 128.21 L815.5 127.91 L816.0 127.63 L816.5 127.36 L817.0 127.10 L817.5 126.86 L818.0 126.62 L818.5 126.40 L819.0 126.18 L819.5 125.97 L820.0 125.77 L820.5 125.58 L821.0 125.39 L821.5 125.21 L822.0 125.03 L822.5 124.86 L823.0 124.70 L823.5 124.54 L824.0 124.39 L824.5 124.24 L825.0 124.09 L825.5 123.95 L826.0 123.81 L826.5 123.68 L827.0 123.55 L827.5 123.42 L828.0 123.29 L828.5 123.17 L829.0 123.05 L829.5 122.93 L830.0 122.82 L830.5 122.71 L831.0 122.60 L831.5 122.49 L832.0 122.38 L832.5 122.28 L833.0 122.18 L833.5 122.08 L834.0 121.98 L834.5 121.88 L835.0 121.79 L835.5 121.69 L836.0 121.60 L836.5 121.51 L837.0 121.42 L837.5 121.33 L838.0 121.25 L838.5 121.16 L839.0 121.08 L839.5 120.99 L840.0 120.91 L840.5 120.83 L841.0 120.75 L841.5 120.67 L842.0 120.59 L842.5 120.51 L843.0 120.44 L843.5 120.36 L844.0 120.29 L844.5 120.21 L845.0 120.14 L845.5 120.07 L846.0 119.99 L846.5 119.92 L847.0 119.85 L847.5 119.78 L848.0 119.71 L848.5 119.64 L849.0 119.57 L849.5 119.51 L850.0 119.44 L850.5 119.37 L851.0 119.31 L851.5 119.24 L852.0 119.18 L852.5 119.11 L853.0 119.05 L853.5 118.98 L854.0 118.92 L854.5 118.86 L855.0 118.80 L855.5 118.73 L856.0 118.67 L856.5 118.61 L857.0 118.55 L857.5 118.49 L858.0 118.43 L858.5 118.37 L859.0 118.31 L859.5 118.25 L860.0 118.19 L860.5 118.13 L861.0 118.07 L861.5 118.02 L862.0 117.96 L862.5 117.90 L863.0 117.84 L863.5 117.79 L864.0 117.73 L864.5 117.67 L865.0 117.62 L865.5 117.56 L866.0 117.50 L866.5 117.45 L867.0 117.39 L867.5 117.34 L868.0 117.28 L868.5 117.23 L869.0 117.17 L869.5 117.12 L870.0 117.06 L870.5 117.01 L871.0 116.96 L871.5 116.90 L872.0 116.85 L872.5 116.79 L873.0 116.74 L873.5 116.69 L874.0 116.63 L874.5 116.58 L875.0 116.53 L875.5 116.47 L876.0 116.42 L876.5 116.37 L877.0 116.32 L877.5 116.26 L878.0 116.21 L878.5 116.16 L879.0 116.11 L879.5 116.05 L880.0 116.00 L880.5 115.95 L881.0 115.90 L881.5 115.85 L882.0 115.79 L882.5 115.74 L883.0 115.69 L883.5 115.64 L884.0 115.59 L884.5 115.54 L885.0 115.48 L885.5 115.43 L886.0 115.38 L886.5 115.33 L887.0 115.28 L887.5 115.23 L888.0 115.17 L888.5 115.12 L889.0 115.07 L889.5 115.02 L890.0 114.97 L890.5 114.92 L891.0 114.86 L891.5 114.81 L892.0 114.76 L892.5 114.71 L893.0 114.66 L893.5 114.61 L894.0 114.55 L894.5 114.50 L895.0 114.45 L895.5 114.40 L896.0 114.35 L896.5 114.29 L897.0 114.24 L897.5 114.19 L898.0 114.14 L898.5 114.08 L899.0 114.03 L899.5 113.98 L900.0 113.93 L900.5 113.87 L901.0 113.82 L901.5 113.77 L902.0 113.72 L902.5 113.66 L903.0 113.61 L903.5 113.56 L904.0 113.50 L904.5 113.45 L905.0 113.39 L905.5 113.34 L906.0 113.29 L906.5 113.23 L907.0 113.18 L907.5 113.12 L908.0 113.07 L908.5 113.01 L909.0 112.96 L909.5 112.90 L910.0 112.84 L910.5 112.79 L911.0 112.73 L911.5 112.67 L912.0 112.62 L912.5 112.56 L913.0 112.50 L913.5 112.45 L914.0 112.39 L914.5 112.33 L915.0 112.27 L915.5 112.21 L916.0 112.15 L916.5 112.09 L917.0 112.03 L917.5 111.97 L918.0 111.91 L918.5 111.85 L919.0 111.79 L919.5 111.73 L920.0 111.67 L920.5 111.60 L921.0 111.54 L921.5 111.48 L922.0 111.41 L922.5 111.35 L923.0 111.28 L923.5 111.22 L924.0 111.15 L924.5 111.09 L925.0 111.02 L925.5 110.95 L926.0 110.88 L926.5 110.81 L927.0 110.74 L927.5 110.67 L928.0 110.60 L928.5 110.53 L929.0 110.46 L929.5 110.38 L930.0 110.31 L930.5 110.23 L931.0 110.16" stroke="#fdca26"/>
<path d="M454.0 36.56 L454.5 36.59 L455.0 36.62 L455.5 36.64 L456.0 36.67 L456.5 36.69 L457.0 36.72 L457.5 36.74 L458.0 36.77 L458.5 36.80 L459.0 36.82 L459.5 36.85 L460.0 36.87 L460.5 36.90 L461.0 36.92 L461.5 36.95 L462.0 36.97 L462.5 37.00 L463.0 37.03 L463.5 37.05 L464.0 37.08 L464.5 37.10 L465.0 37.13 L465.5 37.15 L466.0 37.18 L466.5 37.21 L467.0 37.23 L467.5 37.26 L468.0 37.28 L468.5 37.31 L469.0 37.34 L469.5 37.36 L470.0 37.39 L470.5 37.42 L471.0 37.44 L471.5 37.47 L472.0 37.50 L472.5 37.52 L473.0 37.55 L473.5 37.58 L474.0 37.60 L474.5 37.63 L475.0 37.66 L475.5 37.69 L476.0 37.71 L476.5 37.74 L477.0 37.77 L477.5 37.80 L478.0 37.83 L478.5 37.85 L479.0 37.88 L479.5 37.91 L480.0 37.94 L480.5 37.97 L481.0 38.00 L481.5 38.03 L482.0 38.06 L482.5 38.09 L483.0 38.12 L483.5 38.15 L484.0 38.18 L484.5 38.21 L485.0 38.24 L485.5 38.27 L486.0 38.30 L486.5 38.33 L487.0 38.36 L487.5 38.40 L488.0 38.43 L488.5 38.46 L489.0 38.49 L489.5 38.53 L490.0 38.56 L490.5 38.59 L491.0 38.63 L491.5 38.66 L492.0 38.70 L492.5 38.73 L493.0 38.77 L493.5 38.80 L494.0 38.84 L494.5 38.87 L495.0 38.91 L495.5 38.95 L496.0 38.99 L496.5 39.02 L497.0 39.06 L497.5 39.10 L498.0 39.14 L498.5 39.18 L499.0 39.22 L499.5 39.26 L500.0 39.30 L500.5 39.34 L501.0 39.38 L501.5 39.42 L502.0 39.46 L502.5 39.51 L503.0 39.55 L503.5 39.59 L504.0 39.64 L504.5 39.68 L505.0 39.73 L505.5 39.78 L506.0 39.82 L506.5 39.87 L507.0 39.92 L507.5 39.97 L508.0 40.02 L508.5 40.07 L509.0 40.12 L509.5 40.17 L510.0 40.22 L510.5 40.27 L511.0 40.33 L511.5 40.38 L512.0 40.44 L512.5 40.49 L513.0 40.55 L513.5 40.61 L514.0 40.67 L514.5 40.73 L515.0 40.79 L515.5 40.85 L516.0 40.91 L516.5 40.97 L517.0 41.04 L517.5 41.10 L518.0 41.17 L518.5 41.24 L519.0 41.31 L519.5 41.38 L520.0 41.45 L520.5 41.52 L521.0 41.60 L521.5 41.67 L522.0 41.75 L522.5 41.83 L523.0 41.91 L523.5 41.99 L524.0 42.07 L524.5 42.15 L525.0 42.24 L525.5 42.33 L526.0 42.42 L526.5 42.51 L527.0 42.60 L527.5 42.70 L528.0 42.80 L528.5 42.90 L529.0 43.00 L529.5 43.10 L530.0 43.21 L530.5 43.32 L531.0 43.43 L531.5 43.55 L532.0 43.66 L532.5 43.78 L533.0 43.91 L533.5 44.03 L534.0 44.16 L534.5 44.29 L535.0 44.43 L535.5 44.57 L536.0 44.71 L536.5 44.86 L537.0 45.01 L537.5 45.17 L538.0 45.33 L538.5 45.50 L539.0 45.67 L539.5 45.84 L540.0 46.02 L540.5 46.21 L541.0 46.40 L541.5 46.60 L542.0 46.81 L542.5 47.02 L543.0 47.24 L543.5 47.47 L544.0 47.70 L544.5 47.95 L545.0 48.20 L545.5 48.46 L546.0 48.74 L546.5 49.02 L547.0 49.32 L547.5 49.62 L548.0 49.94 L548.5 50.28 L549.0 50.62 L549.5 50.99 L550.0 51.37 L550.5 51.76 L551.0 52.18 L551.5 52.62 L552.0 53.08 L552.5 53.56 L553.0 54.06 L553.5 54.60 L554.0 55.16 L554.5 55.75 L555.0 56.38 L555.5 57.04 L556.0 57.75 L556.5 58.49 L557.0 59.29 L557.5 60.13 L558.0 61.03 L558.5 62.00 L559.0 63.02 L559.5 64.12 L560.0 65.30 L560.5 66.57 L561.0 67.93 L561.5 69.40 L562.0 70.97 L562.5 72.67 L563.0 74.50 L563.5 76.48 L564.0 78.60 L564.5 80.89 L565.0 83.34 L565.5 85.97 L566.0 88.77 L566.5 91.74 L567.0 94.88 L567.5 98.15 L568.0 101.55 L568.5 105.04 L569.0 108.58 L569.5 112.14 L570.0 115.68 L570.5 119.15 L571.0 122.53 L571.5 125.79 L572.0 128.89 L572.5 131.84 L573.0 134.61 L573.5 137.21 L574.0 139.64 L574.5 141.90 L575.0 144.00 L575.5 145.96 L576.0 147.77 L576.5 149.45 L577.0 151.01 L577.5 152.46 L578.0 153.81 L578.5 155.07 L579.0 156.24 L579.5 157.34 L580.0 158.36 L580.5 159.32 L581.0 160.22 L581.5 161.07 L582.0 161.86 L582.5 162.61 L583.0 163.32 L583.5 163.98 L584.0 164.62 L584.5 165.21 L585.0 165.78 L585.5 166.32 L586.0 166.84 L586.5 167.33 L587.0 167.80 L587.5 168.24 L588.0 168.67 L588.5 169.08 L589.0 169.47 L589.5 169.85 L590.0 170.21 L590.5 170.56 L591.0 170.89 L591.5 171.21 L592.0 171.52 L592.5 171.82 L593.0 172.12 L593.5 172.40 L594.0 172.67 L594.5 172.93 L595.0 173.19 L595.5 173.44 L596.0 173.68 L596.5 173.91 L597.0 174.14 L597.5 174.36 L598.0 174.58 L598.5 174.79 L599.0 175.00 L599.5 175.20 L600.0 175.40 L600.5 175.59 L601.0 175.78 L601.5 175.97 L602.0 176.15 L602.5 176.33 L603.0 176.50 L603.5 176.68 L604.0 176.85 L604.5 177.01 L605.0 177.18 L605.5 177.34 L606.0 177.50 L606.5 177.66 L607.0 177.82 L607.5 177.97 L608.0 178.13 L608.5 178.28 L609.0 178.43 L609.5 178.58 L610.0 178.73 L610.5 178.88 L611.0 179.02 L611.5 179.17 L612.0 179.32 L612.5 179.46 L613.0 179.61 L613.5 179.75 L614.0 179.90 L614.5 180.04 L615.0 180.18 L615.5 180.33 L616.0 180.47 L616.5 180.62 L617.0 180.76 L617.5 180.91 L618.0 181.06 L618.5 181.21 L619.0 181.35 L619.5 181.50 L620.0 181.66 L620.5 181.81 L621.0 181.96 L621.5 182.12 L622.0 182.28 L622.5 182.44 L623.0 182.60 L623.5 182.76 L624.0 182.93 L624.5 183.10 L625.0 183.27 L625.5 183.45 L626.0 183.63 L626.5 183.81 L627.0 184.00 L627.5 184.19 L628.0 184.38 L628.5 184.58 L629.0 184.79 L629.5 185.00 L630.0 185.21 L630.5 185.43 L631.0 185.66 L631.5 185.90 L632.0 186.14 L632.5 186.39 L633.0 186.65 L633.5 186.92 L634.0 187.19 L634.5 187.48 L635.0 187.78 L635.5 188.09 L636.0 188.42 L636.5 188.76 L637.0 189.11 L637.5 189.48 L638.0 189.87 L638.5 190.27 L639.0 190.70 L639.5 191.15 L640.0 191.63 L640.5 192.13 L641.0 192.67 L641.5 193.23 L642.0 193.83 L642.5 194.48 L643.0 195.16 L643.5 195.90 L644.0 196.69 L644.5 197.54 L645.0 198.47 L645.5 199.47 L646.0 200.55 L646.5 201.74 L647.0 203.05 L647.5 204.48 L648.0 206.06 L648.5 207.82 L649.0 209.78 L649.5 211.98 L650.0 214.45 L650.5 217.25 L651.0 220.43 L651.5 224.05 L652.0 228.20 L652.5 232.94 L653.0 238.35 L653.5 244.51 L654.0 251.44 L654.5 259.09 L655.0 267.36 L655.5 276.01 L656.0 284.77 L656.5 293.30 L657.0 301.35 L657.5 308.73 L658.0 315.35 L658.5 321.21 L659.0 326.36 L659.5 330.85 L660.0 334.78 L660.5 338.21 L661.0 341.23 L661.5 343.89 L662.0 346.25 L662.5 348.34 L663.0 350.21 L663.5 351.89 L664.0 353.41 L664.5 354.78 L665.0 356.03 L665.5 357.17 L666.0 358.21 L666.5 359.17 L667.0 360.05 L667.5 360.87 L668.0 361.62 L668.5 362.33 L669.0 362.98 L669.5 363.59 L670.0 364.17 L670.5 364.71 L671.0 365.21 L671.5 365.69 L672.0 366.14 L672.5 366.56 L673.0 366.96 L673.5 367.35 L674.0 367.71 L674.5 368.05 L675.0 368.38 L675.5 368.69 L676.0 368.99 L676.5 369.27 L677.0 369.55 L677.5 369.81 L678.0 370.06 L678.5 370.29 L679.0 370.52 L679.5 370.75 L680.0 370.96 L680.5 371.16 L681.0 371.36 L681.5 371.55 L682.0 371.73 L682.5 371.91 L683.0 372.08 L683.5 372.24 L684.0 372.40 L684.5 372.56 L685.0 372.71 L685.5 372.85 L686.0 372.99 L686.5 373.13 L687.0 373.26 L687.5 373.39 L688.0 373.52 L688.5 373.64 L689.0 373.76 L689.5 373.87 L690.0 373.98 L690.5 374.09 L691.0 374.20 L691.5 374.30 L692.0 374.40 L692.5 374.50 L693.0 374.39 L693.5 374.28 L694.0 374.16 L694.5 374.04 L695.0 373.92 L695.5 373.79 L696.0 373.66 L696.5 373.53 L697.0 373.39 L697.5 373.25 L698.0 373.11 L698.5 372.96 L699.0 372.81 L699.5 372.65 L700.0 372.48 L700.5 372.31 L701.0 372.14 L701.5 371.96 L702.0 371.77 L702.5 371.58 L703.0 371.38 L703.5 371.17 L704.0 370.96 L704.5 370.73 L705.0 370.50 L705.5 370.26 L706.0 370.01 L706.5 369.75 L707.0 369.48 L707.5 369.20 L708.0 368.91 L708.5 368.60 L709.0 368.28 L709.5 367.94 L710.0 367.59 L710.5 367.22 L711.0 366.84 L711.5 366.43 L712.0 366.00 L712.5 365.55 L713.0 365.08 L713.5 364.58 L714.0 364.05 L714.5 363.48 L715.0 362.89 L715.5 362.25 L716.0 361.58 L716.5 360.86 L717.0 360.09 L717.5 359.26 L718.0 358.37 L718.5 357.42 L719.0 356.39 L719.5 355.27 L720.0 354.07 L720.5 352.75 L721.0 351.31 L721.5 349.74 L722.0 348.01 L722.5 346.11 L723.0 344.00 L723.5 341.66 L724.0 339.05 L724.5 336.13 L725.0 332.86 L725.5 329.19 L726.0 325.05 L726.5 320.39 L727.0 315.15 L727.5 309.29 L728.0 302.79 L728.5 295.65 L729.0 287.96 L729.5 279.83 L730.0 271.47 L730.5 263.11 L731.0 254.96 L731.5 247.22 L732.0 240.04 L732.5 233.48 L733.0 227.57 L733.5 222.27 L734.0 217.56 L734.5 213.37 L735.0 209.64 L735.5 206.33 L736.0 203.36 L736.5 200.71 L737.0 198.32 L737.5 196.17 L738.0 194.22 L738.5 192.45 L739.0 190.84 L739.5 189.36 L740.0 188.01 L740.5 186.76 L741.0 185.60 L741.5 184.53 L742.0 183.54 L742.5 182.61 L743.0 181.74 L743.5 180.93 L744.0 180.17 L744.5 179.46 L745.0 178.78 L745.5 178.14 L746.0 177.54 L746.5 176.97 L747.0 176.43 L747.5 175.91 L748.0 175.42 L748.5 174.95 L749.0 174.50 L749.5 174.08 L750.0 173.67 L750.5 173.27 L751.0 172.89 L751.5 172.53 L752.0 172.18 L752.5 171.84 L753.0 171.52 L753.5 171.20 L754.0 170.90 L754.5 170.60 L755.0 170.32 L755.5 170.04 L756.0 169.77 L756.5 169.51 L757.0 169.26 L757.5 169.01 L758.0 168.77 L758.5 168.54 L759.0 168.31 L759.5 168.09 L760.0 167.87 L760.5 167.66 L761.0 167.45 L761.5 167.24 L762.0 167.04 L762.5 166.85 L763.0 166.66 L763.5 166.47 L764.0 166.28 L764.5 166.10 L765.0 165.92 L765.5 165.74 L766.0 165.57 L766.5 165.40 L767.0 165.23 L767.5 165.06 L768.0 164.90 L768.5 164.74 L769.0 164.58 L769.5 164.42 L770.0 164.26 L770.5 164.11 L771.0 163.95 L771.5 163.80 L772.0 163.65 L772.5 163.50 L773.0 163.35 L773.5 163.20 L774.0 163.05 L774.5 162.91 L775.0 162.76 L775.5 162.62 L776.0 162.47 L776.5 162.33 L777.0 162.18 L777.5 162.04 L778.0 161.90 L778.5 161.75 L779.0 161.61 L779.5 161.47 L780.0 161.32 L780.5 161.18 L781.0 161.04 L781.5 160.89 L782.0 160.75 L782.5 160.60 L783.0 160.46 L783.5 160.31 L784.0 160.16 L784.5 160.01 L785.0 159.86 L785.5 159.71 L786.0 159.56 L786.5 159.41 L787.0 159.25 L787.5 159.09 L788.0 158.93 L788.5 158.77 L789.0 158.61 L789.5 158.44 L790.0 158.27 L790.5 158.10 L791.0 157.93 L791.5 157.75 L792.0 157.57 L792.5 157.38 L793.0 157.19 L793.5 157.00 L794.0 156.80 L794.5 156.60 L795.0 156.39 L795.5 156.18 L796.0 155.96 L796.5 155.73 L797.0 155.50 L797.5 155.26 L798.0 155.01 L798.5 154.75 L799.0 154.48 L799.5 154.21 L800.0 153.92 L800.5 153.62 L801.0 153.30 L801.5 152.98 L802.0 152.63 L802.5 152.27 L803.0 151.90 L803.5 151.50 L804.0 151.08 L804.5 150.64 L805.0 150.17 L805.5 149.67 L806.0 149.14 L806.5 148.57 L807.0 147.97 L807.5 147.33 L808.0 146.63 L808.5 145.89 L809.0 145.08 L809.5 144.22 L810.0 143.28 L810.5 142.26 L811.0 141.16 L811.5 139.96 L812.0 138.66 L812.5 137.25 L813.0 135.73 L813.5 134.09 L814.0 132.33 L814.5 130.45 L815.0 128.46 L815.5 126.39 L816.0 124.24 L816.5 122.04 L817.0 119.84 L817.5 117.65 L818.0 115.51 L818.5 113.44 L819.0 111.47 L819.5 109.61 L820.0 107.86 L820.5 106.24 L821.0 104.73 L821.5 103.34 L822.0 102.06 L822.5 100.88 L823.0 99.79 L823.5 98.79 L824.0 97.87 L824.5 97.01 L825.0 96.23 L825.5 95.49 L826.0 94.81 L826.5 94.18 L827.0 93.59 L827.5 93.04 L828.0 92.53 L828.5 92.04 L829.0 91.59 L829.5 91.16 L830.0 90.75 L830.5 90.37 L831.0 90.01 L831.5 89.66 L832.0 89.34 L832.5 89.03 L833.0 88.73 L833.5 88.45 L834.0 88.17 L834.5 87.92 L835.0 87.67 L835.5 87.43 L836.0 87.20 L836.5 86.98 L837.0 86.76 L837.5 86.56 L838.0 86.36 L838.5 86.17 L839.0 85.98 L839.5 85.80 L840.0 85.63 L840.5 85.46 L841.0 85.30 L841.5 85.14 L842.0 84.98 L842.5 84.83 L843.0 84.68 L843.5 84.54 L844.0 84.40 L844.5 84.27 L845.0 84.13 L845.5 84.00 L846.0 83.87 L846.5 83.75 L847.0 83.63 L847.5 83.51 L848.0 83.39 L848.5 83.28 L849.0 83.17 L849.5 83.06 L850.0 82.95 L850.5 82.84 L851.0 82.74 L851.5 82.63 L852.0 82.53 L852.5 82.43 L853.0 82.34 L853.5 82.24 L854.0 82.14 L854.5 82.05 L855.0 81.96 L855.5 81.87 L856.0 81.78 L856.5 81.69 L857.0 81.60 L857.5 81.52 L858.0 81.43 L858.5 81.35 L859.0 81.27 L859.5 81.18 L860.0 81.10 L860.5 81.02 L861.0 80.94 L861.5 80.87 L862.0 80.79 L862.5 80.71 L863.0 80.64 L863.5 80.56 L864.0 80.49 L864.5 80.41 L865.0 80.34 L865.5 80.27 L866.0 80.19 L866.5 80.12 L867.0 80.05 L867.5 79.98 L868.0 79.91 L868.5 79.85 L869.0 79.78 L869.5 79.71 L870.0 79.64 L870.5 79.58 L871.0 79.51 L871.5 79.44 L872.0 79.38 L872.5 79.31 L873.0 79.25 L873.5 79.18 L874.0 79.12 L874.5 79.06 L875.0 79.00 L875.5 78.93 L876.0 78.87 L876.5 78.81 L877.0 78.75 L877.5 78.69 L878.0 78.63 L878.5 78.57 L879.0 78.51 L879.5 78.45 L880.0 78.39 L880.5 78.33 L881.0 78.27 L881.5 78.21 L882.0 78.15 L882.5 78.09 L883.0 78.04 L883.5 77.98 L884.0 77.92 L884.5 77.87 L885.0 77.81 L885.5 77.75 L886.0 77.70 L886.5 77.64 L887.0 77.58 L887.5 77.53 L888.0 77.47 L888.5 77.42 L889.0 77.36 L889.5 77.31 L890.0 77.25 L890.5 77.20 L891.0 77.14 L891.5 77.09 L892.0 77.04 L892.5 76.98 L893.0 76.93 L893.5 76.88 L894.0 76.82 L894.5 76.77 L895.0 76.72 L895.5 76.66 L896.0 76.61 L896.5 76.56 L897.0 76.50 L897.5 76.45 L898.0 76.40 L898.5 76.35 L899.0 76.30 L899.5 76.24 L900.0 76.19 L900.5 76.14 L901.0 76.09 L901.5 76.04 L902.0 75.98 L902.5 75.93 L903.0 75.88 L903.5 75.83 L904.0 75.78 L904.5 75.73 L905.0 75.68 L905.5 75.63 L906.0 75.58 L906.5 75.52 L907.0 75.47 L907.5 75.42 L908.0 75.37 L908.5 75.32 L909.0 75.27 L909.5 75.22 L910.0 75.17 L910.5 75.12 L911.0 75.07 L911.5 75.02 L912.0 74.97 L912.5 74.92 L913.0 74.87 L913.5 74.82 L914.0 74.77 L914.5 74.72 L915.0 74.67 L915.5 74.62 L916.0 74.57 L916.5 74.52 L917.0 74.47 L917.5 74.41 L918.0 74.36 L918.5 74.31 L919.0 74.26 L919.5 74.21 L920.0 74.16 L920.5 74.11 L921.0 74.06 L921.5 74.01 L922.0 73.96 L922.5 73.91 L923.0 73.86 L923.5 73.81 L924.0 73.76 L924.5 73.71 L925.0 73.66 L925.5 73.61 L926.0 73.56 L926.5 73.50 L927.0 73.45 L927.5 73.40 L928.0 73.35 L928.5 73.30 L929.0 73.25 L929.5 73.20 L930.0 73.15 L930.5 73.09 L931.0 73.04" stroke="#f0f921"/>
</g>
<line x1="431" y1="447.5" x2="950" y2="447.5" stroke="#000" stroke-width="1.5"/>
<path d="M953 447.5 L945 444 L947 447.5 L945 451 Z" fill="#000"/>
<rect x="431.5" y="452.5" width="523" height="14.5" fill="url(#plasmaG)" stroke="#333" stroke-width="1"/>
<defs>
<filter id="vir" color-interpolation-filters="sRGB" x="0" y="0" width="100%" height="100%"><feComponentTransfer><feFuncR type="table" tableValues="0.267 0.277 0.282 0.283 0.279 0.271 0.259 0.245 0.230 0.214 0.199 0.186 0.173 0.161 0.149 0.138 0.128 0.121 0.121 0.132 0.158 0.197 0.246 0.304 0.369 0.440 0.516 0.596 0.678 0.762 0.846 0.926 0.993"/><feFuncG type="table" tableValues="0.005 0.050 0.095 0.136 0.175 0.214 0.252 0.288 0.322 0.356 0.388 0.419 0.449 0.479 0.508 0.537 0.567 0.596 0.626 0.655 0.684 0.712 0.739 0.765 0.789 0.811 0.831 0.849 0.864 0.876 0.887 0.897 0.906"/><feFuncB type="table" tableValues="0.329 0.376 0.417 0.453 0.483 0.507 0.525 0.537 0.546 0.551 0.555 0.557 0.558 0.558 0.557 0.555 0.551 0.544 0.533 0.520 0.502 0.479 0.452 0.420 0.383 0.341 0.294 0.243 0.190 0.137 0.100 0.104 0.144"/></feComponentTransfer></filter>
<filter id="bc" x="-50%" y="-50%" width="200%" height="200%"><feGaussianBlur stdDeviation="0.9"/></filter>
<filter id="bh" x="-50%" y="-50%" width="200%" height="200%"><feGaussianBlur stdDeviation="3"/></filter>
<filter id="bg" x="-50%" y="-50%" width="200%" height="200%"><feGaussianBlur stdDeviation="9"/></filter>
<clipPath id="cpA"><rect x="51.6" y="626" width="147.3" height="141.6"/></clipPath>
<clipPath id="cpB"><rect x="85.7" y="659.5" width="154.9" height="143"/></clipPath>
<clipPath id="cpC"><rect x="119.2" y="694.6" width="146.3" height="141.8"/></clipPath>
<radialGradient id="gA" cx="0.05" cy="0.6" r="0.85"><stop offset="0" stop-color="#3a3a3a"/><stop offset="1" stop-color="#000" stop-opacity="0"/></radialGradient>
<radialGradient id="gB" cx="0.05" cy="0.75" r="0.8"><stop offset="0" stop-color="#333"/><stop offset="1" stop-color="#000" stop-opacity="0"/></radialGradient>
<radialGradient id="gC" cx="0.35" cy="0.5" r="0.75"><stop offset="0" stop-color="#303030"/><stop offset="1" stop-color="#000" stop-opacity="0"/></radialGradient>
</defs>
<g clip-path="url(#cpA)">
<g filter="url(#vir)">
<rect x="51.6" y="626.0" width="147.3" height="141.6" fill="#121212"/>
<rect x="51.6" y="626" width="147.3" height="141.6" fill="url(#gA)"/>
<g filter="url(#bg)" style="mix-blend-mode:screen">
<path d="M45 641.5 Q120 646 205 657" fill="none" stroke="#fff" stroke-opacity="0.36" stroke-width="24.0"/>
<path d="M45 681.0 L205 681.0" fill="none" stroke="#fff" stroke-opacity="0.36" stroke-width="24.0"/>
<path d="M45 686.6 L205 686.6" fill="none" stroke="#fff" stroke-opacity="0.36" stroke-width="24.0"/>
<path d="M45 707.4 L205 707.4" fill="none" stroke="#fff" stroke-opacity="0.36" stroke-width="24.0"/>
<path d="M45 713.2 L205 713.2" fill="none" stroke="#fff" stroke-opacity="0.36" stroke-width="24.0"/>
<path d="M45 751.5 Q100 744 205 736" fill="none" stroke="#fff" stroke-opacity="0.36" stroke-width="24.0"/>
</g>
<g filter="url(#bh)" style="mix-blend-mode:screen">
<path d="M45 641.5 Q120 646 205 657" fill="none" stroke="#fff" stroke-opacity="0.41" stroke-width="7.0"/>
<path d="M45 681.0 L205 681.0" fill="none" stroke="#fff" stroke-opacity="0.41" stroke-width="7.0"/>
<path d="M45 686.6 L205 686.6" fill="none" stroke="#fff" stroke-opacity="0.41" stroke-width="7.0"/>
<path d="M45 707.4 L205 707.4" fill="none" stroke="#fff" stroke-opacity="0.41" stroke-width="7.0"/>
<path d="M45 713.2 L205 713.2" fill="none" stroke="#fff" stroke-opacity="0.41" stroke-width="7.0"/>
<path d="M45 751.5 Q100 744 205 736" fill="none" stroke="#fff" stroke-opacity="0.41" stroke-width="7.0"/>
</g>
<g filter="url(#bc)" style="mix-blend-mode:screen">
<path d="M45 641.5 Q120 646 205 657" fill="none" stroke="#fff" stroke-opacity="0.95" stroke-width="4.6"/>
<path d="M45 681.0 L205 681.0" fill="none" stroke="#fff" stroke-opacity="1.00" stroke-width="4.2"/>
<path d="M45 686.6 L205 686.6" fill="none" stroke="#fff" stroke-opacity="1.00" stroke-width="4.2"/>
<path d="M45 707.4 L205 707.4" fill="none" stroke="#fff" stroke-opacity="1.00" stroke-width="4.2"/>
<path d="M45 713.2 L205 713.2" fill="none" stroke="#fff" stroke-opacity="1.00" stroke-width="4.2"/>
<path d="M45 751.5 Q100 744 205 736" fill="none" stroke="#fff" stroke-opacity="0.95" stroke-width="4.4"/>
</g>
</g></g>
<rect x="51.6" y="626.0" width="147.3" height="141.6" fill="none" stroke="#111" stroke-width="1.6"/>
<g clip-path="url(#cpB)">
<g filter="url(#vir)">
<rect x="85.7" y="659.5" width="154.9" height="143.0" fill="#060606"/>
<rect x="85.7" y="659.5" width="154.9" height="143" fill="url(#gB)"/>
<g filter="url(#bg)" style="mix-blend-mode:screen">
<path d="M80 663.5 Q160 668 246 681" fill="none" stroke="#fff" stroke-opacity="0.28" stroke-width="24.0"/>
<path d="M80 658 Q160 661 246 675" fill="none" stroke="#fff" stroke-opacity="0.20" stroke-width="24.0"/>
<path d="M80 695 Q150 701 246 712" fill="none" stroke="#fff" stroke-opacity="0.28" stroke-width="24.0"/>
<path d="M80 728.2 L246 728.2" fill="none" stroke="#fff" stroke-opacity="0.36" stroke-width="24.0"/>
<path d="M80 735.8 L246 735.8" fill="none" stroke="#fff" stroke-opacity="0.36" stroke-width="24.0"/>
<path d="M80 768 Q150 758 246 750" fill="none" stroke="#fff" stroke-opacity="0.36" stroke-width="24.0"/>
<path d="M80 798.5 Q150 790 246 780" fill="none" stroke="#fff" stroke-opacity="0.34" stroke-width="24.0"/>
</g>
<g filter="url(#bh)" style="mix-blend-mode:screen">
<path d="M80 663.5 Q160 668 246 681" fill="none" stroke="#fff" stroke-opacity="0.32" stroke-width="7.0"/>
<path d="M80 658 Q160 661 246 675" fill="none" stroke="#fff" stroke-opacity="0.23" stroke-width="7.0"/>
<path d="M80 695 Q150 701 246 712" fill="none" stroke="#fff" stroke-opacity="0.32" stroke-width="7.0"/>
<path d="M80 728.2 L246 728.2" fill="none" stroke="#fff" stroke-opacity="0.41" stroke-width="7.0"/>
<path d="M80 735.8 L246 735.8" fill="none" stroke="#fff" stroke-opacity="0.41" stroke-width="7.0"/>
<path d="M80 768 Q150 758 246 750" fill="none" stroke="#fff" stroke-opacity="0.41" stroke-width="7.0"/>
<path d="M80 798.5 Q150 790 246 780" fill="none" stroke="#fff" stroke-opacity="0.38" stroke-width="7.0"/>
</g>
<g filter="url(#bc)" style="mix-blend-mode:screen">
<path d="M80 663.5 Q160 668 246 681" fill="none" stroke="#fff" stroke-opacity="0.72" stroke-width="2.8"/>
<path d="M80 658 Q160 661 246 675" fill="none" stroke="#fff" stroke-opacity="0.45" stroke-width="2.6"/>
<path d="M80 695 Q150 701 246 712" fill="none" stroke="#fff" stroke-opacity="0.50" stroke-width="3.2"/>
<path d="M80 728.2 L246 728.2" fill="none" stroke="#fff" stroke-opacity="1.00" stroke-width="4.2"/>
<path d="M80 735.8 L246 735.8" fill="none" stroke="#fff" stroke-opacity="1.00" stroke-width="4.2"/>
<path d="M80 768 Q150 758 246 750" fill="none" stroke="#fff" stroke-opacity="0.80" stroke-width="3.8"/>
<path d="M80 798.5 Q150 790 246 780" fill="none" stroke="#fff" stroke-opacity="0.72" stroke-width="3.6"/>
</g>
</g></g>
<rect x="85.7" y="659.5" width="154.9" height="143.0" fill="none" stroke="#111" stroke-width="1.6"/>
<g clip-path="url(#cpC)">
<g filter="url(#vir)">
<rect x="119.2" y="694.6" width="146.3" height="141.8" fill="#000"/>
<rect x="119.2" y="694.6" width="146.3" height="141.8" fill="url(#gC)"/>
<g filter="url(#bg)" style="mix-blend-mode:screen">
<path d="M110 765.7 L275 765.7" fill="none" stroke="#fff" stroke-opacity="0.32" stroke-width="22.0"/>
<path d="M114.2 656.6 L118.1 670.7 L122.0 681.3 L125.9 689.6 L129.8 696.3 L133.7 701.8 L137.6 706.5 L141.6 710.4 L145.5 713.8 L149.4 716.7 L153.3 719.2 L157.2 721.5 L161.1 723.5 L165.0 725.3 L168.9 727.0 L172.8 728.5 L176.7 729.8 L180.6 731.0 L184.5 732.2 L188.4 733.2 L192.4 734.2 L196.3 735.0 L200.2 735.9 L204.1 736.6 L208.0 737.4 L211.9 738.0 L215.8 738.7 L219.7 739.3 L223.6 739.8 L227.5 740.3 L231.4 740.8 L235.3 741.3 L239.2 741.8 L243.1 742.2 L247.1 742.6 L251.0 743.0 L254.9 743.3 L258.8 743.7 L262.7 744.0 L266.6 744.3 L270.5 744.6" fill="none" stroke="#fff" stroke-opacity="0.29" stroke-width="22.0"/>
<path d="M114.2 663.7 L118.1 681.6 L122.0 694.1 L125.9 703.4 L129.8 710.5 L133.7 716.2 L137.6 720.8 L141.6 724.6 L145.5 727.8 L149.4 730.6 L153.3 732.9 L157.2 735.0 L161.1 736.8 L165.0 738.4 L168.9 739.9 L172.8 741.2 L176.7 742.3 L180.6 743.4 L184.5 744.4 L188.4 745.3 L192.4 746.1 L196.3 746.8 L200.2 747.5 L204.1 748.2 L208.0 748.8 L211.9 749.3 L215.8 749.8 L219.7 750.3 L223.6 750.8 L227.5 751.2 L231.4 751.6 L235.3 752.0 L239.2 752.4 L243.1 752.7 L247.1 753.1 L251.0 753.4 L254.9 753.7 L258.8 753.9 L262.7 754.2 L266.6 754.5 L270.5 754.7" fill="none" stroke="#fff" stroke-opacity="0.29" stroke-width="22.0"/>
<path d="M114.2 897.8 L118.1 877.3 L122.0 862.5 L125.9 851.4 L129.8 842.8 L133.7 835.9 L137.6 830.2 L141.6 825.4 L145.5 821.4 L149.4 818.0 L153.3 815.0 L157.2 812.3 L161.1 810.0 L165.0 808.0 L168.9 806.1 L172.8 804.5 L176.7 803.0 L180.6 801.6 L184.5 800.4 L188.4 799.2 L192.4 798.2 L196.3 797.2 L200.2 796.3 L204.1 795.5 L208.0 794.7 L211.9 794.0 L215.8 793.3 L219.7 792.6 L223.6 792.0 L227.5 791.5 L231.4 790.9 L235.3 790.4 L239.2 790.0 L243.1 789.5 L247.1 789.1 L251.0 788.7 L254.9 788.3 L258.8 787.9 L262.7 787.6 L266.6 787.2 L270.5 786.9" fill="none" stroke="#fff" stroke-opacity="0.29" stroke-width="22.0"/>
<path d="M114.2 878.2 L118.1 856.7 L122.0 842.1 L125.9 831.6 L129.8 823.6 L133.7 817.4 L137.6 812.3 L141.6 808.2 L145.5 804.7 L149.4 801.8 L153.3 799.3 L157.2 797.1 L161.1 795.1 L165.0 793.4 L168.9 791.9 L172.8 790.6 L176.7 789.4 L180.6 788.3 L184.5 787.2 L188.4 786.3 L192.4 785.5 L196.3 784.7 L200.2 784.0 L204.1 783.3 L208.0 782.7 L211.9 782.1 L215.8 781.6 L219.7 781.1 L223.6 780.6 L227.5 780.2 L231.4 779.7 L235.3 779.3 L239.2 779.0 L243.1 778.6 L247.1 778.3 L251.0 778.0 L254.9 777.7 L258.8 777.4 L262.7 777.1 L266.6 776.9 L270.5 776.6" fill="none" stroke="#fff" stroke-opacity="0.29" stroke-width="22.0"/>
<path d="M114.2 666.0 L118.1 672.9 L122.0 678.5 L125.9 683.2 L129.8 687.2 L133.7 690.6 L137.6 693.5 L141.6 696.1 L145.5 698.4 L149.4 700.4 L153.3 702.2 L157.2 703.8 L161.1 705.3 L165.0 706.6 L168.9 707.8 L172.8 709.0 L176.7 710.0 L180.6 710.9 L184.5 711.8 L188.4 712.6 L192.4 713.4 L196.3 714.1 L200.2 714.8 L204.1 715.4 L208.0 716.0 L211.9 716.5 L215.8 717.0 L219.7 717.5 L223.6 718.0 L227.5 718.4 L231.4 718.8 L235.3 719.2 L239.2 719.6 L243.1 720.0 L247.1 720.3 L251.0 720.6 L254.9 720.9 L258.8 721.2 L262.7 721.5 L266.6 721.8 L270.5 722.1" fill="none" stroke="#fff" stroke-opacity="0.08" stroke-width="22.0"/>
<path d="M114.2 865.2 L118.1 858.3 L122.0 852.7 L125.9 848.0 L129.8 844.0 L133.7 840.6 L137.6 837.7 L141.6 835.1 L145.5 832.8 L149.4 830.8 L153.3 829.0 L157.2 827.4 L161.1 825.9 L165.0 824.6 L168.9 823.4 L172.8 822.2 L176.7 821.2 L180.6 820.3 L184.5 819.4 L188.4 818.6 L192.4 817.8 L196.3 817.1 L200.2 816.4 L204.1 815.8 L208.0 815.2 L211.9 814.7 L215.8 814.2 L219.7 813.7 L223.6 813.2 L227.5 812.8 L231.4 812.4 L235.3 812.0 L239.2 811.6 L243.1 811.2 L247.1 810.9 L251.0 810.6 L254.9 810.3 L258.8 810.0 L262.7 809.7 L266.6 809.4 L270.5 809.1" fill="none" stroke="#fff" stroke-opacity="0.08" stroke-width="22.0"/>
</g>
<g filter="url(#bh)" style="mix-blend-mode:screen">
<path d="M110 765.7 L275 765.7" fill="none" stroke="#fff" stroke-opacity="0.35" stroke-width="6.0"/>
<path d="M114.2 656.6 L118.1 670.7 L122.0 681.3 L125.9 689.6 L129.8 696.3 L133.7 701.8 L137.6 706.5 L141.6 710.4 L145.5 713.8 L149.4 716.7 L153.3 719.2 L157.2 721.5 L161.1 723.5 L165.0 725.3 L168.9 727.0 L172.8 728.5 L176.7 729.8 L180.6 731.0 L184.5 732.2 L188.4 733.2 L192.4 734.2 L196.3 735.0 L200.2 735.9 L204.1 736.6 L208.0 737.4 L211.9 738.0 L215.8 738.7 L219.7 739.3 L223.6 739.8 L227.5 740.3 L231.4 740.8 L235.3 741.3 L239.2 741.8 L243.1 742.2 L247.1 742.6 L251.0 743.0 L254.9 743.3 L258.8 743.7 L262.7 744.0 L266.6 744.3 L270.5 744.6" fill="none" stroke="#fff" stroke-opacity="0.32" stroke-width="6.0"/>
<path d="M114.2 663.7 L118.1 681.6 L122.0 694.1 L125.9 703.4 L129.8 710.5 L133.7 716.2 L137.6 720.8 L141.6 724.6 L145.5 727.8 L149.4 730.6 L153.3 732.9 L157.2 735.0 L161.1 736.8 L165.0 738.4 L168.9 739.9 L172.8 741.2 L176.7 742.3 L180.6 743.4 L184.5 744.4 L188.4 745.3 L192.4 746.1 L196.3 746.8 L200.2 747.5 L204.1 748.2 L208.0 748.8 L211.9 749.3 L215.8 749.8 L219.7 750.3 L223.6 750.8 L227.5 751.2 L231.4 751.6 L235.3 752.0 L239.2 752.4 L243.1 752.7 L247.1 753.1 L251.0 753.4 L254.9 753.7 L258.8 753.9 L262.7 754.2 L266.6 754.5 L270.5 754.7" fill="none" stroke="#fff" stroke-opacity="0.32" stroke-width="6.0"/>
<path d="M114.2 897.8 L118.1 877.3 L122.0 862.5 L125.9 851.4 L129.8 842.8 L133.7 835.9 L137.6 830.2 L141.6 825.4 L145.5 821.4 L149.4 818.0 L153.3 815.0 L157.2 812.3 L161.1 810.0 L165.0 808.0 L168.9 806.1 L172.8 804.5 L176.7 803.0 L180.6 801.6 L184.5 800.4 L188.4 799.2 L192.4 798.2 L196.3 797.2 L200.2 796.3 L204.1 795.5 L208.0 794.7 L211.9 794.0 L215.8 793.3 L219.7 792.6 L223.6 792.0 L227.5 791.5 L231.4 790.9 L235.3 790.4 L239.2 790.0 L243.1 789.5 L247.1 789.1 L251.0 788.7 L254.9 788.3 L258.8 787.9 L262.7 787.6 L266.6 787.2 L270.5 786.9" fill="none" stroke="#fff" stroke-opacity="0.32" stroke-width="6.0"/>
<path d="M114.2 878.2 L118.1 856.7 L122.0 842.1 L125.9 831.6 L129.8 823.6 L133.7 817.4 L137.6 812.3 L141.6 808.2 L145.5 804.7 L149.4 801.8 L153.3 799.3 L157.2 797.1 L161.1 795.1 L165.0 793.4 L168.9 791.9 L172.8 790.6 L176.7 789.4 L180.6 788.3 L184.5 787.2 L188.4 786.3 L192.4 785.5 L196.3 784.7 L200.2 784.0 L204.1 783.3 L208.0 782.7 L211.9 782.1 L215.8 781.6 L219.7 781.1 L223.6 780.6 L227.5 780.2 L231.4 779.7 L235.3 779.3 L239.2 779.0 L243.1 778.6 L247.1 778.3 L251.0 778.0 L254.9 777.7 L258.8 777.4 L262.7 777.1 L266.6 776.9 L270.5 776.6" fill="none" stroke="#fff" stroke-opacity="0.32" stroke-width="6.0"/>
<path d="M114.2 666.0 L118.1 672.9 L122.0 678.5 L125.9 683.2 L129.8 687.2 L133.7 690.6 L137.6 693.5 L141.6 696.1 L145.5 698.4 L149.4 700.4 L153.3 702.2 L157.2 703.8 L161.1 705.3 L165.0 706.6 L168.9 707.8 L172.8 709.0 L176.7 710.0 L180.6 710.9 L184.5 711.8 L188.4 712.6 L192.4 713.4 L196.3 714.1 L200.2 714.8 L204.1 715.4 L208.0 716.0 L211.9 716.5 L215.8 717.0 L219.7 717.5 L223.6 718.0 L227.5 718.4 L231.4 718.8 L235.3 719.2 L239.2 719.6 L243.1 720.0 L247.1 720.3 L251.0 720.6 L254.9 720.9 L258.8 721.2 L262.7 721.5 L266.6 721.8 L270.5 722.1" fill="none" stroke="#fff" stroke-opacity="0.09" stroke-width="6.0"/>
<path d="M114.2 865.2 L118.1 858.3 L122.0 852.7 L125.9 848.0 L129.8 844.0 L133.7 840.6 L137.6 837.7 L141.6 835.1 L145.5 832.8 L149.4 830.8 L153.3 829.0 L157.2 827.4 L161.1 825.9 L165.0 824.6 L168.9 823.4 L172.8 822.2 L176.7 821.2 L180.6 820.3 L184.5 819.4 L188.4 818.6 L192.4 817.8 L196.3 817.1 L200.2 816.4 L204.1 815.8 L208.0 815.2 L211.9 814.7 L215.8 814.2 L219.7 813.7 L223.6 813.2 L227.5 812.8 L231.4 812.4 L235.3 812.0 L239.2 811.6 L243.1 811.2 L247.1 810.9 L251.0 810.6 L254.9 810.3 L258.8 810.0 L262.7 809.7 L266.6 809.4 L270.5 809.1" fill="none" stroke="#fff" stroke-opacity="0.09" stroke-width="6.0"/>
</g>
<g filter="url(#bc)" style="mix-blend-mode:screen">
<path d="M110 765.7 L275 765.7" fill="none" stroke="#fff" stroke-opacity="1.00" stroke-width="5.4"/>
<path d="M114.2 656.6 L118.1 670.7 L122.0 681.3 L125.9 689.6 L129.8 696.3 L133.7 701.8 L137.6 706.5 L141.6 710.4 L145.5 713.8 L149.4 716.7 L153.3 719.2 L157.2 721.5 L161.1 723.5 L165.0 725.3 L168.9 727.0 L172.8 728.5 L176.7 729.8 L180.6 731.0 L184.5 732.2 L188.4 733.2 L192.4 734.2 L196.3 735.0 L200.2 735.9 L204.1 736.6 L208.0 737.4 L211.9 738.0 L215.8 738.7 L219.7 739.3 L223.6 739.8 L227.5 740.3 L231.4 740.8 L235.3 741.3 L239.2 741.8 L243.1 742.2 L247.1 742.6 L251.0 743.0 L254.9 743.3 L258.8 743.7 L262.7 744.0 L266.6 744.3 L270.5 744.6" fill="none" stroke="#fff" stroke-opacity="0.80" stroke-width="2.8"/>
<path d="M114.2 663.7 L118.1 681.6 L122.0 694.1 L125.9 703.4 L129.8 710.5 L133.7 716.2 L137.6 720.8 L141.6 724.6 L145.5 727.8 L149.4 730.6 L153.3 732.9 L157.2 735.0 L161.1 736.8 L165.0 738.4 L168.9 739.9 L172.8 741.2 L176.7 742.3 L180.6 743.4 L184.5 744.4 L188.4 745.3 L192.4 746.1 L196.3 746.8 L200.2 747.5 L204.1 748.2 L208.0 748.8 L211.9 749.3 L215.8 749.8 L219.7 750.3 L223.6 750.8 L227.5 751.2 L231.4 751.6 L235.3 752.0 L239.2 752.4 L243.1 752.7 L247.1 753.1 L251.0 753.4 L254.9 753.7 L258.8 753.9 L262.7 754.2 L266.6 754.5 L270.5 754.7" fill="none" stroke="#fff" stroke-opacity="0.80" stroke-width="2.8"/>
<path d="M114.2 897.8 L118.1 877.3 L122.0 862.5 L125.9 851.4 L129.8 842.8 L133.7 835.9 L137.6 830.2 L141.6 825.4 L145.5 821.4 L149.4 818.0 L153.3 815.0 L157.2 812.3 L161.1 810.0 L165.0 808.0 L168.9 806.1 L172.8 804.5 L176.7 803.0 L180.6 801.6 L184.5 800.4 L188.4 799.2 L192.4 798.2 L196.3 797.2 L200.2 796.3 L204.1 795.5 L208.0 794.7 L211.9 794.0 L215.8 793.3 L219.7 792.6 L223.6 792.0 L227.5 791.5 L231.4 790.9 L235.3 790.4 L239.2 790.0 L243.1 789.5 L247.1 789.1 L251.0 788.7 L254.9 788.3 L258.8 787.9 L262.7 787.6 L266.6 787.2 L270.5 786.9" fill="none" stroke="#fff" stroke-opacity="0.76" stroke-width="2.8"/>
<path d="M114.2 878.2 L118.1 856.7 L122.0 842.1 L125.9 831.6 L129.8 823.6 L133.7 817.4 L137.6 812.3 L141.6 808.2 L145.5 804.7 L149.4 801.8 L153.3 799.3 L157.2 797.1 L161.1 795.1 L165.0 793.4 L168.9 791.9 L172.8 790.6 L176.7 789.4 L180.6 788.3 L184.5 787.2 L188.4 786.3 L192.4 785.5 L196.3 784.7 L200.2 784.0 L204.1 783.3 L208.0 782.7 L211.9 782.1 L215.8 781.6 L219.7 781.1 L223.6 780.6 L227.5 780.2 L231.4 779.7 L235.3 779.3 L239.2 779.0 L243.1 778.6 L247.1 778.3 L251.0 778.0 L254.9 777.7 L258.8 777.4 L262.7 777.1 L266.6 776.9 L270.5 776.6" fill="none" stroke="#fff" stroke-opacity="0.76" stroke-width="2.8"/>
<path d="M114.2 666.0 L118.1 672.9 L122.0 678.5 L125.9 683.2 L129.8 687.2 L133.7 690.6 L137.6 693.5 L141.6 696.1 L145.5 698.4 L149.4 700.4 L153.3 702.2 L157.2 703.8 L161.1 705.3 L165.0 706.6 L168.9 707.8 L172.8 709.0 L176.7 710.0 L180.6 710.9 L184.5 711.8 L188.4 712.6 L192.4 713.4 L196.3 714.1 L200.2 714.8 L204.1 715.4 L208.0 716.0 L211.9 716.5 L215.8 717.0 L219.7 717.5 L223.6 718.0 L227.5 718.4 L231.4 718.8 L235.3 719.2 L239.2 719.6 L243.1 720.0 L247.1 720.3 L251.0 720.6 L254.9 720.9 L258.8 721.2 L262.7 721.5 L266.6 721.8 L270.5 722.1" fill="none" stroke="#fff" stroke-opacity="0.00" stroke-width="2.4"/>
<path d="M114.2 865.2 L118.1 858.3 L122.0 852.7 L125.9 848.0 L129.8 844.0 L133.7 840.6 L137.6 837.7 L141.6 835.1 L145.5 832.8 L149.4 830.8 L153.3 829.0 L157.2 827.4 L161.1 825.9 L165.0 824.6 L168.9 823.4 L172.8 822.2 L176.7 821.2 L180.6 820.3 L184.5 819.4 L188.4 818.6 L192.4 817.8 L196.3 817.1 L200.2 816.4 L204.1 815.8 L208.0 815.2 L211.9 814.7 L215.8 814.2 L219.7 813.7 L223.6 813.2 L227.5 812.8 L231.4 812.4 L235.3 812.0 L239.2 811.6 L243.1 811.2 L247.1 810.9 L251.0 810.6 L254.9 810.3 L258.8 810.0 L262.7 809.7 L266.6 809.4 L270.5 809.1" fill="none" stroke="#fff" stroke-opacity="0.00" stroke-width="2.4"/>
</g>
</g></g>
<rect x="119.2" y="694.6" width="146.3" height="141.8" fill="none" stroke="#111" stroke-width="1.6"/>
<text x="210" y="718.2" font-size="23" fill="#fff" textLength="48.7" lengthAdjust="spacingAndGlyphs">A(ω)</text>
<line x1="61" y1="790" x2="61" y2="827.5" stroke="#000" stroke-width="2.2"/>
<line x1="60" y1="826.7" x2="96" y2="826.7" stroke="#000" stroke-width="2.2"/>
<path d="M61 772 L70 800 L61 796 L52 800 Z" fill="#000"/>
<path d="M115 826.7 L88 817.5 L92 826.7 L88 836 Z" fill="#000"/>
<g stroke="#22e022" stroke-width="4">
<line x1="400.2" y1="698.5" x2="467.1" y2="654.1"/>
<line x1="400.2" y1="698.5" x2="469.7" y2="712.7"/>
<line x1="400.2" y1="698.5" x2="471.4" y2="774.6"/>
<line x1="467.1" y1="654.1" x2="531.6" y2="670.6"/>
<line x1="467.1" y1="654.1" x2="532.6" y2="741.8"/>
<line x1="469.7" y1="712.7" x2="531.6" y2="670.6"/>
<line x1="469.7" y1="712.7" x2="532.6" y2="741.8"/>
<line x1="471.4" y1="774.6" x2="531.6" y2="670.6"/>
<line x1="471.4" y1="774.6" x2="532.6" y2="741.8"/>
</g>
<circle cx="400.2" cy="698.5" r="14" fill="#0000ee" stroke="#fff" stroke-width="1.2"/>
<circle cx="467.1" cy="654.1" r="14" fill="#0000ee" stroke="#fff" stroke-width="1.2"/>
<circle cx="469.7" cy="712.7" r="14" fill="#0000ee" stroke="#fff" stroke-width="1.2"/>
<circle cx="471.4" cy="774.6" r="14" fill="#0000ee" stroke="#fff" stroke-width="1.2"/>
<circle cx="531.6" cy="670.6" r="14" fill="#0000ee" stroke="#fff" stroke-width="1.2"/>
<circle cx="532.6" cy="741.8" r="14" fill="#0000ee" stroke="#fff" stroke-width="1.2"/>
<line x1="306" y1="711.7" x2="345" y2="711.7" stroke="#0000ee" stroke-width="2.2"/>
<path d="M364.5 711.7 Q350 706 333 700.7 Q340 711.7 333 722.7 Q350 717 364.5 711.7 Z" fill="#0000ee"/>
<line x1="553" y1="708.7" x2="592" y2="708.2" stroke="#0000ee" stroke-width="2.2"/>
<path d="M611 707.7 Q596.5 702 579.5 696.7 Q586.5 707.7 579.5 718.7 Q596.5 713 611 707.7 Z" fill="#0000ee"/>
<text x="17.80" y="62.40" font-size="38.80" font-weight="bold" fill="#000" textLength="18.20" lengthAdjust="spacingAndGlyphs">a</text>
<text x="39.40" y="61.10" font-size="34.50" font-weight="bold" fill="#000" textLength="12.60" lengthAdjust="spacingAndGlyphs">)</text>
<text x="64.60" y="78.70" font-size="23.70" font-weight="bold" fill="#000" textLength="50.40" lengthAdjust="spacingAndGlyphs">STM</text>
<text x="71.80" y="108.80" font-size="24.60" font-weight="bold" fill="#000" textLength="36.20" lengthAdjust="spacingAndGlyphs">Tip</text>
<text x="37.60" y="238.90" font-size="23.70" font-weight="bold" fill="#000" textLength="108.60" lengthAdjust="spacingAndGlyphs">Molecule</text>
<text stroke="#000" stroke-width="0.7" x="308.00" y="114.00" font-size="39.20" fill="#000" textLength="22.00" lengthAdjust="spacingAndGlyphs">Z</text>
<text x="360.00" y="57.70" font-size="31.50" font-weight="bold" fill="#000" textLength="21.80" lengthAdjust="spacingAndGlyphs">b</text>
<text x="383.60" y="56.80" font-size="28.50" font-weight="bold" fill="#000" textLength="11.40" lengthAdjust="spacingAndGlyphs">)</text>
<text x="0" y="0" font-size="24.40" fill="#000" textLength="55.80" lengthAdjust="spacingAndGlyphs" transform="translate(423.90 235.20) rotate(-90)">dI/dV</text>
<text x="641.60" y="412.00" font-size="23.30" fill="#000" textLength="101.80" lengthAdjust="spacingAndGlyphs">Bias (eV)</text>
<text x="430.20" y="445.20" font-size="17.20" fill="#000" textLength="61.20" lengthAdjust="spacingAndGlyphs">Farther</text>
<text x="624.00" y="445.20" font-size="25.30" fill="#000" textLength="137.00" lengthAdjust="spacingAndGlyphs">Z (relative)</text>
<text x="900.80" y="445.20" font-size="17.20" fill="#000" textLength="54.00" lengthAdjust="spacingAndGlyphs">Closer</text>
<text x="26.00" y="527.70" font-size="39.20" font-weight="bold" fill="#000" textLength="18.40" lengthAdjust="spacingAndGlyphs">c</text>
<text x="46.00" y="526.40" font-size="34.90" font-weight="bold" fill="#000" textLength="11.40" lengthAdjust="spacingAndGlyphs">)</text>
<text x="198.80" y="522.10" font-size="30.40" font-weight="bold" fill="#000" textLength="608.20" lengthAdjust="spacingAndGlyphs">Molecular Hamiltonian Learning protocol</text>
<text x="47.40" y="577.30" font-size="27.20" font-weight="bold" fill="#000" textLength="257.20" lengthAdjust="spacingAndGlyphs">Setpoint dependent</text>
<text x="90.80" y="608.90" font-size="27.20" font-weight="bold" fill="#000" textLength="170.00" lengthAdjust="spacingAndGlyphs">spectroscopy</text>
<text x="343.00" y="829.20" font-size="28.90" font-weight="bold" fill="#000" textLength="258.00" lengthAdjust="spacingAndGlyphs">Trained Algorithm</text>
<text x="617.60" y="646.10" font-size="26.30" font-weight="bold" fill="#000" textLength="330.00" lengthAdjust="spacingAndGlyphs">Hamiltonian Inferrence:</text>
<text x="625.00" y="679.70" font-size="26.30" fill="#000" textLength="152.00" lengthAdjust="spacingAndGlyphs">Crystal-field</text>
<text x="624.00" y="713.60" font-size="26.30" fill="#000" textLength="252.80" lengthAdjust="spacingAndGlyphs">Spin-Orbit Coupling</text>
<text x="625.00" y="747.20" font-size="26.30" fill="#000" textLength="183.40" lengthAdjust="spacingAndGlyphs">Orbital mixing</text>
<text x="624.00" y="780.50" font-size="26.30" fill="#000" textLength="261.00" lengthAdjust="spacingAndGlyphs">External parameters</text>
<text x="210.00" y="718.20" font-size="24.10" fill="#fff" textLength="49.80" lengthAdjust="spacingAndGlyphs">A(ω)</text>
<path d="M27.8 778.2 C24.5 782 23.8 791 28 793.6 C31.5 795.8 35.2 793 35.4 787 L35.4 784.5 M35.4 787 C35.6 793 39.3 795.8 42.8 793.6 C47 791 46.3 782 43 778.2" fill="none" stroke="#000" stroke-width="2.3" stroke-linecap="round"/>
<path d="M116.3 838.2 C114 835.8 107 835.6 105.5 839 C104.3 842 107.5 843.4 110.8 843.4 M110.8 843.4 C106.5 843.4 103.8 845 104.2 847.6 C105 851.3 113.5 851.6 117 848.8" fill="none" stroke="#000" stroke-width="2.1" stroke-linecap="round"/>
</svg>
</body></html>
